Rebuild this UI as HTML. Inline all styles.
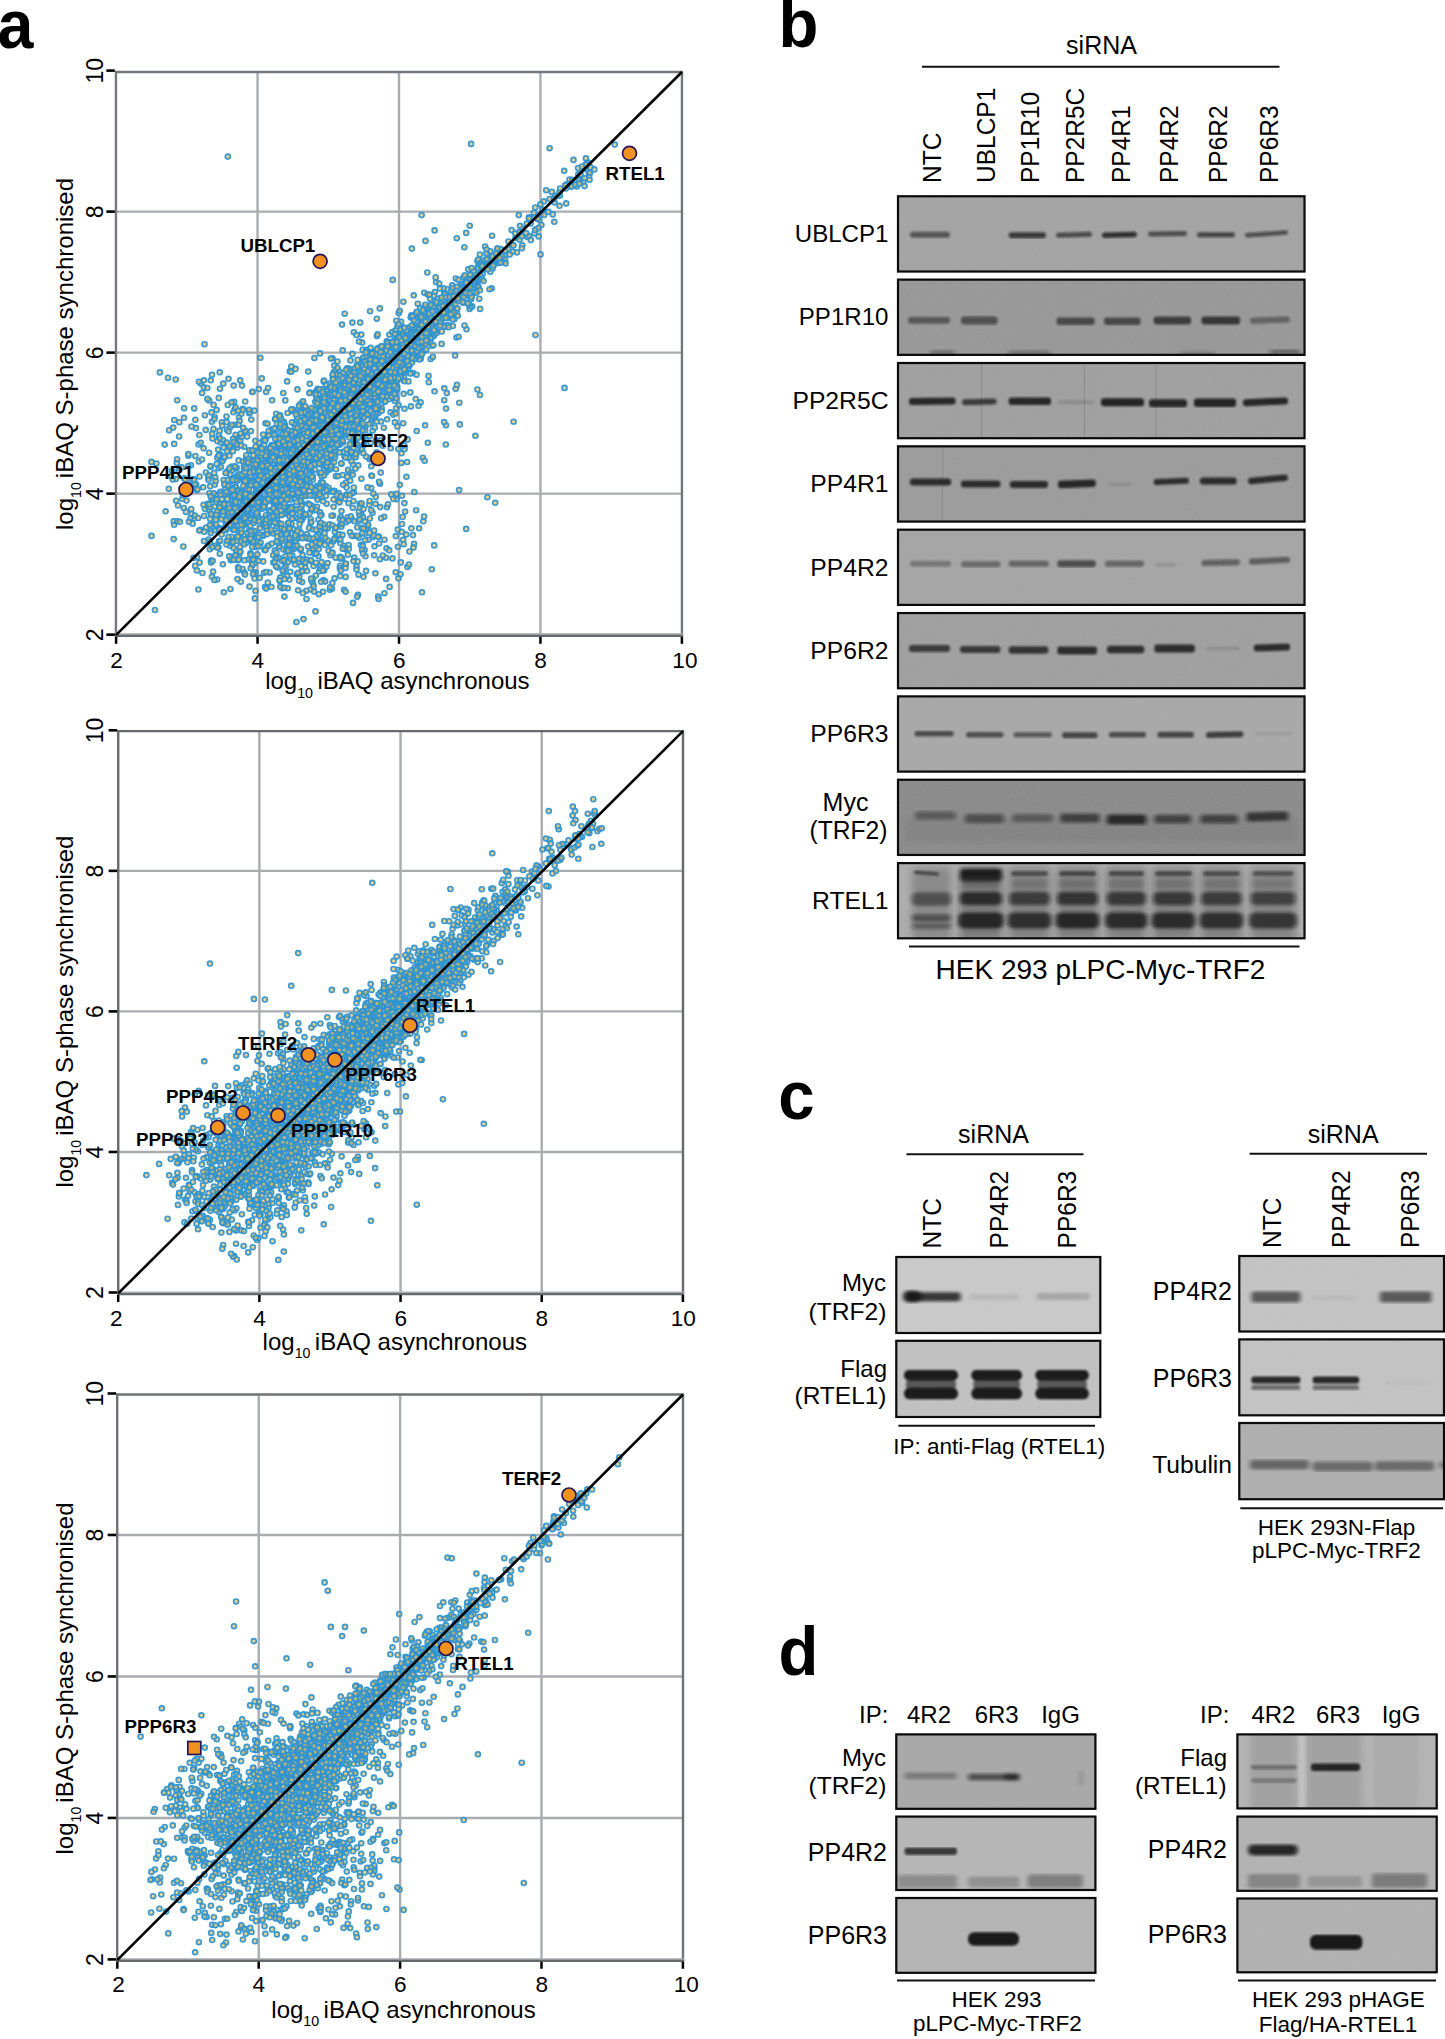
<!DOCTYPE html>
<html><head><meta charset="utf-8"><title>Figure</title>
<style>
html,body{margin:0;padding:0;background:#fff;}
body{width:1445px;height:2039px;overflow:hidden;}
svg{display:block;position:absolute;left:0;top:0;}
text{font-family:"Liberation Sans",sans-serif;fill:#000;}
.b{font-weight:bold;}
</style></head><body>
<svg width="1445" height="2039" viewBox="0 0 1445 2039">
<defs><marker id="m" markerWidth="10" markerHeight="10" refX="5" refY="5" markerUnits="userSpaceOnUse"><circle cx="5" cy="5" r="2.48" fill="#e2bd5e" fill-opacity="0.7" stroke="#2f94d2" stroke-opacity="0.95" stroke-width="1.68"/></marker></defs>
<line x1="257.55" y1="72.0" x2="257.55" y2="635.2" stroke="#a9adb0" stroke-width="2.4"/>
<line x1="115.95" y1="493.64" x2="681.95" y2="493.64" stroke="#a9adb0" stroke-width="2.4"/>
<line x1="399.00" y1="72.0" x2="399.00" y2="635.2" stroke="#a9adb0" stroke-width="2.4"/>
<line x1="115.95" y1="352.62" x2="681.95" y2="352.62" stroke="#a9adb0" stroke-width="2.4"/>
<line x1="540.45" y1="72.0" x2="540.45" y2="635.2" stroke="#a9adb0" stroke-width="2.4"/>
<line x1="115.95" y1="211.61" x2="681.95" y2="211.61" stroke="#a9adb0" stroke-width="2.4"/>
<path d="M115.95 635.2V72.0H681.95V635.2" fill="none" stroke="#71777d" stroke-width="2.4"/>
<polyline points="231.7,512.7 391.4,387.7 328.6,550.8 265.5,423.2 320.2,458.3 279.6,488.2 232.8,507.9 331.9,393.4 322.5,414.5 204,541.1 413.7,295.3 394.9,422.4 252,462.6 353.1,387.7 276,455.7 302.3,438.9 357,403.6 232.3,495.6 339.5,408.6 420.6,402.4 403.7,393.8 292,453.9 378.6,413.1 212.7,514.7 309.3,456.2 310,392.6 220.3,492.8 292.5,431.4 428.5,375.9 456.7,309.5 365.1,412.9 360.3,402.6 269.6,501.3 257.3,515.5 253.1,532.8 345.2,418 335.8,386.4 263.4,463.4 271.4,531.7 354,456.8 340.7,437.7 275.1,419.2 410.9,406.4 314.7,454.6 308.5,445.7 255,502.6 313.5,429.3 418.5,405.8 348.8,472.4 296.9,419.6 332.8,417 333.9,434.7 365.9,439.8 295.5,368.9 364,428.6 303.1,517.4 323,421.4 227.4,527.3 351.3,453.1 253.5,517.3 283.9,421.7 316,396 271.5,445.6 291.3,411.1 226,529.9 257.8,478.7 350.4,407.7 265.4,517.8 381.8,443 243.6,520.8 229.4,455.8 281.6,527.8 311.2,440.7 363.8,437.2 248,491.1 309.3,458.7 396.6,354.9 295.8,459.6 294.2,510.7 321.1,410.3 304.4,458.2 280.1,484.6 210.4,530.8 314.4,358 289.5,480.1 258.8,389.1 227.9,470.8 373.3,365.6 361,411.9 381.6,407.8 323.1,464.9 349.3,429.9 353.4,389.2 390.6,412.3 324.6,421.7 331.3,467.9 251.3,419.6 255.2,464.7 250.9,483.3 332.2,424.2 254.4,410.6 222.8,564.3 323.8,470.4 384.6,402 288.6,448 242.6,569 296.1,439.4 372.1,419.1 322.7,431.5 290.1,465.6 408.2,342.6 413.5,342.4 329.2,469.7 383.8,427.7 361.3,449.8 372,419.3 403,379.2 365.3,408.5 351.4,472.2 270,469.4 258,474.1 312.7,445.6 342.7,350.3 324.5,422.9 314.8,439.4 307.1,410.1 304,430.4 355.4,427.6 249.2,498.3 209.8,549.2 310.3,485.5 240.4,492.3 376.9,336.1 303.9,450.9 307.8,464.7 196.9,490.1 340.6,440.9 274,470.3 364.7,376.1 341.3,382.4 268.5,480.8 353.4,439.9 287.5,489 394.8,392.9 348.1,394.6 352.9,464.4 336,469.2 237.6,518.1 190.9,465.2 326.2,432.7 459.3,402.7 197,557.2 327.1,390.7 377.8,444.1 351.9,381.4 276.6,498.8 299.9,486 287.6,413 261.2,500.2 270.9,531.2 260.2,483.9 322.1,459.7 332.8,423.3 331.7,464.4 352.8,474.7 256.1,458.7 269.6,476.2 380.3,391.8 298.4,434.4 293.2,432.1 356.4,387.4 373.9,372.9 368.4,363.7 341.2,428.3 326.2,461.6 343,442.5 335.9,447 410.3,392.4 302.8,402.1 345.1,407.6 315.6,448.7 396.2,381.1 173.7,521.4 369.5,459.3 336.5,386.7 257,509.9 441.6,343.9 326.2,472.2 291.8,439 245.8,490.3 367.1,404.2 336.5,442.9 299.5,492.2 324.4,430.6 336.6,394.1 352.4,353.9 358.2,465.4 236,468.5 297.3,486.4 196.9,570.4 289.2,496.8 370.8,422.8 364,444.7 306.6,448.2 303,469.3 360.2,322.6 329.3,429.6 344.4,378.3 331.5,419.8 301.6,502.6 398,363.4 268.7,529.9 246.2,503.1 298.4,474 266.9,474.4 235.3,424.7 268.1,461.8 360.8,386.4 319.4,443.8 332.2,425.1 226.9,525.3 286.7,506.5 383,398.2 242.1,499.8 392.7,398 221,460.4 324,422.5 265.9,485.7 348.9,458.1 255.6,481.1 271.9,429.3 405.7,358.7 326,495.8 417.7,332.1 287.4,466.1 247.3,502 318.6,440.8 316.8,490.2 444.3,388.3 368.3,407.3 374.3,379.4 382.6,445.7 446.6,315.1 357.1,403.1 335,408.9 263.7,481.7 270.1,496.5 318,428.6 374.6,399.1 374.7,386.6 274.3,504.4 334.6,408.5 320.2,429.8 259.1,507.7 342.2,418.1 195.2,565.9 350,452.2 424.3,292.8 222.6,460.9 328.6,456.7 208.6,539.5 299.5,509.5 352.2,402.3 236.1,476.8 353.8,487.5 302.5,470.3 285,455.3 309.5,419.5 350.1,429 366,365.9 365.3,407.2 306,495.9 362.2,342.6 373.1,371.1 240.1,535.4 380.7,440.3 375.2,417.9 356.2,384.1 370.6,442.7 238,505.6 296.4,454.9 211.1,560.5 284.4,431.3 480,395 372.7,430.5 362.2,403.7 275.5,460.1 237.6,475.4 263.9,507.4 333.4,450.4 263.4,478.6 276.1,473.8 384.9,393.8 225.4,529.4 208.5,477.9 299.2,483.4 312.9,453.7 320.6,464.5 225.1,503.2 283.3,393 282.9,426.8 338.1,430.6 295.8,540.5 371.5,475.5 331,437.8 250.7,450.9 295.5,448.9 292.6,481.6 393.8,380.3 238.6,522 248.6,559.4 276.3,446.6 236.2,438.3 275,448.7 329.5,383.5 269.6,572.5 265.1,484.9 274.4,428.3 261.5,519 352.4,443.3 332,427.2 279.5,484.9 239.1,556.8 408.3,368.8 325.1,405.4 347.2,432.5 335.1,457.5 319.6,450.6 374.3,416.3 323.8,455.6 275.5,472.5 348.3,403.3 328.4,452.2 261.9,474 287.4,513.5 398.6,405.2 308.2,371.6 416.9,337.8 271.2,457.2 261.9,470.9 337.7,425 383.4,367.5 355.9,422.8 342.6,426.8 420.6,350.9 259.1,468 240.6,503 301.8,510.8 249.3,413.2 366.1,456.6 357,378.9 357.5,444.6 344.7,313.7 261.6,479.4 430.7,359 273.2,489.4 394.9,401 247,476.5 321,414.8 303.7,428.5 350.6,425.9 362.1,412.7 299.8,452.5 304.9,442.1 320.6,425.4 245.9,514.3 256.5,464.2 226.2,528.4 311,440.6 421,315.8 341.9,393.5 295.7,517.5 264.2,469.3 373.1,399.8 314.4,494.7 242.3,542.7 259.6,498.1 276.9,518.6 232,470.5 325.8,384.4 309.6,432.3 230.3,518.1 283,470.3 289,539.6 281.6,539.6 232.8,522.5 411,356.1 279.8,442.6 350.1,419.2 333.9,372.1 319.8,490.6 331.9,405.4 352.8,425.6 300.3,407 455.1,355.4 340.2,440.2 338.7,493 349,410.7 376.8,318.7 351.2,376.1 264.1,445 298,519 252.1,480.9 264,464.3 345.3,434.5 363.4,403.9 202.4,573 302.9,435 216.7,464 323.7,381.6 320,353.4 296.6,509.1 307,484.7 255.8,486.8 346.1,434.8 240.9,541.5 265.9,515.2 287.3,489.9 395.4,395.6 442.4,318.1 272.1,400.3 195.3,456 341.5,463.8 278.8,500.9 289.8,371.4 257.7,505.8 277.1,446.4 302.2,433.9 291.3,366.5 324.1,462.4 379,375.1 335.6,452.6 238,560.3 387.1,419.3 329.5,490.4 283.5,484.6 397.6,368 248.5,484 327.4,449.8 271.1,476.8 362.7,349.7 317.1,485.8 339.6,444.8 188.3,466.1 353.9,332.2 252.5,496 336.1,369.9 396.1,408.2 382.4,382 420.7,358.7 269.5,523.6 360.6,448.1 315.7,431.2 347.9,433.6 376.8,390.6 334.9,453.4 281.1,497.7 335.9,476.3 405.7,372.8 242,497.1 320.3,442 239.9,474 378.7,391.4 255.4,560 284,450.4 275.4,418.8 318.4,436.2 429.3,309.4 396.2,361.7 247.8,487 429.8,331.2 230.9,487.5 244.4,572.6 229.9,518.8 334.4,443 356.8,430.2 193.6,557.9 345.6,429.6 294.9,453.3 342.7,398 289.1,460 370.9,405.7 319.4,389.8 234.2,488.6 375,352.1 314.2,421.9 374.8,427.5 380.1,376.6 256.2,489.6 312.1,451.2 290.6,507.7 249.5,479.5 347.6,449.5 287.1,381.4 367.5,356.6 415.7,399 342.6,475 273.3,492.1 419.8,322.4 324.2,465.6 256.8,485.6 321.3,496.2 351.7,452 388.9,399.2 349.4,376.9 355.9,439.9 296.3,452.7 318.7,431 289.7,452.8 315.8,438.4 318.4,459.5 358.4,432.9 230.8,560.3 361.2,527.8 292.4,453.5 276.8,526.6 292.7,441.1 254.9,496.7 257,457.6 322.5,483.2 306.2,463.2 286.7,477.7 371,384.3 343.1,451.9 322.3,418.3 334.8,440.2 327.7,528.4 265.2,489 347.4,388.7 276.7,444.3 236.5,554.2 199.6,562.6 312.2,418.9 259.9,468.1 311.9,449.2 266.7,454.9 333.6,506.8 302.1,450.6 245.4,507.7 312.2,444.3 332.5,358.3 324,380.6 215.7,530.2 243.3,515.6 220.5,491.9 334.4,490.7 369.1,408.7 356.9,452.8 244.5,560.3 313.6,438 404.6,449.1 293.6,471.3 379.8,308.4 235.6,434.9 377.3,383.2 456.5,337.5 248.7,514 406.2,534.6 283.4,549.5 335.6,537.3 345.9,522.2 239.3,552.2 320,566.5 323.5,580.1 367.5,528.1 374.5,546.3 360.9,544.9 255.5,590.9 345.7,563.8 303.5,496.2 346.6,487.6 347.7,517.2 372.6,537.2 305.8,515 329.9,589.8 313,583.7 305.1,487.8 264,572.7 280.9,534.9 233.4,558.7 342.3,558.8 338.1,501.4 345.8,482.7 384.4,593.2 273.2,555.2 346.8,494.8 325.8,486.1 345.6,549.2 302.9,570.9 317,497.5 334.8,531.8 308,546.6 345,548 290.3,571.7 251.8,559.9 299.1,529.1 289.8,544.8 307.5,538.5 407.5,566.9 295.8,491.9 334,539.9 238.8,559.5 302.6,555.1 281.7,504.6 340.1,525.3 343.1,484.7 356.5,566.4 299.3,576.6 316.9,546.4 253.3,540.6 380.2,507.1 369.6,532.8 367.7,526.3 353.9,535.9 257.1,513.6 330.5,468.4 326.7,503.7 374.1,530.5 289.4,579.6 280.2,534.4 240.2,534 229.5,539.6 335.5,528.2 340.8,517 266.3,572 358,594.8 351.9,519.2 240.8,581.7 290,542.4 299.6,537.5 340,565.7 275,509.6 293.1,529.1 341.5,511.1 353.5,501 267.4,546.5 405.1,511.6 325.3,529.2 252,534.7 310.6,589.5 333.1,515.6 329.5,524.4 341.4,526.8 336.9,494.9 302.7,484.9 269.1,510.4 424.1,516.5 245,574.6 314.1,591.6 319.5,490.8 333.6,499.4 386,557.7 295.5,487.2 300.6,550 350,532.3 255.5,521.1 345.8,563.7 359.7,503.8 288.4,494.4 356.5,569.6 309.7,513.1 310.4,538.9 290.9,545.9 348,469.9 313.4,548.8 285.9,512.9 264.9,505 319.2,571.3 291.4,481.9 344.6,457 411.4,528.3 257.4,554.4 287.1,576.2 423.3,521.3 308.3,537 281.5,541.4 289,548.9 198.4,589.5 289.5,540.4 398.5,578.3 312.5,529.3 310.8,519.2 236,537.5 317.5,499.8 333.2,541.5 332,588.7 364.6,550.1 263.3,535.2 306.9,534.1 324.6,539.4 298.1,538.5 287.7,588.2 395.7,572.2 311.4,509.6 311.2,561.2 230,545.8 359,537.8 401.3,462.9 263.3,520.6 293.8,494.3 254.9,598.4 263.2,561.4 313.3,506.7 311.7,581.1 371.2,488.1 434.2,545.4 361.4,514.3 315.2,540.6 246,543 305.3,567.6 213.1,571.6 286.3,559.4 341.8,523.7 211.9,576.8 306.6,559.9 406.4,476.8 262.9,525.5 292.3,555.2 332.4,525.2 397.8,529.6 332.4,552.5 251.1,554 338.1,476.1 268.7,545.4 313.1,548.4 330.4,555.3 427.8,442.8 335.6,557.7 344.1,589.8 378.7,536.6 319.8,473.2 359.4,515.2 251.7,541.5 312.6,495.8 276.9,515.4 247.6,537.7 402.6,517 289.2,537.9 289.6,516.5 330.1,587.2 358.8,511.5 339.9,519.3 354.2,557.6 273.1,533.4 265.1,587.1 319.7,540.4 397.9,546.8 320.3,532.2 255.3,515.4 247.4,522.8 254.6,578.5 401.7,531.8 301.7,520.2 277.4,532.9 431.8,569.3 310.6,523 386.5,548.3 313.6,566 363.5,528.5 301.6,504.2 275.1,509.8 321.9,525.9 340.3,556.9 362.7,545.9 309.2,538.5 282.1,588.2 274.8,502.3 315.7,529.9 267.8,582.5 329.7,459.2 332.4,583 327.5,540.2 252.2,565.5 313.6,586.2 304,514.6 274.3,518.7 309.5,490.9 284.9,563 321.1,541.5 283.8,530.1 323.1,568 293.2,548.9 343.7,545.7 320.9,568.8 311.3,522.1 382.9,555.5 306.3,590.7 367.5,487.4 251.6,539.1 373.8,535.3 361,504.9 287.8,562.2 291.3,533.4 284.6,537.2 302.1,582.1 403.1,539.8 286.3,485 379.9,559.2 231.8,557.1 266.8,530.3 318.5,556.2 272.5,516.2 264.7,525.4 390.7,448.2 365.5,556.2 400.5,574.2 295.1,548.2 295.7,545.3 287.5,509.6 350.2,480.7 340.4,543 266.1,588.6 300.8,532.9 409.4,551.5 254.7,559.2 306.3,559.6 276.6,556.4 299.6,499.8 277.6,567.4 375.7,496.9 311.9,505.8 387,507.2 318.5,534.6 414.3,492 268.5,517.7 287.8,532.5 374.1,555.3 340.7,498.6 376,440.4 320.2,543.2 347.9,554.7 301.1,566.1 310.1,495.4 302,571.4 301.7,505.8 236.2,550.4 361.4,478.7 311.7,469.9 321.8,486.5 280.3,586.8 314.4,553.6 315.4,546.5 284.1,528.8 379.1,543.5 288.2,528.1 297.5,531 279.9,581 263.5,535.6 422.8,457.7 369.8,435.9 419.1,528.3 372.5,512.7 305.2,537.4 321.4,514.7 320.9,527 291.8,506.6 342.6,520 237.6,536.5 272.1,513.5 289.8,555.4 238.1,567.4 324.9,545 319.5,494.5 353.8,492.2 319.8,472.7 345,498.8 294.7,546.2 334,455.2 285.7,566.4 267.5,521.7 369.2,504.8 396.6,493.9 300.7,548.7 345.6,576.9 326.3,566.8 414,543.9 336.6,444 302.2,483.4 279.2,545.3 302.1,538.2 277.4,511.4 389.2,550.3 323,591.8 308.2,503.5 371.9,476 231.7,542.8 371.3,466.3 284.4,578.9 388,504.3 384.1,516.8 328.6,487.7 271.4,587 315.6,489.9 320,524.4 211,562.4 279.2,546.7 256.7,537.6 381.1,518.2 400.8,562.4 255.1,563 267,526.1 314.4,510.3 347.3,494.6 354.4,521.2 289.7,528.6 255.4,572.3 277.7,502.9 325.3,537.7 298.5,561.8 369.6,501 266.7,530.5 318.8,549.1 253.2,559.6 348.7,520.4 318.5,534.4 295.5,537.7 274.3,499.6 278.4,543.1 299.1,580.8 292.6,513.3 253.4,523 422,592.3 288.8,522.8 369.8,518.5 357.3,527.3 254.3,519.8 403.7,544.2 279,558.1 223.8,592.3 335.7,527.6 287,547.3 280.4,577.3 249.5,586.6 262,519.5 351.7,535.8 355.7,457.2 339.2,534.4 304.3,473.2 372.6,458.4 352.3,493.1 288.2,523.3 317,506.8 342.4,534.9 260.3,546.5 304,562 295.2,535.4 334.2,539 375.4,573.3 231.4,558.8 322.9,463.6 325,527.6 323.6,524.2 358.6,574.7 306.6,486.3 327.6,563.1 316.4,510.2 371.3,510.3 384.4,539.7 288.2,549.3 386.1,578.9 332.1,553 285.3,556.4 237.9,536.5 276.7,524.5 345.5,568.1 286.2,549.9 274.7,550.2 283.6,571.7 376.6,452.4 315.9,562.7 258.1,541.5 243.9,544.5 273.4,562.6 380,483.7 340,558.5 322.8,487.9 401.9,495.8 230.4,589 325.2,581.6 286.3,534.2 307,571.1 302.9,593 279.5,580.3 331,462.6 315.8,575.5 339.2,539.5 241.3,529.3 240,547 412.9,535.1 275.9,559.1 252.3,564.5 261.9,535.8 258.4,560.8 255,573.8 321.2,486.3 293.7,560.8 379.1,481.9 339.9,568.2 366,570.9 368.2,524.7 348.6,545 300.4,501 352.8,507.8 340.2,576.1 316.5,536.4 378,536.8 287.6,543.9 259.6,534.4 258.5,537.1 404.4,503.1 296.2,483 318.5,487 212.6,560.8 389.6,586.9 276,566.2 260.6,542.6 230.3,541.9 340.7,557.6 362.9,517.1 276,502.4 320.2,512.4 284.3,587.8 311.6,508.6 331.1,545.3 284.4,596.6 300.2,520.6 313.1,538.5 306.5,599 255,546.9 217.2,579.5 293.8,559.4 266,526 291.5,523.7 324.5,533 321.6,484.9 319.7,526.5 240.2,551.7 340.8,570.4 334.6,578.3 296.9,574.3 350.8,516.4 358.7,520.9 324,570.5 305.3,562.4 309.4,552.6 345.6,591.7 238.5,570.3 339.5,502.4 318.4,519.5 321.6,562.1 245.5,539.5 364.9,533.8 346.7,495.1 292.2,518.6 362.1,550 312.9,578.7 357.6,561.4 311,560.1 264.5,550.1 314.5,553.7 282.1,538.8 309.1,527.8 274.7,562.1 276.4,552.4 279.2,523.3 257.9,546.1 276.8,541.5 259.8,577.8 298.1,590.3 214.4,579.9 297.9,572.9 305.6,514.2 416.1,510.2 340.8,496.5 363.5,576.8 321.1,581.8 289.1,544.4 294.9,499.3 271.8,543.6 348.8,548.8 349.8,495.2 357.1,596.7 347.3,476.7 312.1,458.4 265.6,550.1 323.1,501.3 281.4,523.8 284.2,568.7 320.6,515.6 315.6,542.5 402,524 363,553.4 245,524.6 409,564.5 392.4,558.4 277.1,536.5 247.3,532.7 281.8,561 301.9,559.7 312,544.7 337.9,444 378.2,596.6 283.9,514.1 296.9,509.2 322.8,570.5 288.6,522.7 237.5,579.1 340.4,539.3 235.2,555.3 344.8,548.9 332.7,491.9 331.5,515.8 283.8,560.1 295,564.4 282.6,570.7 396.4,499.3 270.3,511.7 253,574 318.9,594.2 362.4,533.1 316.4,553.4 287.7,510.4 357.3,535.7 368.4,539.7 219.8,553.7 311.1,578.5 320.7,522.7 399.8,484.8 321.7,476.3 267,534.2 378.6,599 359.8,519.3 365.3,540.2 359.8,507.7 326.7,490.2 233.7,559.9 413.5,547.4 299,558.8 299.6,524 353.5,561.1 319.8,543.5 297.1,545.5 299.9,509.2 288.2,550.8 395.8,536.1 296.5,501.9 177.2,400.2 211.9,421.7 211.8,499.2 250.9,431.1 235.5,486.9 223.8,447.6 280.1,415.3 203.8,387.3 239,439.4 245.2,401.5 226.6,422.1 221.8,422.3 234.6,409.6 248.5,467.4 207.3,388 291.1,371.8 235.1,446 277,440 259.5,463.6 233.4,412.3 204.9,415.2 231.3,480.9 261.7,378.4 190.6,486.3 172,470.8 246.3,458.2 174.2,443.9 182.4,498.9 220.8,442.6 229.9,474.2 233.7,491.5 246.4,483.6 224.1,457.8 198.6,444.5 271.2,454 249.3,471.2 226.5,416.5 196.2,484.5 244,468.8 224.6,456.9 179.3,422.2 263.1,440.6 176.9,463.1 211.7,498 233.1,438.9 226.9,429.7 177.1,459.2 209.2,400.5 224.8,483.3 173.7,539.1 276.8,455.7 237.6,477.2 251.3,460.9 235.6,407.4 213.5,428.9 174.3,420 249.7,412.4 281.1,450.7 185.1,485.7 231.6,466.6 178.7,470.5 184,417.8 233.7,385.6 285.4,427.9 183.8,508 227.8,405 219.1,508.2 205.9,472.5 216.6,409.9 230.3,427 179,467.9 203.6,504.8 228.6,447.9 175.8,479.1 200.7,383.6 210.8,380.3 168,377.7 227.1,443.6 218.8,435.4 203.6,448.3 227.1,451 195.4,419.7 266.2,391.9 244.3,432.6 188.3,455.7 171,476.2 256,469.5 220,388.7 173.2,427.6 244.2,446.7 174.1,524.8 200.4,529.9 195.9,428.1 249.1,409.8 247.6,483.6 215.9,494.7 234.9,444 247.1,436.6 207.4,398.9 217.9,515.6 245.3,430.8 258.9,442.8 210.2,486.3 209.1,452.7 250.7,473 217.3,441.1 219,455.4 243.1,480.3 240.3,440.9 184.1,408.2 210.8,466.7 181.7,467.3 223,440 205.7,429.9 194.2,408.4 268.3,434.4 199.4,435 188.4,454.1 239,417.2 265.6,439.7 236.6,467.7 226.3,472.4 228.6,431.5 187.6,488.6 221.9,498.9 262,458.4 212.4,438.6 255.4,440.8 249.4,480.1 218.8,397.9 217.2,457.8 242.8,408.9 226.1,493.8 212.1,433.8 223.7,480.1 211.5,412.4 263.7,454.8 192,480.3 208.8,475.3 241.9,436.8 241.4,413.8 238.5,490.7 214.7,506.5 179.1,436.5 175.7,379.5 184.3,478.4 243.2,427.8 214.6,417 210.1,518.8 219.6,430.9 237.8,491.9 233.9,442 210.4,466.1 248.1,458.9 276.6,433.7 237.4,447.6 202.1,392.9 277.1,423.9 229.9,492 193.5,479.1 225.6,473 240.2,380.4 168.8,488.8 234.1,401.8 252.4,392 246.2,455.2 236.9,444.6 200.7,442.8 256.1,470.9 203.9,380.3 219.7,372.3 252.9,469 213.6,404.9 213.4,499.3 220.3,454.2 265.3,456.2 156.4,463.5 243,461.6 228.5,378.8 215.2,477.4 229.6,445.8 242.2,474.8 268.9,435.4 218.5,455.5 260.4,357.8 186,511.9 199.5,476.5 281,418.6 263,449.5 177.3,521.2 222.2,425.6 198.9,461.5 297.7,432.1 182.9,495.3 185.5,479.7 209.4,493 242,385.6 219.9,438.2 241,445.5 231.6,402.3 164.7,444.6 186.5,500.6 288.1,434.8 294.6,411.6 233.3,478.2 285,431.8 309.8,383.8 252.5,391.8 218.2,449.6 212,374.7 223.5,509 214.2,419.2 202,459.5 194.8,484.1 239.6,420.9 259.9,466.3 229.5,490.4 254.9,466.6 238.3,410.7 269,461.1 238.5,424.7 214.1,472.9 205,509.1 198.9,381.7 246,462 268.1,388 223.3,383.6 229.4,468.4 276.3,413.7 231.9,424.8 207.9,503.7 191.5,426.5 242.9,409.9 199.3,530.5 226.9,442.5 355.8,454.1 404.2,445.4 480.1,308.9 424.6,460.7 466.5,329.3 365,521.6 348.5,503.2 458.6,336.7 477.4,389.5 434.5,391.3 446,425.3 446,408.6 444.2,400.2 416.7,431 391.3,494.4 401.5,453.3 455.7,388.7 445.8,444.5 342.7,548.8 393.3,414.6 398.4,449 393.4,498.9 361.6,503.2 381,421.6 425.1,425.3 373.3,493.5 363.5,509.1 358.2,432.4 464.5,325.5 428.8,382.2 403.2,423.2 397.4,426.4 444.1,422.1 371.1,457.9 407.6,439.4 407.1,462 380.7,472.6 375.5,503.9 446.8,393.1 457,384.9 459.8,424.4 362.1,449.5 404.5,408.8 351.4,461.2 355.5,468.6 352.4,322.6 466.2,232.9 297.4,389.4 359.1,341.6 342,324.6 411.8,248.6 403.4,301.7 299.8,413.3 464.4,247.2 330.9,358.6 361.3,334.6 398.7,313.1 356.5,335 362.9,358.2 456.8,238.2 392.7,279.9 434.6,230.4 370.1,311.2 425.5,240.9 370.6,347.8 417.8,303.7 427.3,272.5 356,402.7 346.1,410.8 215.4,545.9 266.3,466.6 322.8,412.9 371.7,416.1 399.1,375.3 336.7,441.1 359.8,406 261.2,453.5 394.3,385.5 384.4,364.1 334.9,416.1 406.1,356 317.3,421.1 325.6,452.6 300.6,403.7 471.5,296.9 250.4,514.1 346.7,390.2 329.1,439 359,412.9 262.5,508.8 393.6,371.6 380.4,367.5 336.4,435.4 326.8,445.7 357.6,416.6 404.9,355.6 228.1,480.1 431.2,327.5 310.6,414.7 387.9,352.5 290.7,457 462.9,290.7 356.6,389.2 452.8,302.7 311.2,449.7 305.9,447.9 412.6,339.2 389.2,366.5 370.2,391.4 412.8,325.4 357.9,368.6 333.6,436.7 230.3,521.7 366.3,349.7 387,379.8 301.7,472.7 363,359 320.2,406.6 341.8,398.4 394.8,338.7 239.9,492 365.3,383.2 383.8,381.1 309.4,393.1 355.2,395.8 287.7,486.5 332.8,374.9 385.4,369.3 391.5,357.6 296.2,440.7 399,361.8 374.1,397.6 393.4,372.9 361,426 377.9,361.8 339.3,375.8 488.7,254.8 327.8,425.2 421.6,344.9 348.1,411.7 246,488.1 384,387.8 421.9,335 392.1,361.9 390.6,357.2 299.5,459.3 367.7,392.2 260.7,489.7 436.1,282.2 432.6,306.4 286.3,473.7 336.4,445.2 283.7,494.7 310.9,463.3 335.1,450.4 281.2,485.2 329.9,447.7 390.9,375.4 329.5,426.1 381.8,356.6 318.8,401.4 354.6,404.4 252.6,468.3 400.2,349.8 284,484.3 315.4,421.7 277.5,495.9 375.6,377 270.4,460.2 383.6,376.9 466.9,294.9 361.4,382.2 408.4,350.3 345.7,386.5 383.1,370.5 372.6,384 408.7,329.1 407.8,345.5 355.2,423.3 262.2,474.1 329.9,401 382.2,349.4 221.8,508.9 345.3,387.5 213.8,493.3 414.6,338.9 461,295.7 392.8,346 321.2,432.2 400.9,364.5 430.1,327.2 449.7,305.3 437.7,324 408.7,334.7 297.2,475.8 358,429 370.4,371.8 332.9,386.2 218.1,514.6 327,406.7 306.1,451.4 369.7,403.5 372.3,389.6 281.2,515.2 305.7,457.3 357,397.2 260.5,447.6 348,412.1 288.3,450.8 297.6,444 397.7,351.4 353.3,429.9 321.6,449.6 439.3,313.9 312.8,412.3 340.2,405.1 344.6,403.7 536,229.2 388.4,372.7 401.8,358.3 314.2,420.2 403.8,362.2 432.8,356.9 258.2,461.7 364.1,372.3 446.5,307.2 463.4,302.7 363.2,393.8 487.2,267 320.8,463.6 402.7,335.1 363.4,357.6 265,452.1 413.4,349.9 280.7,494.7 302.8,441.2 327.6,397.9 263.1,468 420.6,336.6 328.9,442.3 263.5,472.9 355.3,382.4 337.6,397.3 273,463.8 320.1,444.8 402.1,351.9 399.1,357.2 251.4,501.9 407,347 397.2,336.3 409.5,327.3 321.3,436.7 304.4,455.1 351.1,419.9 306.6,442.8 323.2,411.2 308.4,438.4 327.4,419 322.5,439.4 347.9,400.4 361.7,398.6 336.9,425.1 319.7,442.9 448.9,311.1 397.4,341 386.1,383.5 312.8,476.3 392.1,372.6 353.2,429.6 387.4,372 357.7,386.6 505,255.9 349,404 285.6,465.7 424.7,350.6 411.9,329.6 437.1,331.9 284.9,457.1 279.3,437.3 257.9,516.4 356,400.2 388.6,368.7 414.2,343.3 409.7,359.3 351.8,409.7 439.4,311.8 361.3,392.3 331.6,433.1 294.6,449.7 369.5,392.2 299.6,415.6 324.6,429.1 428.4,326.2 306.8,465 248.3,481.9 357.5,394.4 386.7,375.1 363.6,445 345.3,413.8 314.6,454.6 257,486.8 321,482.4 276.3,475.3 416.1,335.6 329,429.7 419.8,317.5 325.1,411.6 283.4,464.8 347,394.2 363.1,408.7 419.8,327.9 250.7,568.2 319.3,441.3 360.9,381.9 298.3,460.5 355.5,411.3 324.5,430.4 432.1,327.8 417.2,333.7 206.1,527.6 247.1,505.5 312.8,479.8 334.1,412.6 331.8,421 295.1,427.7 373.8,369.8 397.3,360.5 345.1,402.5 335.3,440.7 353,417.6 286.7,457.1 391.6,360 397.5,364.7 289.8,471.8 428.9,320.1 322.6,397.4 402,370 342.4,411.2 332.9,423.5 380.6,362.2 299.8,487.2 326.4,424.8 271.9,485.7 356.8,365 324,420.4 322.3,429.6 314.1,446.8 386.6,376.2 356.8,392.6 338.5,433.5 312.8,437.5 450,300.5 433.7,318.8 254.4,459.3 401.1,321.9 388.4,391.9 346.8,377.1 363.5,379.1 266.2,500.1 488.3,255.1 474.9,292.1 327.7,389.8 344.3,409.9 356.9,405.4 324.6,473 386.5,387.7 333.5,405.3 286.5,485.1 314.7,442.7 289.3,436.9 299.1,441.8 330.8,441.2 377,370.3 305.8,426.7 233.8,501.3 419.9,315.1 288.4,430.3 430.8,325.7 359.1,399.9 381.6,385.6 271.9,445.1 336.3,395.3 321.1,438.1 337.9,415.7 367.6,380.7 304.6,422.6 388.6,358.2 236.3,479.1 292.1,493.5 372,389.9 364.5,371.3 413.6,353.8 431.9,305.6 372.3,387.6 387.7,365.4 352.8,391.2 361.6,411.9 320,400.3 345.2,399.6 303.8,439.7 315.3,401.9 379.3,350.4 372.6,379.9 412.8,341.4 302.6,427.4 324.9,436 371.1,386.7 297.6,469.1 284,460.6 378.1,371.2 328.4,433.5 389.4,353.8 338.8,397.2 302,424.3 282.7,478.9 421.3,346.5 318.5,398.7 283,461.4 257.9,510.8 281.8,504.4 317.7,439 409,332 291.9,475.7 376,414.1 355.8,402.9 270.1,499.4 399.8,377.1 193.8,518.5 411.6,351.8 352,427.6 249.3,530.4 452,303.7 326.9,420.1 429.8,316.3 339.3,392.2 286.8,456.4 397.8,340.1 445.6,306.5 413.4,337 258.7,481.5 372.1,375.1 266.9,488.4 288.3,439.8 423.1,338.2 252.9,505.4 492.6,268.4 239.3,506.4 255.8,493.3 383.7,371.6 325.5,430.2 324.5,421.9 276.7,469.9 377.6,368.1 347.4,399.9 324.9,415.1 278.8,457.8 233.3,496.2 348.3,429.8 289.8,450 374.1,377.7 371.3,367.7 313.1,443.4 379.5,392.5 385.6,357.8 341.6,414.7 414.4,337.9 405.2,359.3 234,518.3 322.3,429.6 304.9,444.3 420.2,308.1 409.1,357 358.3,423.8 365.7,375.4 396.9,368.2 294.4,460 339.9,441.1 326.9,417.8 316.3,446.9 330.4,449.5 356.4,407.1 261.3,499 267.2,487.2 381,364.7 431.6,324.4 445.7,296.3 252.2,546.9 365,398.7 285.2,467.4 289.7,435.6 334,441.3 372.4,403.7 375.2,386.5 310,464.1 409,356.9 344.9,410.1 236.2,514.6 279.1,480.3 302,481.2 394.9,352.7 434.2,300.8 272,487.7 368.9,388.1 318.8,435.7 373.1,384.8 311.8,422.4 258.9,478.4 293.2,455.1 296,458.8 428.3,332.8 298.2,473.3 371.5,386.4 283.5,469.6 285.3,450.5 345.8,401.5 285.4,438.7 451,294.4 418.6,341 273.3,495.3 359.2,379.9 434.9,334.1 235,466.3 316,449.3 425.8,328.3 283.5,468.2 376.8,383.2 327,420.2 365.1,426.9 267.2,477.7 328.1,420.4 311.9,448.8 430.2,298.9 373.4,378.7 330,400.3 346.1,432.1 373.5,373.3 236,515.8 254.1,461.2 298.7,495.4 267.7,450 216.1,501.9 360.5,381.9 283.4,425.8 402.6,333.9 323.3,422.7 322,452.1 369.8,400.8 351.7,383.4 311.4,431.3 374.5,388.7 418.4,349.5 298.4,438.4 411.4,338.2 322.2,430.8 387.9,367 329.2,419.5 328.2,460 350.6,398.9 279.6,501.2 243.6,523.8 363.4,453.2 333.4,448.1 244.1,466 467.6,294 343,378.1 304.6,477.9 363.4,385.5 351.2,370 300.8,433.3 316.3,430.6 240.2,551.8 348.8,406.2 452.1,307.1 399.6,344.7 394.4,352.2 283.1,439.3 263.8,480 385.8,362.9 351.3,399.9 313.8,422.8 312.2,435.5 387.9,357.9 373.6,381.8 298.3,440.2 320.7,419.5 219.9,508 253.1,481.4 365.5,381.2 294.6,435.5 293.7,483.9 358,409.8 412.3,343.5 289.9,477.1 301.2,425.6 311.1,427.3 478.8,266.5 396.7,357.4 355.9,408.3 256.6,514.6 368.8,361.3 367.3,382.7 331.6,440.1 284.4,460.5 310.2,449.7 210.7,496.4 309.7,441.7 302.2,443 255.4,450.8 320.9,445.1 254,530.9 406.9,354.8 319.8,424.5 259.2,488.1 374.8,366.9 371.3,389.1 307,453.2 269.7,515.3 328.6,422.3 368.3,397.5 369.9,377.9 383.7,357.8 384.3,366.8 232.2,497.1 332.2,403.8 228.7,541.6 396,364.7 350.7,387.7 384,354.9 332.8,414.4 325.2,412 306.4,458.7 316.8,427.5 479.9,254.5 404.6,335.4 322.7,435.6 369,415.3 363.6,395.2 282.9,439 324.1,409.9 354.6,398.6 300.4,446.2 361.5,391.3 420.4,356.3 375.9,360.2 341.3,392.8 322,427.2 377.3,373.9 302.7,451.6 303.2,464 410.3,340.3 321.3,449.7 253.5,500.8 387.7,368.5 364.6,361.2 396.1,343.6 324.1,419.3 407.4,351.9 320,418.6 261.9,466.4 316.2,420.2 363.7,415.5 251.4,464.7 325.4,429.3 349.9,401.6 323.1,455.7 345.6,417.2 330.1,414.8 295.3,473.5 365.8,406.2 367.3,378.5 191.6,513.8 282,443.8 385.3,366.7 354.9,380.3 223.3,530.6 359.6,410.4 421.8,332.2 404,377.1 381.9,367.5 319.1,409.9 343.4,411.1 279.2,494.2 326.1,400.8 479.1,278.5 350.8,429.7 284.5,471.3 383.1,395.9 194.9,515.5 478.5,280.5 363,363.8 305.7,412.7 301.9,420.9 295,478.8 347.9,408.4 352.8,422.5 234.3,495.2 387.7,341.8 325.4,442.2 265.1,469.9 385.2,346 389.3,372.8 315,456.9 291.7,443.2 406,347.3 320.5,441 343.7,391.8 416.6,324.3 269.7,487.5 269,521.9 278.2,451.8 313.2,454.3 346.8,414.7 400.3,353.8 312.7,434.9 436.9,304 359.2,403.4 219.9,528.2 316.5,390.8 386.3,370.1 402.1,339.3 296.8,451.8 353.4,434.8 477.7,278.7 332.8,383.7 281.3,460.7 235.8,487.2 325.1,446.1 337.4,361.5 281.7,482.6 423.7,328.7 292.9,451 232.8,529.6 394.2,383.8 327.9,391.2 323.4,418.6 418.9,332.6 306.5,445.7 383,365.3 315.4,446.1 442,311.9 339.3,405.2 328,391.3 383.6,378.6 351.5,427.3 379.6,391.1 333.1,427.4 389.5,380.6 334.4,392.6 319.3,449.9 380.4,377.6 371.5,380.4 293.2,486.1 324.3,425.6 238.7,505.2 341.5,394.1 381.4,346.4 486.3,260.8 375.4,406.1 419.1,358.5 428.3,316.6 388.8,366.4 253.1,541.3 306.1,426.7 360.9,384.9 350.5,379.6 365.3,415.4 283.4,456 227.5,516.2 366.2,386.2 407.7,333.8 341.3,463.2 386.1,384.5 334,462.3 316.8,398.6 317.8,451.5 392.5,358.3 277.2,451.8 353.8,401.1 409.5,365.5 353.9,420.8 265.4,476.7 395.5,413.6 344.7,431 258.3,476.9 326,412.5 321.1,421 380.5,372.2 310.7,433.3 344.9,398.1 388,380.6 223,515.2 404,351.9 340.2,403.4 282.8,467.1 363.1,412.4 406.5,348.3 312.5,459.8 311.5,442.7 433.7,336 437.9,316.3 470.9,299.3 336.1,396.3 301.6,479.6 293.6,472.8 316.8,420.7 278.5,462.2 354.9,368.2 418.2,332.5 283.8,476 429,318 302.9,475.7 280.4,428.4 260.2,489.6 378.8,357 334.8,409.9 353.7,415.6 309,445 374.7,403.7 458.6,290.2 357.9,384.9 407.5,342.1 312,413 393,348.5 420.6,331.7 504.2,261.7 271.7,458.7 463.5,277.2 263.1,453.4 343.3,385.3 322,429.1 336.2,416.8 235.1,525.7 326.4,420.4 287.2,489.4 318.2,401 362,389.3 356.1,406.9 337.7,408 433.2,324.6 365.3,382.9 380.4,365.9 428.8,325.4 337.9,402.3 353.7,397.7 392.1,368.6 321.3,409.8 427.2,334.1 322.2,454.1 350.5,432.3 336.5,409.8 339.7,434.3 330.5,389.1 305.4,419.5 416.7,336.4 310.3,419.8 384.3,354.5 271,457.7 379.3,367.9 261.4,474.6 427,312.1 337.8,413.1 314.2,426.9 209.6,541.7 318.1,439.6 312.4,450.5 304.7,442.3 308.9,434 398.5,347.6 308.7,421.4 323.8,436.7 297.7,452.5 290.9,484.3 367.6,388.8 312.5,429.1 328.7,439.4 358,388.7 345.7,404.5 393.2,364.9 389,365.9 256.6,476.4 303.2,463 403.2,353.5 320,431 379.3,369.3 292.9,463.5 190.4,518.4 315.2,463.3 293,409.5 477.4,261 381.6,356.1 388.4,368.5 399.2,352.7 252.3,507.2 337.1,392.9 348.7,423.8 468.3,295 280.8,426.6 259.3,495.9 332.6,385.2 328.3,412.2 355.4,404.7 359.3,391.8 343.8,385.2 300.8,436.8 329.4,441.9 485.5,268 315.6,449.2 363.6,361.9 291.6,470 245.5,509.3 394.2,344.2 370.2,403.3 426.7,323.8 417.3,345.3 359.7,383.1 308.3,450.4 469,289.2 353.5,395.5 480.3,272.5 396.2,359.1 406.8,343.2 381.7,352.2 384,372 341,407.9 496.4,258.4 293.4,440.6 282.4,503.9 380.1,384.7 329.9,448 426.4,349.5 353.6,414.8 424.5,323.2 351.5,379.7 320.6,453.4 338.7,417.5 402.9,359.7 331.5,445.3 303.9,444 336.4,399.1 376.9,380.7 425.7,320.2 374.4,365 408.7,347.8 341.4,405.7 468.3,290.1 478.3,259.5 314.7,434.4 367.2,380.4 347,403.9 369.2,373.3 342.1,421 298.5,424.4 281.9,479.1 334.3,437.4 355.1,396.1 416.4,336.2 382.6,358.3 331.7,424.3 319,440.8 266.2,488.9 397.1,359.4 363.6,396.5 391.3,363.4 386.7,341.2 378.2,357.7 346.4,403.1 354.9,434.6 304.7,469.1 314.6,436.2 376.6,372.1 484.2,262 333.5,428.5 363.8,383 543,209.7 350.6,386.7 327.5,416 344.1,391.1 329.6,407.9 231.1,511 407.7,359 248.2,511.5 325.8,445.5 318.8,423.8 377,378.4 329.5,411.1 317,430.6 293.5,454.4 347.6,378.3 325.8,426.3 290,437 270.3,491.9 285.8,452 339.6,386.2 235.3,486.9 343.7,392.9 359.8,415.3 403,332.4 297.1,446 285.1,469.3 333.7,414.2 317.2,432.5 415.9,344.2 348.8,390.9 362.8,417.1 305.8,473.4 363.2,391.1 335.4,440.7 435.5,317.5 378.5,366.8 417.3,318.8 259,476.4 293.6,469.3 318.1,439.1 319,463.7 445.7,325.6 368.7,396.4 277.3,476.2 340.4,443.3 449.1,301.9 299.5,406.9 374.8,372.6 243.2,518.8 312.2,449.9 335.9,425.5 331.9,433.4 317.7,388.9 378.8,408.1 412.1,346.4 236.8,515.9 327.1,391.2 387.9,374.9 345.5,388.9 395.5,330.3 337.4,423.9 319.3,441.8 289.1,458.6 388.2,350.9 267.8,492.2 314.5,437.2 340,416.6 379.3,377.6 307.9,414.6 287.7,471.9 364.6,367.5 275.7,484.6 291.1,451 211.6,524.2 362.2,415.2 347.9,405.9 235.8,518.5 330.9,433.6 386.9,396.3 267.5,423.7 243.5,519.1 331.4,420 381.5,386.1 225.8,524.8 387.1,363.2 337.8,423.5 391.2,359.5 264.6,466.1 392.4,359.1 370.7,410.6 387.5,372.1 321,390.1 394.5,355 317.6,415.3 320.1,449.3 262.4,462.8 242.5,505.8 345.4,414.4 324.6,442.3 324.9,414.8 322.5,433.6 375.6,412 333.7,405.6 301.9,449.8 375.7,363.2 461.6,287.5 290.2,471.6 311.6,440.5 375.3,386.1 280.7,443.4 399.6,353.9 293.9,450.6 232.9,451.2 294.1,481.5 402,351 210,524.9 355.5,414.3 218.5,547.3 366.5,351.4 367.3,391.7 397.3,389.5 470.5,285.5 345.1,421.5 400.5,329.2 367.1,361.6 396.8,336.1 310.8,463.1 417.9,346 303.1,401.2 440.5,323.1 389.4,334.7 339.6,388 382.9,367.2 375.7,365.6 362.4,388.2 510.9,243.7 312.5,463.2 262.9,476.8 263.3,472.1 329.3,408.9 369,424.2 400.1,367.7 418.4,349.3 371.1,389.7 363,392.9 311.8,470.7 412,339 424.9,306.9 331.8,391.9 413.1,373 304.9,426.1 346.1,394.1 358.1,391.1 412,354 252.9,471.9 355.2,392.8 409.3,347.6 363.7,368.2 393.2,359.5 312.2,462.5 328.8,427.4 306.8,446.6 217.6,547.7 413.9,336.9 361.5,382.9 226.1,510.8 328.3,439.5 336.9,386.1 398.1,337.2 394.1,368.6 300.6,477.1 309.6,443.6 354.3,383 395.9,333.8 326.4,436.3 310.9,443.6 384.1,371.9 358.5,399.4 421.8,315.3 369.5,369.6 405.6,343.9 224.8,519.5 244.1,466.3 237.4,480.8 301.4,444.1 376.9,395.6 350.4,444.9 376.6,377.5 294.5,448 404.7,349.8 395.4,356 227.3,499.1 240.8,433.6 307.1,446.1 387.8,353.9 389.2,360.3 444.2,293.2 246.4,494.1 356.4,396.3 328.5,397.2 317.6,418.5 338.8,422.9 226.4,544.5 343.9,376.9 323.4,442.9 280.4,501.1 429.3,327.5 303.6,456.7 356,397.3 302.9,456.2 240.3,497.9 325.7,451.3 359.4,391.3 262.7,454.6 375.2,384.2 450.2,313.3 415.9,340.9 312.4,419 299.8,464.4 377.6,334.4 277.8,514.5 284.9,478.4 434.9,292.1 349.1,368.5 391.3,396.5 327.9,427.2 511.6,230.1 537.3,218.7 333.7,412.8 394.6,353.7 331.2,425.2 376.4,378.9 420.9,315.9 427.1,328 334.4,420.2 364.3,371.2 527.3,237 410.6,347.7 429.2,308.3 396.8,380.5 347.4,413.3 297.4,484.6 280.6,453.6 240.5,497.8 283.4,470.4 288.5,450 391.8,356.6 228.1,485.8 389.8,392.9 234.8,529.9 516.9,252.4 330.6,455.7 357.2,393.1 469.5,308.9 314.8,393.1 351.1,393.4 352.6,389.3 382.2,368.2 305.9,421.8 461.8,301.3 431.9,345.8 359,395.8 427.6,331.7 322.4,389.2 308.3,427.3 345.4,412.4 371.9,368.7 257,500.8 324.4,418.6 378.6,377.8 264.3,454.2 372.4,386.7 296.3,487.1 365.9,396.7 362.2,426.8 368.2,381.6 311.8,457.7 208,506.9 583.4,181.5 262.8,500.7 290.3,455.2 259.1,521.1 424.4,311.8 389.2,358.8 401.3,354.4 264.5,463.3 402.8,335.7 310,462.5 420.6,326.3 331.6,401 335,407.6 285.1,453.1 490.3,251.2 267.6,491.7 316.7,414.2 313.5,409.4 293.4,458.7 298.6,450.7 352.2,420.8 355.5,374.6 312.2,427.4 337.2,433.1 347.2,410 278.5,459.3 321.2,414 351.7,411.1 407,343.5 379.7,359.3 370.8,373.2 397.5,348.1 305.1,465.3 396.3,320.7 314.4,424.6 345.2,427.6 300.7,416.1 381.4,365.1 311.6,455.9 368.7,362.2 315.2,424 302.1,430.1 367.7,385.2 281.5,453.5 408.2,328.2 298.1,453.3 313.8,440.1 422.6,343 244.6,494.5 395.3,352.9 339.7,400.1 356.4,414 362.8,407.6 275.3,456.2 427.6,294.6 388.3,391.5 366.8,356.1 377.9,348.1 396.1,347.1 374.7,406.5 294.5,479.9 257.3,485.6 264.5,501.7 309.7,436.3 408.1,357.1 253.5,484.8 333.2,447.8 379.9,379.1 312.1,426.3 305.5,410.8 285.8,490 352.8,406.1 291.7,437.3 284.9,444.8 307.8,431.6 357.3,386.9 395.8,352 266.1,482.1 367.3,382.5 262.6,472.7 250.5,553.3 293.1,449.9 334.6,403.2 338.6,420.8 352.8,382.6 219,541.2 423.4,328.8 395,369.7 370.8,364.8 214.9,484.6 374.7,393.8 304.7,440.7 325.5,459.2 345,417.7 234,502.8 406.4,348.5 392.6,342.1 380.3,356.1 424.1,326.5 236.3,515.7 304,413 325.4,439.5 268.9,492.7 395.9,369.2 485.1,246.5 281.6,481.2 369.9,371.2 340.1,401.7 358.1,410.1 346.7,404.6 386,373 311.2,457.4 326.9,445.6 434.9,303.9 332.7,401.1 343.1,413.8 241,523.4 363.4,376.3 380.8,376.3 349.9,386.9 434.1,313.7 218.6,529.1 395.9,358.6 250.1,518.2 272.7,471.4 221.7,534.5 383.7,356.9 338.7,427.3 318.5,445.5 336.6,406.8 238.8,568 301,451.1 348.4,400.6 298.3,447.1 338.1,423 245.1,513.8 343,400.5 324.4,439.4 359.9,412.1 441.7,331.5 347.5,417.3 298.6,450.8 355.2,387.9 277.4,492 444.7,326.7 358.1,437.8 335.8,414.8 358.8,379.9 250.5,483.7 339.2,423.3 329.7,439.2 461.3,284.3 415.5,324.1 434,295.8 345.4,422.9 331.7,396.5 403,358.5 292.7,458.3 258,452.6 421.9,316.6 371.7,397.5 363.6,389.8 228.9,519.1 321.3,456.8 306.1,446.5 293.2,462.4 355.2,399.9 280,475.3 276.5,502.7 449,297.1 372.4,398 290.5,498 460.2,286.2 373.2,387.2 347.8,386.3 427.3,326.6 358.2,415.9 418.4,346.7 439.4,308.3 268.1,499.1 455.2,304.3 390.8,363.7 348.2,407.6 472.2,306.4 339.4,371.5 374,370.2 280,493.8 377.2,373.9 378.5,379.5 433.8,323 283.1,465.1 210.4,543.5 296.3,441.3 280.9,472 363.3,401.9 340.5,431 357.7,403.9 416.1,333.4 440.2,307.5 329.5,393.9 242.6,505.8 331.2,404.7 321.2,418.6 331.6,414.8 331,422.8 338.7,416.4 371.6,381.1 360,375.3 354.5,390.6 336.7,428.3 390.5,360.4 240.7,522.4 330.8,422.7 382.9,392.3 325.8,460.1 355.3,444.2 394.3,353.6 333.3,434.8 268.9,455.9 314.4,453.3 361.5,399.1 269,475.7 349.5,429.7 313.3,443.4 325.6,400.5 391.6,383 380.3,374.3 347.1,420.5 344,398.5 377.3,365.1 276.8,450.9 336.3,398.7 276.3,494.2 413.7,346.6 328.1,396.7 260.1,493.6 308.2,445.7 375.7,366.2 355.8,401.9 228.3,504.9 447.3,317.9 347.9,399.8 360.7,394.4 285.3,400.4 283.5,458 247.2,504.4 340.6,399.9 333.5,413.5 312.5,420.4 388,375.2 347.5,386.5 272,470.9 326.3,451.7 411.2,354.6 254.2,494.5 455.8,278.5 285,426.2 493.2,263 365.6,388 238.3,503.3 362.4,383.2 361.3,425 321.2,445.9 341.4,408.9 339.7,406.9 379.8,365.9 324.2,432.1 337.4,408.3 381.8,370.4 334.3,408.4 274.2,493.2 389.2,365 308.7,419.9 376.8,421.6 299,457.3 325.4,416.8 266.3,456.9 433.5,318.7 269.2,467.5 408,365.5 234.1,529.8 349.6,391.6 305.6,411.8 403.5,358.2 339.5,383.8 478.4,279.4 515.6,237.7 279.4,416 379.4,368 301.4,485.3 272.2,458.6 316.2,394.3 381.7,346.4 378.7,371 332,423.9 412.9,349 273.1,483.2 276.1,453.5 332.2,410.5 228.8,515 420.3,328.7 321.4,406.3 327.2,435.4 375.9,391.8 259.3,487.6 335.9,417.4 223.5,494.3 333.7,420.7 342.3,394.9 431.5,308 349.5,415.2 424,328.9 337.3,405.2 224.4,484.4 387.6,363.7 360.7,418.4 310.8,446.5 399.5,354.9 292.8,485.5 339.7,452.4 388.8,371 400.1,365.6 305.3,450.6 364.5,395.3 351.1,408.6 387.8,380.5 324.3,419 220.3,540.7 323.4,434.8 432.5,318.7 285.9,453.5 338,429.5 389.4,357.7 314.4,409.1 286,482.9 328.1,398.8 338.1,428.9 263.2,434.6 333.3,419.5 281.6,514.8 246.5,501.3 288.7,491.1 327.9,417.6 336.3,403.1 303.9,443.2 414.2,351.1 388.3,383.6 358.5,419.2 416.9,347.6 432.1,320.4 371.2,352.7 302.1,435.4 404.6,368.6 403.8,327.5 372.6,387.6 341.2,419.3 346.6,378.4 366.8,391.1 229.3,512.8 439.9,315.2 346,404.4 461.5,288 340.2,396 274.4,434.8 405.7,370.7 341.9,395.3 395.5,353.1 314.4,430.2 313.9,432.2 295.4,440.9 308.8,454.9 369.1,382.9 262.2,478.2 349.4,392.6 412.2,346.7 276,455.7 335,427.2 311,469.7 330.6,442.7 356.4,405.6 372.3,356 400.7,361.7 305.9,452.6 393.2,379.5 300.1,441.5 268.7,474 301.4,484.7 215.7,516.4 354.9,418.8 237.1,525.9 332.8,378.5 497.1,250.1 281.4,461.5 198.1,518 348.6,373.6 280.2,474.5 330,404.2 335.4,405.2 347.4,389.2 477.5,272 365,395.8 364.7,401.3 341.6,420.6 295.2,449.8 303.7,445.5 286.5,479.5 403.5,366.1 333.3,417.7 374.1,359.6 365.8,391.5 482.1,279 334.5,409.7 390.3,379.8 303.5,439.4 414.2,338.3 337,422.5 361.9,418.8 249.5,474.6 383.4,377.2 451.3,311.8 426.8,324.1 293.3,482.8 395.6,348.1 292.3,435.8 232.4,488.6 264.1,472.3 415.1,322.9 333.2,428.9 274.4,478.4 356.9,372.6 379.6,398.2 331,426.1 364,363.2 306.7,409.7 421.8,331.6 402.9,368.4 340.5,406.4 376.1,391.7 411.9,362.4 347.1,418.6 375.6,371.9 327.2,401.3 320.4,419.3 249.4,539.1 271.1,482.1 273.1,456.8 344.3,400.9 500.9,249.1 300.2,477.7 311.4,429.5 289,509 322.2,434.9 332.8,426.6 376.1,359.9 264.5,498.3 374.8,381.8 363.5,401.2 317.6,421.1 270.4,487.5 260.9,455.9 320.3,412.9 394.4,393.8 331.5,412.2 288,447.4 366.5,400.7 277.2,471 408.4,381.4 519.7,233.9 315,452.1 403.2,345.4 297.2,481.2 348.3,404.6 396.3,398.3 411,331.5 349.1,411.2 429.8,332.4 253,471.5 325.4,416.5 335.8,402 333.7,388.5 338.5,419.2 435.6,277.4 307.1,418.5 396.9,339.4 371.6,384.6 466.9,283 340.8,430.7 396.5,372.7 380.4,373.7 361.6,374.5 412.8,348.6 432.9,308.9 277.3,466.5 333.9,418.3 430.3,341.8 309.3,504.6 311,467.8 378.6,366.3 394.9,370.8 436.6,333.1 409.2,331.4 361.1,393.7 276.2,460.8 301.6,437.8 348.1,405.9 371.4,383.3 344,394.9 396.3,356.4 289,436.9 320.4,428.7 271.5,484.5 466.7,279.5 324.5,399.6 402.5,339.4 428,329.6 378.1,389.5 346.7,423.3 329,443.7 349.8,435.3 238.7,502.3 328.3,447.2 389.8,351.3 380.9,399.5 406.2,359.2 390.8,347.7 397.1,364.9 364.7,404.5 354.1,384.6 407.5,349.3 335.7,433.5 289.7,507.3 396,348.8 364.7,414.5 407.5,331.2 300.8,434.3 265.9,520.9 345.2,420.9 301.9,434.6 307.2,479.3 445.1,314.2 366.9,388.5 273.9,471.9 218.6,468.1 342,410.4 390.6,375.6 364.8,386.7 423.7,338.4 367.1,383.6 387.6,385.7 194.3,480 429.2,329.6 305.8,427.6 406.1,348.9 263,505.8 306.6,471 425.4,337.8 288,492.6 350.4,384.9 326.4,428.4 439.2,283.6 374.6,382.7 415.9,313.9 356.4,414.6 248.8,508.3 470.1,278.3 307.6,431 353.5,401.5 341.2,400 235.4,480.2 394.6,362.8 316.9,418 247.9,515.9 246.2,481.5 192.6,523.7 324,475.4 340.8,422 302.3,476.2 341.8,405.1 324.3,426.4 376.7,374.8 363,423.5 341.5,422.5 297.2,456.4 272.7,477.6 290.7,462.1 376.1,392.4 316,436.4 433.9,318.8 403.8,367 274.3,501.4 378.1,386.5 433.4,345.2 304.4,445.5 411.7,325.2 283.1,434.1 440.5,310.8 379.4,376.2 340.2,430.3 224.9,489.7 325.5,401.7 296.2,450.9 364.4,382.8 275,445.4 371.8,377.1 322.3,443.3 378,370 410.5,373.6 361.3,402.5 368.3,370.5 409.7,338.9 270.3,448.4 397.1,386.5 357.1,389.4 439.9,307.3 340.4,424.2 401.9,344.9 232.5,500.3 420,330.3 378.3,388.7 376.2,391.1 389.7,342.8 248.2,462.7 335,424.1 346.6,398.5 320.9,420.5 323.6,448.4 405.8,351.2 341.8,399.8 335.6,426.8 340.3,397.2 421,323.1 470.2,306.4 408.9,338.9 379.1,380.4 259.6,484.2 306.5,437.5 275.1,450.3 273.9,450.8 425.5,342.9 330.7,466.2 432.6,328.1 356.3,404.9 331.3,409.7 331.6,418.5 276.8,511.9 345.8,457.6 401.1,360.2 389.4,368.1 363.7,406.9 387.1,366.6 347.7,390.9 362,375.5 488.7,259.6 350,394.7 208.5,480.1 191.2,509 309.2,459.7 365.9,402.1 410.2,352.7 341.3,406.2 347.2,392.7 381.2,369.8 289.5,469.3 337.7,405.1 374.1,395.4 314.2,423.7 268.7,430.9 382.3,379.9 417.7,346.3 347.8,400.7 308.4,465.8 331,444.5 350.5,360.4 319.8,440.2 305.9,421.4 407.9,353.3 422,333.4 356.1,410.6 274,471.4 262.3,474.8 384.1,371.9 322.8,482.5 345.4,414.5 321.4,410.5 351.4,399.9 360.8,387 295.1,486.5 304.8,449.9 350.6,396 345.5,409.7 251.5,482.8 460.9,297.8 244.2,480.4 401.8,344.1 246.4,511.1 390.7,342.6 216.6,499.3 391.4,349.9 364.7,413 395.6,368.8 296.9,456.7 365.7,403.7 363.5,403.6 345.8,395.8 296,433.1 431.5,337.4 223,511.6 256.8,512.5 232.7,479.9 426.6,324.7 273.6,450.6 304.3,462.8 305.6,463.7 326,434.4 333.3,434.7 306,435.3 254.6,508.4 371.1,391.1 333.1,403.3 436.8,324.1 368.7,388.3 341,420.3 251.7,494.8 346.1,405.4 381.3,378.5 443.2,310.9 370.3,391.5 380.4,352.7 385.4,381.6 435,306.6 418.2,348.5 332.1,394.2 246.7,489.9 442.6,313.3 351.1,408.4 288.6,453.6 243.4,485.9 243.2,525.8 366.6,403.3 323.2,412 350.4,381.6 411.5,332.6 303.3,446.2 344.6,377.8 298.8,431.9 296.6,470.4 285.4,449.1 402,339 326.4,457.4 369.2,401.2 364,417.7 465.1,287.3 430.1,320.3 298.7,444.6 301.4,421 397.5,326.1 356.4,394.4 342.6,395.9 418.7,342.2 385.3,382 339.8,386.1 518.8,215.1 370.7,385.2 280.4,507 377.4,400.9 354.9,386.1 447.7,305.8 376.5,399.7 298.4,438.4 359,377.5 286.6,498.8 315.2,423.4 356.2,376.9 310.3,478.2 215.9,525.4 276.1,467.6 300.9,465.3 389.5,386.6 322.7,446.9 340.9,417 290.6,472.7 350.3,410.7 307.4,452.4 362.7,363.7 358.7,399.9 419.8,314.9 371,370.8 323.1,433.1 287.3,463.8 356.8,402.9 384.8,368 437.9,321.9 326.5,465.8 247,479.4 244.8,539.3 301.1,495.9 323.6,421.6 318.9,427.5 318.9,432.4 340.4,421.6 352.5,388.8 232,512.1 340.5,412.2 328.4,426.3 340.8,440.4 306.1,437.2 236.2,541 371.9,394.4 310.3,447.4 331.2,425.2 348.5,391 332.8,407.6 364.9,394.7 364.9,392.7 278.3,469.7 282.3,500 387.1,368.3 291.2,464.3 466.3,285.1 283.7,496.2 351.6,412 335.7,424.1 341.6,390 300.2,493.2 344.3,385.5 459.2,299.7 290.9,437.8 362.5,366.5 334.3,365.6 377.1,377.8 290.3,469 357.2,389 385.3,360.1 291.8,431.4 337.7,413.2 363.9,383.3 368.7,360.4 316.2,425.7 343.9,401.6 447.3,289.2 464.2,302.3 256.2,463.6 479.3,298.7 324,450.6 395.7,349.4 280.8,510.3 334.2,439.2 309.3,469.1 385.2,369 338.3,395.7 343.3,373 360.7,395.5 345.4,403.9 385.3,357.8 360.3,428.6 333.9,427.1 279.6,439 278.4,469.9 307.4,455.1 345.3,385.1 396.7,358 323.1,421.7 443.6,288.3 411.5,345.9 342.6,421.7 332.8,374.5 336.8,423.2 215.9,519.5 380.4,366.3 332,390.1 219.9,504.8 399.4,378 307.6,459.1 317.8,430.5 231.8,522 323.4,412.5 358,391.6 299,434.8 335.1,421.3 204,516 366.2,388.7 337.4,429.1 327.2,418.3 374.6,380.2 396.6,359 322.8,418.5 376.7,354.6 450,316.4 268.2,485.5 335.1,411.1 251.5,533.5 346,391.6 411.2,333.9 317.1,420.9 250.5,476 298.1,450.6 351.4,389.7 260.2,528.1 238.7,496.1 370,402.4 238.7,490.2 333.3,412.6 268.3,484.4 223.9,504.5 385.7,376.3 395.9,348.1 277.5,459.3 475.8,285.7 335.5,403 369.7,392.3 353.7,417.3 277.7,493.1 405.6,365.7 339.1,405.5 375,397.1 338.9,403.6 294.2,424 475.6,274.3 377.8,406.2 311.6,420.6 389.1,389.9 244.9,472.2 365.1,401.9 502.3,256.6 289.9,452.1 347.1,368.3 272.4,495.4 343.4,420.1 406.3,352.2 285.7,488.9 270,463.1 419.4,359.4 359.5,407.9 369.9,370.2 385.3,401.3 257.9,494.2 238.5,525.5 233.1,541.9 358.6,379.4 238.2,490.9 225.7,521.5 289.3,438.2 324.2,423.7 363,412.7 209.5,511.1 415.7,337.4 271.1,467.5 351.1,415.6 320.9,408.8 261.4,464.2 357.5,391.2 372.5,413 397,341.7 440,288.6 458.4,279.7 397.9,363.1 383.8,381.2 313,436.4 247.4,509.4 349.9,378.1 304.6,454.2 317.8,429.6 299.9,437.5 369.6,397.5 321.8,450 477.8,267 390.9,363.2 284.9,425.1 350,383.1 430.6,337.8 249.8,472.7 341.4,392.9 315.8,457.7 319.4,389.2 299.3,436.3 354.2,409.1 361.1,382.1 368.3,368.8 232.6,490 381.6,372 330.1,402.9 301.4,454.9 332,415.2 435.5,315.4 338.2,433.1 278.8,460.5 373.8,362.8 325.4,424.8 383,371.6 353.1,394.4 410.7,317.6 308.5,455.9 297.8,417.5 392.3,332.1 449.4,314.3 365.1,411.5 411.5,335.8 361.9,375.9 352.7,423.1 220.6,494.8 468.1,282.9 407.2,336.3 392.3,367.4 306.5,450.8 268.3,464.5 316.1,457.9 389.7,372.4 335.8,415.4 323.4,422 328.2,421.6 303.1,422.8 369.7,378.1 210.7,533.1 264.5,500.1 326.8,420.6 262.2,479.1 350.8,405 325.5,445.1 367.4,393.3 327.5,421.5 372.4,372.4 351.5,424.7 384.3,367.5 306.4,421 235.7,521.2 325.3,394.3 337.5,404.5 317.4,447.2 401.7,347.8 371.3,375.2 441.4,320.2 331.3,443.2 309.4,423 365.7,368.5 429.7,312.5 289.2,438.2 377.6,381.3 348.6,416 324.6,424.9 392.8,344.6 387.3,343 386.8,362.4 296.9,437.9 348.6,410.6 226.3,491.8 373.3,369.6 261.5,479.9 338.3,432.3 401.9,360.2 335.1,425.1 356.1,398.7 312,453.4 492.1,235.7 282.2,489.9 308,438.2 351.2,427.2 512.5,251.6 324.7,451.1 345.2,394.8 416.5,374.7 227.3,540.4 405.2,350.7 366.9,376.2 444.5,312.5 429.5,294.6 391.4,380.5 422.2,336.6 311.7,439.4 297.9,485.4 343.1,418.9 368.2,391.6 329.1,413.8 381.6,375.8 383.7,352.4 452.2,285.4 345.4,409.8 319.5,421.2 373.1,359.7 366.6,382.9 377.1,349.4 468.9,304.6 295.6,438.1 394.2,346.2 448,325.1 423.7,308.8 238.6,460.4 336.4,415.8 431.4,317.3 363.9,405.4 381.5,369.7 334.3,389.7 434.3,319.4 367.7,380.3 348.6,426.2 363.3,393.7 433.2,306.6 373.7,368.1 255.7,496.7 221.6,519.2 396,359 254,504.8 350.1,382.8 309.5,447.3 369.6,395.9 292.4,434.8 422.8,310.2 351.4,414.3 341.1,421.3 447.4,317.5 400.4,377 411.6,339.1 323.2,409.7 354.9,401.3 367.6,374.4 312.5,447.8 400.1,362.4 372.1,381.9 332,431.5 320.8,432 399.2,356.8 324.2,407.1 382.6,396.4 356.8,384.6 329.1,415.6 360.1,380.8 391.8,357.1 302,441.4 283.9,426.9 408.5,364.8 277.2,483.9 417.7,330.8 379,372.9 435.3,330.8 350.7,416.5 354.7,402.6 370.1,396.8 220.8,466.9 302.1,468.7 410.9,338.1 296.8,439.1 276.5,452.3 366.1,387 416.8,311.9 345.3,412.2 322,414.9 350.5,414 357.5,366.5 256,505 363.8,380.6 360.9,372 417,351 418.2,348 378.4,359.4 465.3,282.2 360.1,416.5 340.9,411.9 440.6,302.4 346,388.8 304,430.9 319.8,442.3 354.3,412.7 260.7,480.2 399.4,337.6 358.8,378.9 411.4,315.3 290,469.8 325.4,424.2 318.8,453.1 395.3,388.9 380.3,390.9 388.8,355.8 386.3,359.2 266.2,453 346.1,369.9 367.6,414.3 347.2,406.8 364.9,361.6 241.3,524.9 282.1,422.5 326.6,418 295.6,455 267.4,465.3 396.7,345.8 402.2,358 442.8,299.8 300.3,473 369.1,353.7 317.7,422.6 296.8,490.4 364.3,368.8 326.3,403.5 236.9,510.5 341.1,399.3 243.8,509.3 379.1,385.5 270.4,490.4 249.7,502.5 378.6,364.7 396.2,356.1 331.7,434.5 258.3,468 370.7,371.8 335.5,393.1 351.9,396.7 315.8,435.5 240.7,492.4 297.5,427.8 417.8,321.5 304.6,457.6 325.4,412.5 342,422.3 389.8,351.4 348.1,388.1 320.3,444.1 444.8,294.3 358.1,410.9 337.6,374.4 298.2,450.3 240.1,493.9 361.6,381.4 319.9,434.1 340.3,375.5 452.8,326 336.5,404.6 404.3,381.2 283.8,484.1 346.2,406.9 334,388 416.6,356.9 390.2,369.4 233.6,548.1 338,384.5 330.8,387.2 315.7,425.6 356.5,402.3 379.8,382.5 404.7,362.3 260.3,467.2 273.1,445.3 348.3,414.6 370.7,363.8 280.9,466.5 358.3,429 258.3,479.8 344.7,411.7 331.1,423.4 369.6,380.4 424.1,331.4 298.6,461.7 365.4,385.6 265.5,522.8 366.1,399.8 438.1,298.6 266.6,519.7 310.6,441.8 363.9,383.5 464.8,275.2 293.3,473.7 359.7,389.7 417.7,322.1 285.2,445.7 362.6,407.2 291.2,451 308.1,433.4 365.2,430.5 395.7,359.6 360.5,400.9 340.1,412.5 330.8,418.8 399.4,338 377.3,384.3 368.6,386.4 219.6,507.4 328,420.3 298.2,492.6 448.3,306.4 382.4,369.1 424.7,317.6 286,451.2 257.2,506.2 303.5,465.3 382.1,371.5 311.2,458.4 379.8,358.9 421.2,324.2 326.4,430.6 410,356.4 204.2,531.7 280,492.6 295.2,432.4 333.6,438.2 273.4,508.3 317.7,426.3 408.1,347.5 399.2,362 363.6,376.4 283.9,457.3 425.6,319.6 386.9,372 293.3,477.7 396.6,342.2 315.9,420.4 381.5,379.2 361.7,379 377.9,370.2 439.9,322.3 496,256.1 377.2,390.4 353.7,398.8 342.5,406.3 368,371.7 365.9,352.4 263.7,477.5 337.1,382.5 490.3,271.8 399,362.7 415.7,341.6 354.8,416.2 491.7,288.2 370.6,355 327.9,420.4 311.9,456 374.8,372.7 453.7,296.1 319.9,453.4 294.7,467.5 188.9,521.8 400.6,371.2 273.3,458.8 305.2,450.2 289.5,474.1 275.1,438.8 405,369.9 306.8,458.2 359.1,398.5 310.2,457.3 321,425.4 390,371.4 389.1,371.5 249.2,450.2 335.8,394.1 298.6,473.1 379.9,356.4 312.9,449.2 286.6,460.2 399,362.2 291.9,422.4 352.9,400.2 387,364.3 314.5,442 326.8,428.6 380.3,372 482.6,273.9 383,375.4 384.1,359 358.2,418.1 341.4,409.8 429.4,313.7 306.2,458.7 286,433.9 440,325.7 292.9,450.1 268.9,482.7 372.7,378.6 406.9,350.4 445.1,297.3 473.7,271.1 212.3,547 325.8,412.7 323.7,425.2 364.9,383 288,453.4 339.6,397.8 353.6,382.5 351.8,390.8 278.6,443.8 348.4,382.3 319.9,488 292.1,457.5 336.5,430.5 393.8,360.4 231.6,536.7 340.9,411.2 433.9,330 354.6,399 313.8,441.6 348.8,381.4 445.7,318 331.4,414.9 300.4,448.9 392.6,363.7 329.6,425.2 300.5,449 401.8,366.1 282.6,448.7 305.3,406.4 421.8,324.9 333.3,379.4 418.8,329.7 250.9,531.5 270.3,517.5 283.4,443.5 338,419.5 210,507.3 358.3,397.8 323,455.2 304.3,433.6 357.3,420.2 329.1,426.6 299.8,512.3 322.3,417.4 259,471.1 430.7,338.3 323.1,446.2 331.7,431 294,441.3 345.1,409.3 351.8,391.3 348.4,431.8 286,480.2 405.4,337.9 333.3,404 209.1,504.3 266.9,471.6 270.8,481.1 246.5,516.8 295.2,481.3 357.5,387.1 425.7,343.5 338.4,380.4 361.4,389.7 415.3,345.8 470.7,275.4 412.8,342.9 384.5,380.4 328.6,413.9 283.4,474.2 376.5,393.8 406.4,330.4 370,401.1 308,442.5 366.5,364.5 340.2,419.6 312.9,454.2 220.1,528.7 377.4,380.8 307.2,456.4 412.7,341.2 305.2,451.1 354.7,413.4 316.2,453.3 449,304.2 412.4,316.4 330.4,400.2 426.6,321.6 281,500.3 385.8,374.9 327.4,462.7 338.8,423.4 319.4,442.9 376.5,372.1 251,535.6 301.4,425.3 428.4,329.5 329,422.1 256,485.5 374.8,393.7 320.8,446.6 423.1,335.6 226.2,519.9 354.5,375.9 430.8,304.8 197.6,489.2 372.8,360.8 388,369.7 368.1,408.7 421.4,317.1 393.9,377.3 321.1,472.7 309.7,467.7 351.9,433.1 444.3,308.8 332.2,412.5 400.8,356.3 345.3,426.4 386.6,373.8 379.2,377.3 425.3,339 451,291.1 323.5,446.7 253.3,455.5 354.2,425.9 356.4,422.8 381.7,410.8 401.1,340.6 315.5,427.8 337.9,398.2 334.8,393.8 398.6,324.1 328.9,441.1 418.5,332.3 464.4,287.7 317.4,403.4 435.2,320.6 396.3,387.7 345.7,411.4 476.8,288.3 416.4,321.7 340.4,434.5 383.1,370.3 309.6,447.4 269.8,493.9 412,338.5 356,410.1 449.7,302.7 356.3,390.6 358.2,378.6 333.2,400.3 367.7,400.8 313.9,463.9 335.3,417.2 241.9,508.6 232.4,508 269.2,490.4 326.3,457.2 346.6,412.6 333.6,411 428,340.2 505.1,259.4 425.3,304.7 402.7,345 326.7,453.7 361.5,399.7 229.8,524.7 338.7,424.1 436.5,302 262.4,465.9 310.8,442 355.3,401.5 400.6,376.9 349.8,403.2 319,442.4 398.5,378.4 306.4,436.7 492.1,258.7 423.7,331.1 356.7,402.8 300.6,458.5 320.6,449.2 290.3,439.6 314.4,415.1 372.4,380.7 249.2,467.2 370.5,410.9 340.5,400.1 282.6,459.8 428.8,333.3 378.2,380.8 370.6,392.7 311.6,442.4 287.8,438.8 347.1,404.2 249.1,489.2 354.2,372.6 273.6,474 352.9,418.1 379,360.9 322.2,417.5 298,440 307.7,462.5 335.8,382.5 282.6,482.2 342.4,413 402.4,349.3 217.2,511.5 293.1,454.7 376.3,409 278.8,479.8 275.6,468.6 278.8,494.6 386,349.6 229.2,556.4 333.7,417.4 353.7,447.6 362.7,430.6 300.7,465.8 349.7,411.3 305.6,439.5 295.5,471 502,261.1 392.5,342.1 257.3,460.7 303.7,461.4 362,381.8 428.1,326.9 329.6,425.6 384.4,370.8 350.4,398.3 415.4,345.7 322.8,460.1 312,476.7 354.2,392.4 358,396.6 344.1,410.1 404.5,327.9 371,358.5 346.4,403.9 275.8,487.8 388.1,375.8 388.3,354.9 309.1,457 334.8,415.3 269.2,472.7 357.1,412.4 311.6,408.1 203.2,487.3 358.9,428.2 321,430.3 328.6,439.1 403.3,347.5 365.1,376.1 386.2,349.9 304.5,412.2 424.4,330.4 284,445.2 385.4,365 255.5,503.6 354.6,396.3 281.5,472.5 273,516.2 384.4,371.9 355.5,400.7 370.9,378.6 357.2,420.5 368.9,404.6 334.7,406.7 336.2,423.2 348.3,401.4 478.2,268.3 271.3,460.1 275,522.5 293.5,471 280.1,427.2 383.7,384.8 421.8,354.2 413.6,340.3 330.4,420.7 388.9,365.6 462.8,302.2 379.5,364.6 426.7,331 270.4,448.1 407.1,360.9 386.5,350.1 267.7,475.6 351.8,407.5 390.9,376.1 284.2,452 395.8,347.2 414.7,357.7 358.8,382.9 331.6,405.4 329.2,413.3 373.7,389.1 418.1,343.4 275.7,500.8 360.4,398.8 356.8,388.4 297.5,464.4 276.2,494 320.5,409.8 234.8,501.1 357.4,394.1 342.8,440.7 273.6,471.2 344.9,408.3 292.5,460.4 303.6,456.4 418.6,342.2 285.2,444.7 337.5,367.7 288.6,481.4 264.9,440.3 437.9,318.5 341.8,418 396.8,365.3 245.3,481 282.9,476.9 298.7,468.4 390.4,371.9 314.3,464.5 210.9,513.9 382.9,361.7 306.6,439.9 346,405.4 394.5,372.5 477.8,285.8 339.8,414.4 448.7,327.2 265.4,501.9 341.1,391.2 370.1,403.8 266.4,456 283.2,441.5 367.7,377.9 306.3,436.1 314.4,435.6 299.9,452.3 362.3,377.1 330.4,408 342.5,421.9 329.7,428 380.9,367.7 289.7,444.6 340.4,412.1 334,400.2 354.5,376.4 410.2,355.5 369.1,394.2 258.1,485.5 414.4,359.2 416.4,334.4 425.4,335.7 400.3,358.7 252.6,502.8 339.1,415.6 404.3,369.3 401.6,363.4 323.8,394.9 359.5,403.2 255.6,446.5 362.7,373.5 228.4,536.8 323.8,408.5 413.5,355.8 271.2,473.2 428,332.6 467.8,289 385.3,379.4 330.1,449.3 304.5,419.3 275,476.8 393.6,361.9 293.6,483.3 364.3,397.7 279.6,467.2 370.6,361.7 246.1,468.1 332.8,403.4 307,449.7 410.6,344.2 338.4,442.6 341.3,416.9 421.5,341.7 265.4,455.7 276.5,482.4 339.5,404.3 279.3,460.2 456.5,313 355.5,397 361.6,389.7 327.1,425.8 414.1,320.3 324.4,398.5 250.6,554.7 282,472.2 344.5,408 422,333.6 362.7,382.6 365.7,382.4 358.7,379.9 295.7,464.5 304.3,445.2 356,415 284.1,506.4 338.5,395.3 390.8,371.7 328.1,416.7 349.8,444.2 353.1,403.2 457.5,308.3 256.2,484.7 470.7,299 381,360.8 486.5,249.5 298.9,405.8 366.9,384.8 334.3,410.8 377.1,378.1 281.3,450.9 297.6,454.2 334.5,417.2 375.6,360.6 289.5,509.4 346.4,449.3 310,448.4 367,394.6 399.3,362.3 264,507 274.8,459.9 326.2,432.2 304,490.1 428.7,321.7 444.6,304.8 383.1,356.6 372,374.4 252.3,450.3 285.5,466.8 378,392 435.8,321.6 324.3,432.2 361.6,392.5 441.4,312.5 441.4,297.6 261.8,448.6 375.7,408.4 392.5,367.9 215.7,481.1 331.1,455.2 351.2,394.9 321.4,452.1 373.7,377.7 313.2,427.3 250.4,525.7 262.6,482.7 178,505.5 268.4,499.1 375.6,376.2 357.6,394.4 368.6,379.4 421.9,336.9 289.8,499.8 321.3,452.9 351,407.7 442.2,312.2 351.4,389.2 349.5,437.7 342.3,378.2 274.6,456.3 219.6,529.8 370.2,385.2 317.4,441.7 364,382.6 291.6,508 300.1,482 372.2,353.4 344.3,392.5 387.8,346.4 315,469.4 340.6,404.9 370.2,359.6 392.5,356.5 325.4,403.7 358.2,395.9 341.7,424.8 320.5,411.1 339,418.8 370.1,388.3 250.7,485.3 342.1,420.6 270.5,468 346.3,419.4 322.4,428.6 345.3,400.3 337.1,444.7 338.4,434.4 250.2,496.3 399.7,310.8 258.5,502.3 216.2,524 360.8,399.3 371.6,381.6 327.9,419.8 312.6,433.6 284.4,503.3 457.7,315.7 250.5,538.5 468.3,269.3 235.2,508.2 276,481.2 301.2,412.7 319.5,455.4 355.6,378.8 295.1,480.1 308.5,432.4 244.9,518.1 394.7,333.8 291.3,409.4 281,453.6 323.8,402 380.8,351.8 353.8,389.4 296.1,460.9 352.8,412.7 349.2,385.8 349.9,376.2 317.4,430.7 370,363.9 255.7,464.3 341,400.8 300.9,473.5 344.2,410.6 280.3,424.2 394.3,385.6 300.5,421.5 411.7,340.7 273,457.5 407.6,355.9 292.2,466.3 292.8,484.2 393.4,360.2 350,397.3 378.3,391.4 296,414.5 348.9,379.5 261.9,453.3 442.6,305.5 432.4,311.4 360.4,375.9 312.8,452 306.7,454.2 374.5,368.4 350.9,375.8 311.2,487.2 388.6,366.7 390.3,352.3 377.4,375.7 369.7,386.7 352,387.7 350.5,413.9 327,426.3 302.2,438.4 426.2,340.7 245.7,493.9 362.9,411.2 397.4,356.1 481.4,267.1 336,438.8 425.4,321.4 426.2,333.2 412.3,357.9 455,291.9 239.4,496.5 411.9,350.6 351.1,418.9 357.6,359.9 345.1,416.3 310.7,466 229.2,507.9 381.8,386 331.2,414.7 260.7,475.6 337.8,408.5 290.1,479.3 291.1,452.9 353.6,389.2 394.2,358.4 241.5,532.7 322.6,392 390.5,378.2 287.1,499.3 316.5,415 363.9,386.8 404.3,353.8 277.1,477.2 271.1,529.7 308.3,446.6 307.7,432.7 338,406.5 349.4,408.6 216.2,514.7 382.1,360.9 236,501.9 377.8,402 378.3,383.8 586.5,165.8 566.2,203.4 587.7,162.3 517.9,237.6 552.8,214.4 469.7,287.4 509.7,254.4 470.1,274.6 589.2,175.9 559.9,195.5 580.3,180 498.8,263.1 546.2,190.2 478.6,287.4 522.4,228.6 541.4,225 535,217.4 571.4,185.8 471.5,268.1 551.8,191.9 529.1,236.1 482.7,263.9 571.1,186.5 473.5,280.6 483,260.6 486.4,266.1 537.8,215.6 463.6,297 566.7,184.3 492.4,256.3 476.9,291.5 476.2,292.7 578.2,177.8 543.9,201.4 526.1,233.1 508.5,241.5 589.5,179.7 448.5,306.1 515.4,233.4 553.8,198.4 578.1,168 541.4,213.2 535.2,207.5 572.3,185.1 576.9,186.5 498.9,260.9 486.8,259.1 494.2,264.6 588.2,163.1 452.8,288 530.6,223.4 500.6,262.7 554.6,202.5 559.4,192.3 459.3,289 538.8,215.6 458.7,300.4 443.7,312.5 453.5,312.5 584.6,178.3 472.3,292.1 586.5,165.8 519.6,239.7 476.8,278.5 578.7,180.3 521.8,236.2 489.6,289.2 480.9,263.1 465.8,292.9 555.1,195.7 539.4,220 571.5,186.6 479.8,290.3 565.8,188.4 569.5,179.5 450.4,308 513.2,245.1 564.2,170.8 454.3,319.3 456.5,290.1 584.6,186.1 522.3,245.3 505.6,263.4 590.6,167.4 466,281.8 549.7,199 534.6,233.4 519.3,232.1 575.3,184.7 578.3,174.3 565.2,185.4 535.1,230.1 482.3,264.6 466.5,287.3 446.1,306.9 508.2,249.2 580.6,174.6 480.9,265 445.5,306.2 553.8,199.2 538.6,236.4 469.8,293.6 496.5,258.5 499.6,258 557.5,196 452.5,319.4 479.9,274.3 529,217.7 540.5,254.4 482.2,266.1 526.8,223.6 533.9,212.7 548.3,211.9 466.4,282.8 560.1,188.5 451,314.4 521.8,248.2 493.2,265.8 520,225.8 588.7,172.4 585.9,164.3 513.4,245.5 544.1,214.9 540.4,204.4 483.5,281 457.7,298.2 505.1,250.4 497.4,248.3 559.5,205.8 443.2,305.9 487.6,269.4 529.1,217.2 585.9,158.3 457,286.8 486.4,253.6 583.3,169 471.6,297.1 538.6,227.8 529,218.5 582,166.5 530.8,240.1 594.3,169.4 537.6,218.4 474,278.1 542.3,209.8 573.5,159.9 496.2,253.5 554.3,221.8 467.8,303.3 475.1,277.9 227.8,156.6 471.1,143.9 549.6,148.2 564.5,387.9 513.6,421.7 475.4,435.8 159.9,372.4 151.5,535.9 155,610 296.4,622 303.5,619.1 315.5,611.4 353,602.9 466.2,528.9 487.4,497.2 495.2,502.8 459.1,490.1 535.5,335 469.7,225.7 421.6,215.1 614.7,144.6 590,172.8 579.3,183.4 572.3,179.9 169.1,430.2 172.7,479.5 176.2,500.7 179.8,521.8 165.6,511.3 183.3,546.5 151.5,461.9 204.5,344.2" fill="none" stroke="none" marker-start="url(#m)" marker-mid="url(#m)" marker-end="url(#m)"/>
<line x1="114.75" y1="634.2" x2="683.1500000000001" y2="634.2" stroke="#a9adb0" stroke-width="1.8"/>
<line x1="114.75" y1="635.9000000000001" x2="683.1500000000001" y2="635.9000000000001" stroke="#636a70" stroke-width="2.3"/>
<line x1="115.95" y1="635.2" x2="681.95" y2="72.0" stroke="#000" stroke-width="2.6"/>
<line x1="116.10" y1="636.8000000000001" x2="116.10" y2="643.8000000000001" stroke="#000" stroke-width="2.5"/>
<line x1="106.35" y1="634.65" x2="114.85" y2="634.65" stroke="#000" stroke-width="2.6"/>
<text x="116.6" y="667.6" font-size="22.6" text-anchor="middle">2</text>
<text transform="translate(103.2 634.9) rotate(-90)" font-size="23" text-anchor="middle">2</text>
<line x1="257.55" y1="636.8000000000001" x2="257.55" y2="643.8000000000001" stroke="#000" stroke-width="2.5"/>
<line x1="106.35" y1="493.64" x2="114.85" y2="493.64" stroke="#000" stroke-width="2.6"/>
<text x="257.7" y="667.6" font-size="22.6" text-anchor="middle">4</text>
<text transform="translate(103.2 493.8) rotate(-90)" font-size="23" text-anchor="middle">4</text>
<line x1="399.00" y1="636.8000000000001" x2="399.00" y2="643.8000000000001" stroke="#000" stroke-width="2.5"/>
<line x1="106.35" y1="352.62" x2="114.85" y2="352.62" stroke="#000" stroke-width="2.6"/>
<text x="399.2" y="667.6" font-size="22.6" text-anchor="middle">6</text>
<text transform="translate(103.2 352.8) rotate(-90)" font-size="23" text-anchor="middle">6</text>
<line x1="540.45" y1="636.8000000000001" x2="540.45" y2="643.8000000000001" stroke="#000" stroke-width="2.5"/>
<line x1="106.35" y1="211.61" x2="114.85" y2="211.61" stroke="#000" stroke-width="2.6"/>
<text x="540.6" y="667.6" font-size="22.6" text-anchor="middle">8</text>
<text transform="translate(103.2 211.8) rotate(-90)" font-size="23" text-anchor="middle">8</text>
<line x1="681.90" y1="636.8000000000001" x2="681.90" y2="643.8000000000001" stroke="#000" stroke-width="2.5"/>
<line x1="106.35" y1="70.60" x2="114.85" y2="70.60" stroke="#000" stroke-width="2.6"/>
<text x="684.9" y="667.6" font-size="22.6" text-anchor="middle">10</text>
<text transform="translate(103.2 70.8) rotate(-90)" font-size="23" text-anchor="middle">10</text>
<text x="265.2" y="689.3" font-size="24">log<tspan font-size="14.2" dy="8.3">10</tspan><tspan dy="-8.3" dx="-2.2"> iBAQ asynchronous</tspan></text>
<text transform="translate(72.7 530.0) rotate(-90)" font-size="24">log<tspan font-size="14.2" dy="8.3">10</tspan><tspan dy="-8.3" dx="-2.6"> iBAQ S-phase synchronised</tspan></text>
<circle cx="629.5" cy="153.3" r="7" fill="#f0921f" stroke="#23135a" stroke-width="1.7"/>
<text class="b" x="605.5" y="180" font-size="18.7" fill="#111">RTEL1</text>
<circle cx="320.1" cy="261.3" r="7" fill="#f0921f" stroke="#23135a" stroke-width="1.7"/>
<text class="b" x="240.5" y="251.6" font-size="18.7" fill="#111">UBLCP1</text>
<circle cx="378" cy="458.5" r="7" fill="#f0921f" stroke="#23135a" stroke-width="1.7"/>
<text class="b" x="349" y="447" font-size="18.7" fill="#111">TERF2</text>
<circle cx="186" cy="489.5" r="7" fill="#f0921f" stroke="#23135a" stroke-width="1.7"/>
<text class="b" x="122" y="478.5" font-size="18.7" fill="#111">PPP4R1</text>

<line x1="259.38" y1="731.15" x2="259.38" y2="1293.4" stroke="#a9adb0" stroke-width="2.4"/>
<line x1="118.24" y1="1151.95" x2="683.0" y2="1151.95" stroke="#a9adb0" stroke-width="2.4"/>
<line x1="400.55" y1="731.15" x2="400.55" y2="1293.4" stroke="#a9adb0" stroke-width="2.4"/>
<line x1="118.24" y1="1011.40" x2="683.0" y2="1011.40" stroke="#a9adb0" stroke-width="2.4"/>
<line x1="541.73" y1="731.15" x2="541.73" y2="1293.4" stroke="#a9adb0" stroke-width="2.4"/>
<line x1="118.24" y1="870.85" x2="683.0" y2="870.85" stroke="#a9adb0" stroke-width="2.4"/>
<path d="M118.24 1293.4V731.15H683.0V1293.4" fill="none" stroke="#666a6d" stroke-width="2.4"/>
<polyline points="281.6,1092.8 286.6,1115.7 182.1,1116.5 208.1,1171.2 240.3,1175.3 253.1,1119.9 343.9,1108.4 278.4,1139 301.4,1183.1 231.6,1137.3 329.3,1099 264.9,999.5 251.3,1111.7 275.1,1178 264.7,1118.8 274.3,1103.8 283.2,1058.9 348.2,1142.6 259,1210.5 255.7,1147.2 251.6,1170.1 289.9,1114.2 175.8,1156.9 250.1,1126.1 218.5,1144.9 269,1190.8 256,1149.6 193.7,1157.6 278.2,1153.9 208.8,1193.1 216.7,1204.6 281.3,1116.8 254.4,1165.8 317.6,1101.3 250.2,1108 283.1,1229.5 242.3,1175.1 285.4,1170.1 246,1082.7 269.7,1154.6 309.6,1174.6 209.7,1179.3 312.6,1086.4 316.1,1148.4 320.2,1116.4 223.2,1208.8 246.4,1149.5 227.8,1179.2 280.9,1026.6 240.5,1142.3 356.7,1041.3 295.6,1140.7 246.8,1182.5 281,1056.4 317,1047.6 194.8,1094.5 229.7,1165 295.2,1184 210.9,1199.8 192,1170.1 235.9,1171.9 196.3,1195.7 233.4,1104.4 247.2,1107.4 297.8,1092.4 290,1152.2 232.1,1137.6 296.5,1068.7 190.4,1137.8 195.5,1201.4 209.9,1133.6 327.2,1164.2 303.6,1100.3 339.7,1130.6 280.9,1132.5 283.3,1112.5 216,1190.8 230.1,1136.5 236.8,1114.6 220.2,1139.4 282.9,1106.9 315.6,1102.5 265.7,1231.2 306.4,1111.5 325.3,1115.6 269.9,1179.1 319.9,1039.3 197.8,1151.3 172.1,1182.8 298,1180.2 298.7,1030.6 296.2,1133 301.3,1230.3 278,1053.3 194.6,1142.3 238.8,1136 184.3,1158.3 365.2,1074.4 358,1090.5 226.9,1223.2 260.5,1093.5 283.3,1126.9 250.6,1131.6 246.8,1117.9 256.6,1163.6 357.8,1156.7 276.4,1080 375.3,1140.6 309.2,1110.6 225.5,1154.3 212.9,1130.6 272.2,1175.7 271.3,1140.7 228,1168.2 209.8,1162.8 247.4,1149.1 232.7,1152.4 259.8,1151.3 285.6,1024 327.1,1089.9 265.3,1189.4 286.9,1158.5 214.1,1120.8 226.5,1182.9 292.4,1126.6 292.1,1157.7 272.4,1184.8 200.3,1196.5 297.6,1142.2 298.2,1100.6 261.4,1127.8 236.9,1087.9 226.6,1194.6 271.8,1122.4 283.2,1041.6 241.5,1230.4 345.5,1039.4 306,1116.3 225.7,1169 272.2,1142.9 279.9,1171.3 237.8,1126.8 267.7,1068.8 271.1,1186.5 280.1,1151.6 290.6,1076.4 279,1180.1 202.9,1140.8 235.3,1175.7 227.1,1196 286.5,1120.2 274.1,1155.5 210.5,1170.3 191.1,1131.7 178.9,1196.5 249,1186.5 343.6,1065.5 334.8,1055.4 284.2,1178.3 235.8,1144.3 240.2,1180.3 210.3,1210.8 262.3,1096.9 264.4,1183.3 239.8,1189.6 270.4,1166.5 292.3,1045.6 267.3,1199.5 240.7,1146 317,1087.8 222.2,1204.5 318.5,1133.3 352.7,1026.2 265.2,1157.2 184.5,1222.4 299.4,1104.9 243,1161.7 292.6,1064.5 279.7,1123.2 301,1165.1 193.3,1161.2 269.5,1053.8 314.8,1162.2 243.7,1091.8 271.1,1116.9 263.6,1109.6 274.6,1141.6 246.5,1139 198,1229.3 221.6,1158.2 215.6,1132.2 369.8,1155.9 310.4,1099.7 229.4,1200.3 206,1135 215,1153.4 262.2,1117.9 298.3,1156.2 267.1,1096.4 244.2,1185.6 238.3,1151 337.3,1034.4 229.7,1212.4 335.3,1085.9 271.2,1082.5 321.9,1117.5 236.3,1104.7 276.8,1154.9 296.1,1105.6 314.2,1205.6 275.2,1157.4 306.2,1208 297.5,1138.8 250.6,1136.3 269.3,1174 253.8,1078.3 242.4,1102.6 204,1196.8 300.7,1183.1 349.8,1103.8 248.2,1089.5 280.5,1022.1 196.6,1223.7 241.2,1085.4 274.4,1098.5 209.3,1145.7 234.1,1127.7 276.8,1116.5 249.9,1203.4 214.9,1156.5 246.2,1160.3 306.5,1120.6 335.1,1094.9 225.6,1173.9 201.9,1164.4 262.1,1138.5 170.8,1158.9 198.2,1201.6 315.7,1152.1 253,1181 253.9,998.9 234.2,1197.8 341.5,1091.4 306.7,1080.5 264.6,1174.6 287.3,1150.5 269,1128 257.6,1134 195.8,1149.4 347.7,1108.9 236.3,1056 273.1,1149.8 260.9,1124.8 196.1,1211.1 278.9,1104.4 236.2,1164.6 246.1,1113.9 278.3,1079.2 265.1,1223.1 267.8,1119.6 306,1167 270.4,1173 238.3,1176.3 229,1191.1 266.8,1135.9 312.9,1140.2 240.6,1158.9 311.3,1074.5 270.6,1167.9 293.1,1111.4 270.6,1160.8 249,1124.1 307.9,1094.4 319.9,1133 343.7,1109 289.7,1060.6 266.7,1132.5 274.2,1076.9 310.1,1133.9 265.7,1091.4 259,1055.3 243.9,1102.3 245.6,1098.8 351.1,1172.1 212,1162.2 324.5,1116.9 294,1072.9 332.7,1133.4 260.1,1190 265.6,1205.6 320.7,1130.8 221.9,1171 290,1139.1 242,1169.3 200.6,1178.6 400,1111.5 208.3,1147.4 181.3,1159.1 237.3,1140.7 374.3,1085.7 185,1199.5 323.1,1094.6 216.2,1152.5 306.8,1158.9 272.2,1149.3 315.1,1094.5 268.6,1207.6 329.7,1034.4 286.5,1191.9 226.1,1221.7 245.8,1099.8 299.1,1098.3 310.3,1120.3 283.6,1069.2 237.4,1126.3 367.9,1109.1 375.1,1168.1 268,1219.2 265.8,1170.5 239.4,1172.9 231.8,1125.5 298.4,1147.1 236.3,1145 263,1146.2 306,1108.1 328.5,1121.2 348.1,1087.3 186.8,1111.6 223.3,1154 270.1,1185.7 262.2,1209.5 248,1198.1 327.3,1130.7 299.9,1053.3 220.2,1184.4 305.5,1107.2 296.8,1116.7 332,1050.5 336.2,1119.8 235,1175.9 246.9,1191.8 215.5,1110.9 330.1,1084.1 299.9,1136 315.6,1164.9 295.3,1117.8 182.1,1146.5 271.2,1192.4 272.5,1185.9 277.2,1120.8 250.2,1115.3 276.4,1185.1 230.9,1150.8 330.6,1074.4 234.5,1099.2 291.2,985.8 360.4,1057.6 353.5,1144.9 296.5,1095.3 169.2,1175.3 362.6,1111 254.7,1102.5 246,1055.1 301.9,1079 284.9,1136.8 206.9,1157.3 247.6,1158 226.1,1180.2 314.3,1094.6 307.1,1174 278.3,1136.9 263.3,1170.7 298.2,1174.6 210.3,1179.5 297.7,1152.7 206.7,1170 284,1125.4 256.7,1145.8 315,1141.4 341.2,1110.3 273.6,1098.3 252.5,1104.8 280.5,1070 221.8,1136.5 252.1,1121.7 287.8,1115.9 186,1177.8 286.5,1211.4 394.9,1074 333.5,1177.6 292.3,1139.5 315.1,1127 259,1138.4 282.7,1184.6 272.8,1163.3 316.9,1087.3 355.5,1073.5 294.7,1207.4 308.3,1182.4 293.7,1116.8 173.3,1138.5 204.3,1061.3 318.8,1087.2 322.3,1083.5 380.5,1026.1 268.9,1159.2 287.6,1147.7 293.9,1075.6 273.6,1105.7 365.8,1123.4 331.6,1189.3 202.5,1215.9 242.8,1175.8 221.4,1232.6 291.5,1138.5 334.1,1081.7 300.7,1111.4 290.7,1195 287.6,1151.9 215.6,1139.8 259.4,1181.2 282.9,1146.3 377.5,1031.5 263.7,1167.4 197.5,1129.7 188.9,1184.7 303.7,1087.7 232.5,1185 187.1,1223.8 232.4,1145.2 286.3,1130 224.6,1206.2 331.1,1207 201.1,1220.9 334.9,1095.6 225,1203.5 260.3,1137.9 216.9,1175.1 265.1,1186.8 278.4,1122.4 231.9,1157.4 265.6,1147.2 364.4,1129.2 357.9,998.9 299.5,1095.8 280.4,1148.1 296.7,1147.1 256.9,1240 272.5,1241.2 206.5,1177.2 309.9,1143 314.8,1196.4 285,1188.1 357.8,1016.4 256.8,1129.5 312.1,1108.5 314.1,1143.9 248.8,1116.5 315.8,1142.3 188,1195.8 292.8,1154.7 336.6,1115.8 359.4,1080.1 288.2,1178.6 335.9,1079.9 314.9,1111.2 288.3,1192.4 186.4,1200.8 271,1114.2 208.6,1137.2 367.7,1132.9 271.3,1106.4 229.4,1231.9 254,1165.7 300.9,1136.8 321,1074.7 291.6,1116.7 237.6,1225.5 263.6,1156.3 206.6,1157.3 309.3,1096.6 252.1,1093.1 363.8,1075.5 350.9,1105.8 243.3,1180.1 297,1190.6 283.9,1205.4 271,1132.7 263.3,1201.2 234.1,1164.6 308.3,1111.8 274.9,1124.9 240.8,1175.1 258.5,1093.5 224.8,1177.6 239.2,1109.3 351.6,1137.4 234.7,1151.5 206.6,1201.3 237.7,1097 234.1,1142.6 363,1075.2 212.1,1096.4 248.1,1179.8 203,1185.1 283.8,1234.5 288.1,1158.8 249.5,1208.7 299.8,1129.9 336,1129.7 272,1085.2 281.7,1216.9 253.5,1200.4 268.4,1068.1 249.8,1184.4 242.6,1174.6 282.2,1207.9 324.6,1078.5 332.6,1106.6 306.8,1101.1 385.4,1116.5 304,1136.6 357.1,1028.1 311.6,1116.8 226.5,1180.3 248.2,1252.4 245.7,1117.5 247.1,1080.3 338.2,1185.1 317.2,1100.7 352.5,1123.9 271.3,1148.6 259.3,1135.9 312.2,1134.2 237.5,1185.9 309.1,1079 227.1,1097.2 340,1095.2 277.4,1210.4 295.2,1182.2 177.4,1172.9 263.8,1225.2 223,1127.5 234.4,1160.5 288.1,1135.6 293.4,1129.5 251.2,1127.9 264.5,1139.8 224.2,1201.8 255.2,1170.8 278.9,1176.3 261.7,1204.8 309.7,1117.8 279.3,1106 253.1,1204.7 250.2,1169.7 248.3,1133 215,1085.9 342.7,1086.8 277.8,1175.7 268.8,1203.9 261.5,1109.7 296.5,1119.5 280.4,1052 228.8,1198.5 263.2,1168.5 256.8,1119.8 289,1155.5 223.1,1245 312.2,1158.5 311.1,1063.1 297.1,1124 287.9,1183.8 216.8,1193.7 214,1186.6 260.3,1146.7 256.2,1207.9 228.4,1179.9 304.9,1148.7 377.3,1185.2 276.2,1167.3 330,1159.7 281.8,1155.6 336.9,1073.4 238.5,1131.8 280.1,1166.6 213.9,1206.9 288.6,1178.3 253.9,1175.1 262.5,1191.8 285.1,1034.6 311.3,1126.8 329.8,1122.4 290.3,1146.7 260.4,1227.8 267.9,1148.9 331.3,1122.7 180.7,1141.6 279.3,1179.1 285.8,1171.3 292.2,1083.5 214.3,1094.9 276.2,1093.1 295.5,1120.1 295.8,1202.5 247.1,1110.9 221.4,1217.1 260.7,1186.4 306.1,1137.7 269.2,1113 300.7,1148.3 235.6,1111.5 257.4,1061 295,1116 250.2,1121.1 406.6,1074.8 251.7,1202 353.8,1091.5 235.6,1132.6 307,1073 191.7,1143.5 268.9,1145 242.4,1158.6 303.1,1109.9 348.4,1140.1 263.1,1126 269.5,1136.3 184.6,1155.2 380.7,1113.1 278.7,1198.1 208.2,1095 252.8,1247.2 340.4,1173.3 231.8,1219.6 325,1163.3 325.6,1094.6 289.7,1169.5 298.6,1108.8 235.2,1132.1 358.9,1049.6 237.8,1134 348.1,1165.4 254.7,1142.1 307.2,1073.7 234.2,1256.1 287.7,1119.1 248.9,1195.4 219.8,1189.9 296,1133.7 267.3,1149.6 256.3,1128.2 254,1185.6 197.4,1176.4 308,1121.9 302.3,1132.3 350.4,1106.4 219.2,1150.2 283.8,1251.6 389.4,1037 275.2,1079.9 255.8,1073.7 227.1,1191.2 242.3,1166.8 317.5,1128.8 275.6,1134.6 320.4,1142 207.4,1115.2 240.5,1130.6 259.4,1145.7 249.4,1146.8 290.2,1125.9 246.5,1185.7 243.5,1088.1 270.6,1137.2 325,1194.5 364.2,994.1 286.8,1215.1 266.7,1211.1 277.1,1108.8 263.1,1171.9 318.3,1122.8 226.7,1133.2 287.2,1015.1 222.9,1172.7 214.9,1126.7 316.2,1122.5 220.3,1101.3 357.6,1159.7 359.2,1173.9 283.4,1087.5 312.5,1114.1 252.7,1129.5 275.7,1128.1 183.6,1143.2 249.7,1084 316.4,1120 247.7,1092.4 236.7,1067.7 286.7,1148.4 272.1,1167.2 280.2,1111.6 230.4,1123.2 302.8,1190.3 278.1,1111.6 328.8,1114.4 311.4,1027.6 282.9,1054.1 276.4,1143 270.4,1217.3 255.6,1099.4 206,1172 211,1176.6 323.3,1084.2 329.9,1099.7 241.8,1214.2 291.7,1154.7 327.6,1167.5 304.5,1037.1 341.4,1083.6 237.1,1191.2 251.3,1094.6 199.8,1216.3 269.7,1153.2 260.6,1129.5 237.7,1137.2 249,1225.9 259.2,1164.4 364.5,1042.1 246.3,1177.4 255.9,1128.7 318.1,1104.5 319.5,1116.3 229.4,1136.4 333,1073.2 332.4,1074.5 282.8,1135.8 272.8,1116.6 264.3,1145.4 282.6,1103.2 259.9,1104.3 308.2,1074.8 328.1,1113.2 273,1155 312.9,1051.4 299.4,1061.7 239.4,1124.4 237.3,1109.9 218.3,1132.2 236.3,1199.7 251.6,1141.7 328.2,1127.4 270.8,1164.5 218.9,1211.9 232.9,1108.6 264.5,1236 265,1135.1 238.4,1051.9 303.5,1092.8 310,1080.5 243.9,1194.4 238,1117.5 259.2,1157 290.4,1099.4 328.5,1143.2 245.1,1148.3 281.5,1153.2 331.3,1129.8 213.7,1152.8 289,1136.1 272.6,1137.4 283.4,1209.1 339.7,1101.4 240.5,1131.2 280.2,1225.8 262,1119.8 344.4,1063.4 218.7,1197.3 319.1,1121.4 189.3,1185.5 291.5,1106.5 233.6,1156.9 251.2,1169.1 275.9,1092.1 369.3,1019 299.7,1200.2 241.4,1195.6 351.5,1123.9 249.7,1123.2 178.7,1139.4 261.7,1063.8 262.2,1082.5 273,1163.8 292,1097.8 266.4,1115.2 275.3,1069.1 258.3,1238.1 258.5,1080.4 301.6,1096.5 217.5,1177.3 331.8,1070.8 273.1,1128.4 249.3,1179.5 323.7,1224.3 293.9,1175.1 295.1,1131.8 177.6,1177.8 253.8,1235.5 366.9,1126.2 189.7,1191.3 372.4,1067.9 198.7,1090.9 173,1184.6 254.7,1214.8 298.3,1023.3 293.8,1152 248.3,1221.7 287.3,1049.7 286.6,1119 276.7,1213.7 278.3,1259.9 198,1218.5 308.6,1184 269.1,1101.2 319.4,1059.7 350.9,1086.7 334.3,1119.9 206.3,1218.1 272.4,1203 316.1,1144.3 293.6,1193.7 296.6,1162.5 252.7,1169.5 276,1152.1 316.3,1099.8 300.3,1129.2 236,1243.7 278.5,1196.6 255.7,1237.7 222.3,1248.7 341.8,1128.4 250.5,1129.4 376.4,1028.1 292.1,1106.2 277.3,1105.7 185,1107.6 257.4,1199.7 280.1,1084.3 229.1,1150.7 324.8,1056.1 358.5,1142.3 328.4,1112.5 320.5,1176 229.5,1187.4 349.3,1110.5 267.5,1192.5 269.2,1141.3 313.5,1112.6 211.8,1116.4 225,1136.8 213.6,1208 261.9,1033.6 358.4,1070.5 237.9,1186.6 308.9,1071.7 382.8,1073.4 368.3,1072.5 352,1122.5 249.1,1176.4 223.6,1223.3 251.3,1179.9 263,1081.3 339.7,1073.9 332.4,1074.6 272.8,1146.1 297.2,1118.4 277.7,1178.1 191.3,1218.6 226.7,1148.7 339.8,1102.6 258,1046.4 244.1,1094 308.7,1166.3 345.9,990.5 304.8,1121.4 234.4,1121.2 227.9,1217.5 255.4,1173.9 320.7,1144 265.5,1174.4 328.7,1144.3 228.9,1135 295.5,1194.8 306.1,1082.8 262,1192.1 284.2,1118.3 345.5,1125.2 296.2,1138.1 201.9,1221.3 358.3,1085.9 305.8,1105.3 231.9,1181 288.8,1197.6 317.4,1125.7 238.2,1180.4 291.3,1102 244,1231.1 256.2,1116.4 306.8,1103.2 221.2,1132.3 261.4,1120.6 284.2,1120.8 347,1084.6 325.2,1085.4 305.2,1156.5 236,1083.2 306.7,1213.8 266.6,1176.5 260.9,1178 221.8,1149.3 333.7,1130.5 237.2,1138.3 227.1,1184.3 234.6,1190.2 276.7,1166 301.7,1139.4 218.1,1152.3 187.4,1162.3 310.2,1173.6 331.6,1124.2 234.7,1210.5 258.4,1180.4 331.8,989.9 219.5,1198.9 236,1230.4 281.3,1141.7 270.3,1185.4 314.1,1126.1 217.6,1178.9 253.2,1126.5 274.7,1138.2 318.9,1152.5 314,1024.4 289.6,1175.6 180.7,1141 339.5,1180.5 231,1179.7 315.5,1111.9 269.7,1126.2 298.8,1169.4 178,1204.9 233.1,1256.8 421.6,1060 347.8,1132.6 321.8,1178.2 304.3,1163.9 410.8,1065.5 295.8,1179.6 320.4,1131.6 304.9,1197.2 301.3,1175.6 318.8,1135.5 334,1133.1 312.5,1154.9 396.2,1111.6 363,1103 376.2,1083.9 371.4,1102.3 341,1110.2 361.4,1088.3 366.1,1137.3 402.2,1083.1 331.1,1128.8 357.2,1103.5 341.6,1156.4 398.4,1084.4 402.5,1061.5 303.4,1183.4 342.9,1124.6 302.2,1187.8 361.2,1125.9 302.9,1150.1 371.6,1132.3 387.2,1093.1 320.2,1165 385.2,1126.1 405.9,1096.4 420.4,1059.8 351.4,1143.1 355.3,1160 385,1070.1 305.3,1201 280.9,1105.8 397.8,1012.1 489.6,916 331.3,1064.4 255.7,1132.4 422.5,984.4 315.7,1103.8 367.4,1066.6 386.2,1046.7 334.4,1066.4 346.9,1054.3 403.5,1021.8 407.1,1013.5 367.8,1030.6 403.8,1005.1 356,1017.1 311.9,1103.5 460.7,924.5 377.8,1035.6 359.6,992.9 423.9,984 331.2,1049.4 251.7,1137 239.2,1171.1 316.4,1073.9 437.2,1001.1 387,1038.8 387.1,1012.6 340.9,1109.4 253.9,1151.4 335.3,1076.5 260.5,1214.4 318.3,1144.9 382.5,1025.6 313.4,1115.2 248.2,1156.1 388.5,1038.5 373.8,1029.1 365.5,1066 188.9,1154.2 393.5,1021.4 338.4,1098.5 379.5,1031.8 398.3,977.4 375.2,1036.3 418.4,968.2 386.1,1011.9 314.4,1094.7 329.8,1125 472.2,931.9 482.2,902.5 349.7,1098.8 365.4,1035.5 373.9,1020.1 401.2,1000.3 242.5,1152.3 418.5,1012.2 345.2,1019.5 360.8,1028 339.6,1082.7 452.9,955.1 333,1068.4 460.7,907.5 473.1,948.5 317.4,1072.8 438,993 405.4,955.2 344.4,1066.9 223.6,1199.2 359.6,1079.6 385.8,1020.5 508.4,884.1 453,956.3 425.2,972.6 384,1022.9 407.2,958.7 306.4,1096.4 310,1096.9 277.5,1131.1 285.7,1117.5 371.3,1070.4 516.6,926.6 285.5,1153 383,1024.5 378.5,1054.4 240.1,1170.2 347.3,1051.2 206.5,1177.1 435,969.8 432.4,1002.7 325.8,1115.9 346.4,1088.8 328.5,1087.4 306,1085.8 411.4,1001.7 281.2,1124.5 326.2,1066.2 292.9,1146.7 419.7,957.8 353.6,1027.3 416.9,967.8 292.8,1098.6 393.4,1011.6 386.4,1035.5 422.6,1001.7 347.6,1050.6 394,1002.8 413.6,995.9 330.9,1103.5 216.2,1210.3 403.7,1017 373.8,1052.1 328,1090.4 270,1140.6 449.1,921.2 358.3,1040.6 348.7,1035.3 280,1106.4 297.7,1102.4 373.4,1048.1 282.3,1160.9 425.9,967.3 328.2,1094.5 444.2,977.1 343.2,1029.4 304.2,1115.8 487.5,921.8 329.7,1042.2 320.2,1094.3 422.3,1001.7 386.7,1038.7 349.5,1051.6 236.4,1208.3 258.4,1195.1 420.1,1003.5 299.5,1076.4 393.7,1034.4 286,1111.2 364.9,1036 258.5,1204.3 353.8,1092.1 463.8,977.3 339,1017.1 344.3,1102.2 321.2,1043.8 357.5,1066.1 466.2,921.7 365.5,1051.2 391.5,1039.6 331.5,1104.9 385.7,1018.8 356.5,1003.1 295,1099 229.2,1162.3 335.1,1075.7 438,990.2 300.5,1089.2 335.3,1094.4 420.2,973.5 335.3,1061.5 230.7,1197.2 468.5,957.1 365.2,1064.5 308.1,1088.5 341.4,1085.8 374.4,1015.5 344.7,1123.2 476.8,947.5 381.7,1031 384.7,1009.7 365.4,1034.5 316.5,1100.2 357,1040.4 470.7,942.2 307.6,1080.8 333.9,1061.5 385.3,1045.4 288.2,1098 405.5,997.7 254.7,1128 383.3,1038.5 270.2,1113.2 326.6,1077.2 331.3,1081.5 525,880.5 321,1106.2 421.4,994.5 380.2,1033.8 294.8,1102 409.6,996.7 339.6,1053.3 231.1,1155.5 216.9,1159.4 375.1,1064.5 370.7,1057.3 225.9,1147.4 353.8,1055 339.4,1092.8 380.3,1027.4 326.1,1132.6 341.4,1044.7 342,1072.1 365.9,1003.6 430.6,1003.8 478.2,919.8 253,1167.2 374.7,1055 286.3,1122.6 264.5,1133.3 217,1170.3 327.5,1122.8 364.7,1080.6 321.6,1077.9 372.3,1066.2 349.8,1048.7 351.5,1015.3 338.5,1057.4 354.7,1039.4 356.3,1059.5 315.5,1105 239,1144.4 228.2,1153.6 365.7,1039.4 232.7,1097.8 391.1,1028.2 317.9,1117.1 285.3,1124.4 300.6,1071.1 342.7,1061.2 440.9,951 297.7,1091.9 323.3,1129.8 356.3,1045.8 393.3,1000.8 335.5,1086.6 280.6,1086.4 386.8,1052.7 360.5,1054.1 368.9,1042.8 253.8,1164.9 366.9,1012.7 349.9,1069.1 414.6,1001.8 324.1,1083.7 359.3,1031.7 321.9,1082.3 493.8,940.8 228.5,1150.9 281.5,1137.7 299.5,1133.5 286.1,1086.8 440.9,957.5 390.2,1022.7 421.5,1009.8 334.3,1080 288.4,1100.9 328.1,1077.7 223.3,1122.3 234.6,1190.3 411.2,994 335.1,1065.6 430.9,977.1 251.3,1160.7 334.6,1049.7 278.7,1203.1 432.7,953.5 347.3,1061.4 272.4,1134.1 247.6,1105.8 420.7,980.4 252.1,1120.5 307.2,1064.3 318.7,1045.8 270.5,1130.8 447.4,976.4 467.6,952.9 301.5,1099.3 356.1,1056.9 366.5,996.3 384.1,1027.1 382.6,1011.5 274.8,1149 350.8,1069.4 248.4,1156.1 330.4,1068.1 371.9,1028 413.4,1025.7 194.4,1192.3 361.5,1050.4 263.6,1169.6 386.8,1044.4 355,1022.9 356.1,1051.3 394.7,987.9 357.1,1040.9 301.6,1122.7 298.4,1061.8 367.8,1040.3 231.6,1166.5 337,1087.4 367.2,1038 276.3,1133.9 420.5,979.4 426.4,1000.2 385,1033.8 340.1,1071.3 280.8,1044.3 388.5,1029.3 367.8,1024.9 412.2,1005.1 302.4,1111.6 389.1,1027.3 412.9,985.7 283.3,1126.7 350.2,1051.3 329.2,1043.8 334.8,1078.9 398.3,992.1 332.1,1073.8 398.8,1024.8 382.1,1047.1 397,1017.8 330.1,1080.9 299.5,1104 377.1,1012.5 350.8,1064.2 399.7,1012.1 303.4,1086.1 313.2,1104.9 377.4,1006.1 356.3,1056.7 326.9,1063 378.9,1010.8 322,1063.9 350.2,1045.2 368.1,1019.3 273.7,1132 407.7,1000.3 375.3,1092.8 306.1,1058.3 336.4,1060.5 314.4,1111.8 254.2,1204.5 348.5,1057.2 328,1100.2 446,953 447.4,973.3 307.1,1084.3 354.7,1026.6 417.1,991.3 368,1033 336.6,1068.3 319.7,1073.8 259.1,1100.1 397.7,999.9 379.9,1014 345,1036.1 337.2,1049.3 455.4,947.6 375,1029.5 423.8,963.7 251.4,1116 280.9,1101.7 282.8,1097.4 390.1,1009.4 343.2,1099.2 426.9,970.4 335.1,1031.1 423.5,1008.2 324.6,1076.9 399.5,995.9 333,1080.5 337.8,1054.6 308.2,1141.8 231.5,1166.3 272.9,1127 361.9,1034 368.7,1042.2 239.6,1151.6 265.3,1122.9 255.2,1139.8 375.1,1012.3 301.7,1122 300.9,1139 366.5,1017.6 302.6,1088.1 383.6,1028.4 382.5,997.1 300.3,1082.2 246.4,1171.1 329.6,1075 486.2,923.4 248.1,1095.1 441.9,983.3 306.6,1098.8 282.7,1115.4 456.7,982.4 330.8,1095.7 179.2,1161.2 290.8,1172.2 283.2,1102.1 306.8,1091.8 414.7,967.4 420.6,1012.5 345.8,1058.1 379.7,1035.4 328.8,1100.7 241.2,1164.3 327,1036.3 351.2,1091.1 402.4,997.5 353.2,1024.3 416.7,982.6 317.4,1080.2 318.9,1076.2 317.2,1086.3 300.1,1118.5 433.5,1008.1 366.9,1057.7 273.5,1136.8 338,1127.1 468.3,940.3 518.3,934.3 436.9,971.3 339.2,1034.1 462.5,971.5 342.6,1060.4 268.7,1128.5 351.4,1053.1 280.2,1129.4 341.3,1079.9 490.8,915.1 369.4,1013.3 365.3,1049.1 404.4,1012.5 315.6,1083 367.6,1046 294.8,1131.2 231.2,1115.9 291.4,1065 257.8,1122.9 222.7,1220.4 293.5,1072.9 297.2,1144.4 279.6,1110.3 442.2,973.6 380.8,1016.3 402.6,993 328.2,1069.8 267,1114 272.5,1102.7 451.8,939.9 307.2,1087.8 354.4,1043.9 223.7,1130.6 406.6,989.8 288.2,1108.4 351.1,1068 450.8,966.9 402.6,1006.3 334.4,1076.4 325.2,1053.6 435.6,961.3 475.5,945.8 384,1029.9 257.2,1204.8 344.5,1115.8 433.2,1008.7 292.5,1096.6 322,1069.3 280.8,1114.9 338.4,1100.9 415.2,998 390.5,1010.6 262.7,1108.4 430.1,975.2 253,1143.5 423.5,1007.4 431.3,1023.1 243.9,1116.4 202.3,1144.9 423.9,999.1 400.1,1020.1 360,1035.3 306.3,1109.4 380,1033.9 237.2,1131.6 408.8,1012.1 494.5,902.7 341.7,1070.1 431.3,1001.4 282.2,1096.2 380.5,1043.1 347.8,1076.7 395.7,1042.1 322.7,1064.8 248.5,1172.1 404.7,973.3 276.6,1129.5 435.5,998.6 304,1163.9 408.4,1011.9 365.3,1022.4 296.9,1068.6 417.1,998 361,1034 457.4,958.7 394.5,1013.9 430,978.1 252,1220.2 425.6,954.4 333.1,1069.7 345.3,1081.2 292.7,1166.4 288.7,1089.1 316.3,1060.9 349.3,1046.9 335.6,1034.6 309.8,1066.6 373.8,1061.1 396.3,993.3 299.8,1071.3 300.4,1093.2 419.2,989.7 369.1,1021.3 287.6,1117.6 401.4,1022.4 384,1036.2 487.5,914 418.6,1011.1 417,1020.4 350.4,1067.6 259.1,1088 354,1072.8 329,1069.3 342.3,1086.4 416.8,977.4 271.4,1111.9 453.8,940 276.8,1112.7 286.5,1175.9 404.4,990.5 327.5,1066.5 304.8,1104.1 363.9,1019.3 309.5,1080.9 345.8,1038.9 335.4,1092.3 342.9,1033.1 291.9,1108.3 393.7,1015.4 335.4,1100.5 361.5,1060.6 211.5,1203.3 368.1,1018.7 340.6,1129 348.1,1090.2 328.3,1088.4 287.5,1077.9 271.8,1116.9 392.1,991.1 295.7,1076.7 318.7,1065.2 299.8,1064 274.2,1089.3 406,987.2 291.1,1101 342.8,1021.4 282.2,1109.2 272,1183.6 237.5,1153.1 364.6,1027.2 196.9,1176.6 267.9,1214.7 307.2,1116.8 382.4,1036.9 297.2,1120.4 405.8,998.1 348.7,1101.2 318.4,1078.4 414.3,947.8 374,1040.1 320.8,1106.3 304.5,1105.2 395.4,1021 430.5,983.6 323.8,1089.6 352.7,1102.3 421.9,1013 302.2,1120.4 368,1041.7 351,1046.1 315.3,1062.9 260,1105.3 312.5,1064 254.4,1141.6 352,1047.9 312.2,1111.7 312.6,1096.4 410.5,956.3 365.3,1006.8 265.7,1117.1 417,1037.2 308.7,1085 264,1159.6 349.9,1061.2 333.3,1061 407.6,1012.1 383.8,982 398.8,987.1 271.3,1087.3 338.8,1075 265.3,1219.5 354.1,1042.1 310.5,1065.7 175.4,1179 378,1026.7 365.3,1035.9 242.4,1173.6 179.8,1193.6 305.2,1080.1 363.9,1064.5 345.2,1089.7 434.6,984.2 477.8,910.4 357.8,1075.1 363.7,1121.1 295.6,1083.5 478.7,943.8 338.2,1063.8 387.1,1027.5 398.6,1013 411.5,1007.3 360.8,1033.4 462.3,948.1 370.9,1023.7 355.8,1056.7 272.3,1135.4 308.7,1078.6 336.2,1067.6 403.1,993.2 308.3,1105.5 357.9,1052.4 331.2,1081.2 334.7,1026 448.6,953.5 234.1,1145.6 408.6,985.8 276.1,1159.1 322.3,1102.5 334.3,1072.5 415.4,1018.8 354.5,1079.7 348.6,1064.8 410.8,1014.7 422.9,1018.3 321.3,1060.6 363.1,1019.7 423.5,964.3 372.2,1026.9 278,1126.3 361.8,1071.4 233,1149.7 501.4,934.7 370.7,1063.6 261.9,1195.3 315.2,1092.9 364.2,1027.8 402.7,1029.4 339.8,1078.6 314.2,1087.6 296.4,1139.1 405.6,1009.2 418.7,974.9 370.3,1047 358.8,1052.4 351.7,1051.9 314.2,1105 309,1078.1 380.7,1028 355.2,1041.4 378.9,1042.8 296.4,1114.2 391.7,1011.5 290,1145 419.1,976.9 322,1066.7 373.7,1054.6 284.6,1096.2 353.5,1086.2 307.9,1128.4 349.3,1051.1 212.9,1168.9 437.9,1009.8 356.8,1052.6 385.7,1015.7 328.9,1066.6 367.4,1022.4 328.8,1142 295.2,1133.5 318,1094.1 238.8,1153.3 391.8,1010.2 332.5,1100.5 303.4,1054 278.5,1111.5 370.3,1022.7 399.6,982.7 333.1,1098 410,989 377.5,1055.5 370.3,1063.1 217.1,1159 303.6,1141.5 426.4,990.4 413.1,993.9 502.3,933.1 310.7,1108.9 401,1013.8 225.2,1138.6 307.1,1133.8 274.4,1132.1 312.4,1137.2 366.9,1040.2 452.6,978 363.8,1050.6 280.9,1155.3 417.9,953.8 373.8,1037.4 246,1159.9 439.1,967.4 342,1045.3 383.1,991.1 319.3,1109.8 316.6,1093.6 379.4,1033.8 263.7,1184.3 348.3,1049.6 422,1014.1 386.3,1036.7 348.7,1067.9 325.2,1088.6 346.2,1109.7 453.1,966.6 376.3,1047.8 353.2,1038.2 297.2,1127.3 366.9,1023.1 394,1002.9 209.9,1219.7 458,946.8 387,987.5 325.4,1060 219.8,1168.8 517.4,903.5 390.4,1008.5 330.7,1106.4 256.1,1158.3 409.2,981.1 259.5,1213.8 346.9,1060.2 322.8,1075.7 257.6,1131.2 299.1,1109.1 295.5,1102.6 410.2,1004 382.9,1041.4 426.6,985.8 271,1118 444.8,984.7 369.7,1035.1 436.2,981.5 301.8,1054.7 391.8,1038.9 275.8,1115 433.9,992.1 343.6,1042 305.6,1099.4 354.1,1086.4 364.5,1069.8 230,1193.6 359.9,1065.1 239.9,1104.5 329,1065.4 353.4,1052.1 481.8,889.2 366.1,1032.4 258.9,1158.6 389.2,1037.2 263.2,1139.3 295.2,1154.4 331.7,1153.7 404.7,1002.4 462.7,959.6 396.3,1025.3 280.5,1177.2 332.4,1033.3 402.1,1014.4 312.2,1083.3 501.8,883.1 229,1137.2 268.9,1127.2 272.5,1150.4 432.6,964.1 393.8,985.4 394.4,1009.3 438.3,995.3 288.6,1092.3 231.2,1201.9 395.2,1036 234.4,1169.7 383,1010.8 374,1016 372.2,1061.3 442.5,978.5 375.6,1031.4 270.5,1144.9 287.3,1102.1 393.9,1010.9 328,1122.6 398.2,1021.1 337.9,1082.1 375.5,1045.7 278.7,1113.2 343.4,1071.1 220.7,1145.9 270.3,1072.1 386.2,1019.2 299.8,1094.1 275.9,1112.1 394.8,984.8 398.4,1002 266.4,1129.9 356.7,1032.2 375.3,1016.1 270.5,1097.1 289,1098.6 345.8,1075.9 439.7,946.6 354.2,1067.1 330.7,1046.1 365.5,1025.9 441,1020.5 250.4,1107.9 408.9,1014.3 364.4,1024.5 404.6,1006.3 353.2,1063 359.9,1064 515,889.4 466.3,928.3 322.5,1154.3 248.8,1179.5 381,1037.4 371.2,1019.2 345.8,1038.2 346.3,1072.6 460.1,974.5 273.4,1114.5 379.4,1004.8 390.1,1033.6 375,1019.9 303.4,1114.4 451.6,934.5 413,992.7 396.9,994 374,1024.3 235.9,1140.9 310.7,1101.5 253.9,1140 346.9,1064.6 233.1,1153.8 351.8,1078.9 286.1,1099.5 333.4,1064.9 280.9,1158.6 345.5,1063.3 376.4,1016 241.5,1144.4 371.3,1019.7 516,910.4 325.3,1080.8 282.7,1121.7 178.5,1163.1 241,1196.7 309.3,1121.3 329.7,1107.9 361.2,1023.8 467.2,962 266.8,1119.7 357.7,1056.2 438.9,970.4 386.3,1035.9 341.5,1036.9 353.6,1053.8 266.6,1163.7 281.3,1189.3 391.8,1010.8 439.7,976.1 429.1,1004.2 410.7,989.1 452.2,949.4 444.5,962.7 338.4,1101.5 360.9,1039.9 200.3,1216.7 412.9,987.1 359.7,1050.9 372,1070.8 420.6,1000.2 268.9,1157.6 353.7,1045.9 280.6,1108.3 460.6,964.8 283.2,1165.1 298.4,1089.7 373.7,1028.8 455,944.7 341.6,1059 267,1169.6 283.5,1093.3 378.9,1049.2 397.5,1038.9 241.9,1121.2 424.3,985.6 284.5,1116.6 268.9,1108.6 355.3,1096.8 290,1166 256.5,1133.9 325.5,1070.9 322.7,1090.3 285.6,1164.6 375.1,1053.6 285.7,1130.2 393.9,993.2 352.1,1025 377.3,1029.4 365.6,1054.5 301,1133.4 384.5,1052.2 385.5,1022.3 351.7,1054.5 378.1,1052.6 366.9,1039.1 339.6,1088.9 279.6,1067.2 366.2,1067.6 359.1,1055.7 391.2,1024.4 435,991.1 326.9,1084 297.4,1073.3 473.3,927.4 361.6,1083.6 343,1062.3 292.2,1116.3 367.7,1030.9 198.2,1203.9 288.5,1102.7 317.1,1065.3 298.9,1109.1 354.4,1040.8 410.4,976.4 380.3,1049.3 317.9,1084.9 296.8,1121.3 440.8,997.7 460.4,980.8 377.7,1020.9 404.3,1012.2 396.3,1011.8 233.9,1149.9 318.9,1096.4 300,1094 375.2,1019.4 414.6,993.5 348,1066 471.9,948.3 331.3,1074.4 319.7,1115.1 299,1098.3 198.4,1194.1 394.8,1027.4 295,1090.9 388.9,1029.3 376.9,1045.3 372,1026.5 221.1,1164.9 316.9,1093.2 329.1,1091.9 357.2,1041.9 267.6,1128.8 246.6,1113.3 419,994.4 259.3,1175.7 363.4,1062.1 265.3,1140 397,1021.3 327.6,1120.2 324.8,1103.7 281,1133.4 211,1201.1 461,957.6 340.1,1077.1 435.8,969.3 394,1033.4 276.5,1132.8 316.1,1112.7 374.8,1027 359.3,1076 299.4,1115.6 362,1037.2 392.3,1004.3 438.8,1003.8 458.8,960.3 359.7,1070.9 315.2,1084.4 318.9,1087 430.2,972.4 456.7,960.9 351.7,1054.3 312.1,1106.6 314.6,1071 267.3,1227.3 320.3,1064.1 386,1030.5 416.5,1018.5 424,986.7 250.6,1203.4 268.5,1157.2 283.6,1097 422.5,970.7 311.4,1071.2 452.3,974.3 350.4,1055.8 383.4,1025.8 246.2,1171.2 226.8,1182.1 286.2,1124 246,1139.4 222,1153.6 380,1037.6 447.5,967.7 289.8,1121.2 340.2,1084.9 434.9,984.1 350.3,1068.5 404.6,1029.8 370.9,1000.9 426.8,991.1 398,969.8 370.4,1054.8 289.4,1144.3 415.7,991.7 270.3,1139.7 361.3,1062.7 372.3,1029.9 539.6,868 402.8,1022.1 356.2,1010.3 328.3,1090.1 342.3,1077.4 259.6,1179.1 208.3,1222.8 318.7,1055.2 370,1063.7 302.3,1081.1 298.5,1050.9 331,1083.2 466.5,943.9 307.8,1110.1 481.9,939.2 320.8,1131.4 343.2,1088.2 328.6,1050.5 391.7,1026.1 449.6,967.9 415.1,991.7 424.6,985.4 368.8,1037.6 357.6,1066.7 333,1057.3 235.4,1100.1 496.7,910.1 335.1,1054.8 296.9,1103.6 280.7,1150.9 315.8,1066.3 277.6,1133.7 407.2,980.3 417.6,972 294.2,1096.6 426.1,965.4 407.7,1008.8 362,1026.1 366.5,1039 328.5,1076 408.4,993.7 248.8,1187.1 409.4,1019.4 351.3,1070.8 341,1096.8 358.9,1049.9 401.8,1029.1 363.4,1062.2 285.6,1125.9 375.2,1055.4 347.3,1044.3 255.1,1122.9 306.4,1072.3 306.5,1112 345.1,1038.7 492.4,932.4 333.4,1048.5 308,1090.9 338.8,1068.8 288.7,1135 294.3,1094.7 302.7,1123.1 390,1033.7 307,1100.2 332.7,1038.9 376.8,1050.4 267.8,1128.2 376.6,1018.2 453.8,956.9 303.4,1056.7 370.4,1053.8 409,977 437.8,977.9 364.7,1044.3 321.1,1068.4 384.2,1030.3 277.4,1141.8 287.9,1114.9 308.8,1101.6 376.5,1036.6 258.6,1129.1 352.8,1036.7 230.5,1174.5 252,1104.5 269.1,1106.9 387.8,1031.3 471.3,948.3 234.5,1167 366.6,1051.6 333.4,1069.9 365.4,1028 313,1109 400.7,1006.2 202.1,1205.2 407.4,997.4 462.5,986.8 296.1,1127.7 364,1061.6 265.3,1136.3 328.3,1092 317.6,1074.2 399.1,1002.4 387.3,1017.1 468.6,938.4 357.1,1087.1 345.4,1047.7 432.8,991.7 225.6,1192.4 382.5,1027.7 346.3,1111.5 473.2,931.8 315,1054.7 425,1003.6 324.7,1099.6 427.2,952.1 424.5,994.6 407,982.6 324.9,1080 440.4,990.8 267.7,1111.6 290.6,1111.1 424.8,1007 401.6,1005 469.8,930.3 311.4,1119.3 389.4,1036.4 395.7,1031.3 446,1005.3 250.9,1106.5 340.3,1035.7 314.6,1079.2 371,1006.5 542.5,849.5 387.9,995 464.9,954.6 403.2,1022.7 320.7,1071.7 392.1,1056.2 369.1,1072.1 336,1055.5 406.4,995 389.1,1014.5 303.3,1120.1 221.6,1209.5 316.6,1092.8 383,1029.1 449.3,962.5 371.3,1047.9 383.2,1012.2 424.1,985.2 424.1,967.4 304.2,1104.2 336.5,1064.5 400.3,1009.5 294.9,1067.8 274.4,1094.1 354.7,1090.2 358.9,1054.7 420.1,972.8 327.9,1091.6 328.8,1137.5 343.6,1091.5 404.5,984.2 223.6,1158.8 362.2,1011.4 417,971.8 342.8,1087.3 337.6,1107.2 281,1130 276.8,1091 323.8,1034.9 445,966.2 395.3,1011.3 329.6,1074.7 259.6,1147.3 306.3,1159.2 428.4,973.9 266.8,1149.9 430.2,989.2 381.8,1054.5 424.5,981.1 380.8,1023.5 326.9,1095.8 355.2,1052 316.8,1066.8 271.3,1134.4 338.4,1065.3 340.9,1049.4 257.3,1105.8 326.3,1062.7 398,999.4 361,1061.3 295.4,1146.5 432.2,924.9 308,1103 430,974.3 378.4,1030.8 434.8,983.9 364.1,1027.3 239.5,1087.4 440.5,973.5 304,1098.3 267.5,1160.4 261.8,1159.3 379.2,1022 327.7,1094.8 319.4,1081.2 261,1158.4 475.2,917.2 405.1,1007.1 428.2,984.7 363.6,1031.3 436.7,971.4 344.1,1102.8 444.9,954.3 342.8,1040.3 344.7,1096.5 430.1,1015.2 390.1,1021.4 388.3,1027.7 264.9,1166 291,1107.5 285.4,1148.4 303,1097.7 344.8,1019.8 286.5,1109.6 361.9,1050.6 314.2,1146.1 334.7,1069.2 390,1004.5 436.5,971.9 484.8,920.5 369.3,1027.2 391.8,1037.8 465,950.3 240.2,1139.5 291,1119.5 431.1,992.3 418,962 474.2,903.1 477.7,924.7 465.3,931.5 409.4,978.9 362.5,1035 431.3,949.8 272.6,1199.3 353.5,1058.2 270.3,1155.5 339.3,1054 394.8,1021.8 329.8,1025.1 426.3,966.9 257.5,1160.3 327.4,1064.6 417.4,988.8 202.6,1128 341,1059.2 215.5,1203.3 488.5,929.2 290,1113.8 350.4,1042.4 387.4,1043.1 213.4,1157.9 304.5,1086 236.5,1162.3 390.5,1019.9 454,962.4 179.2,1192.9 352.8,1065.3 261.5,1160.8 363.6,1018.7 393.4,1022.4 404.1,985.8 405.8,1026.4 269.9,1195.3 240.2,1123.5 322,1039.7 386.9,1003.2 290.9,1105.8 320.6,1082.6 376.9,1021.7 372.1,1060.2 425.7,986.2 284.4,1138.8 367.4,1004.2 362.3,1051.9 354.2,1044.5 340.8,1067.2 314,1090.4 453.7,975.8 291.7,1078.9 383.9,1032.8 340,1029 312.1,1104.7 370.6,1035.5 387.3,1046.1 457.8,947.1 306.2,1111.6 386,1006 391.5,1019 417.2,990.6 304.7,1096.7 369.9,1031.3 272.2,1140.2 365.7,1022.6 428.6,978 465.1,963.1 221.1,1217.1 331.6,1085.8 362.9,1011.5 211.1,1151.4 507.9,871.8 370.2,1025.8 233.9,1163.3 570.8,848.3 380.4,1016.6 212.2,1171.4 307,1125.7 299.9,1096.3 329.3,1040.5 469.4,942.6 295.7,1083.4 320.1,1087.4 366.1,1059.9 398.3,1018.8 368,1025.6 261.3,1136.7 405.6,985.1 311.6,1124.7 309.5,1115.8 522,887.7 246.8,1181.6 363,1066 277.5,1115.8 407.9,1009.6 396.5,1038.7 288.2,1109.6 338.3,1097.1 326.3,1093 380.5,1007.7 236.3,1165 365.3,1016.1 379.8,1038.5 346.9,1042.6 324.3,1079.5 400.3,1002.2 412.4,1029.3 377.2,1041.9 362.2,1047.2 418.3,1020.5 394.2,999 292.9,1137.1 279.7,1140.7 331.6,1082 317.8,1112 307.2,1080.9 360.3,1082.8 454.2,963.1 366.8,1051.7 373.6,1042 415.3,997.3 350.4,1132.3 335.2,1073.1 215.4,1161 291.8,1105.3 370.7,984.1 334.6,1084.5 327.2,1070.1 459.2,946.6 464.4,930.9 373,1047 326.6,1136.6 256.9,1123.7 364.2,1063.7 290.2,1137.7 358.2,1064.3 321.5,1092 353,1074.9 342.5,1094.6 430.5,970.5 313.8,1038.9 467.5,950 318.8,1076.8 474.4,959.7 279.9,1113.5 373.8,1039.1 301.8,1049.6 287.5,1130.9 493.2,918.7 375.6,1057.9 294.7,1125.6 258.3,1168.6 393.9,1021.9 380.3,992.6 370,1056.8 311.3,1103.2 321.9,1093.1 273.8,1151.6 305.8,1089.6 321.7,1082.2 393.3,1016.1 405.7,1010.5 294.1,1153.3 219.9,1202.1 475,944 346.2,1046.7 322,1139.7 374.5,1059.2 303.4,1130 297.7,1080.9 323.3,1100.9 439.5,947.3 392.9,1008.8 317.2,1075.8 335.1,1049.4 390.3,1023.3 428.6,1012.8 278.1,1112.1 336,1096 353.6,1054.5 398.5,1005.2 322,1093.5 378.4,1039.2 388.3,1006.3 332.2,1049.5 371.6,1024.3 396.7,956.6 213,1094.9 348.5,1043.2 366.8,1043.5 485.3,917.1 206.2,1180.8 281.5,1102.4 230.3,1145.9 273,1128.8 363.7,1042.2 272.6,1125.1 335.9,1073.4 351.8,1071.4 313,1063.3 384.5,991.6 380.2,1051.7 273.3,1100.8 306,1082.4 368.3,1046.7 302.1,1097.4 386.1,1040.9 342.9,1063.5 320.2,1106.3 326.3,1085.9 280.4,1143.3 361.6,1037.6 299.5,1092 301,1112.4 314.1,1069.2 503,928.7 422,984 299.1,1099.2 302.7,1153 387.8,1008.8 268.9,1116.6 429.6,989 298.4,1103.5 420.2,987.8 487,924.6 335.8,1088.7 390.5,1010.5 412.4,1018.4 502.7,891.9 516.5,895.6 291.1,1107.1 452,981.8 416.9,976.8 397.5,1057.5 381.3,1011.4 289.9,1131.5 300.8,1116.3 355.4,1066 275.5,1150.1 368,1016.3 355.6,1026.5 457.8,948.1 287.5,1126.7 439.6,951.1 386.9,1027.2 392.3,1041.9 361,1050.7 367.8,1053 305.9,1085.2 330,1142.2 445.7,963.1 212.8,1203.1 429.4,982.8 384.8,1018.2 379.2,1030.3 436,977.6 355.4,1033.7 387.4,1034.8 413.7,1005.2 353.2,1048.7 418.5,968.3 420.3,981.9 347.1,1041.6 410.3,1033.7 319.9,1122.6 384.2,1028.5 369.7,1034.1 283.2,1159.1 369,1052.8 415.9,1028.1 272.5,1085.1 284.4,1143.5 345.3,1036.4 347.5,1111.7 269.1,1085.5 354.3,1034 284.5,1098.8 364.9,1036.9 428.7,974.1 391.2,1035.9 371.2,1034.7 294.6,1117.9 450.2,964.4 327.1,1049.2 486.9,944.8 309.7,1069.6 369.2,1050.9 284.6,1144.4 371.4,1016.3 285.1,1158.3 369.2,1050.3 476,940.9 409.9,1003.3 277.3,1140.7 426.5,994.8 297,1148 313.7,1048.3 345,1111.4 335.2,1081.2 358.4,1060.2 186.6,1203 422.1,979.8 354.2,1066.9 273,1110.9 363.3,1022.3 458.2,964.8 290.1,1127.1 395.1,1006.5 367.6,1078.8 363.2,1051.2 323.7,1097.2 357.6,1051.1 396.6,1014.7 239,1146.6 321.9,1127.5 300.1,1072.2 307.1,1088.2 205.8,1137.7 308.7,1092.6 277.4,1139.8 376.7,1034 356.6,1066.5 355.9,1042.6 380.1,1038 309.3,1082.2 271.1,1113.9 396.5,1011.3 333.6,1097.9 282.7,1073.9 450.8,942.2 238.3,1142.8 410.8,1005.9 437,964.1 331.9,1084.3 326.8,1114.2 378.8,1036 297.8,1113.5 203.8,1176 411.5,970.4 455,947.4 288.8,1172.7 388.3,1000.2 364,1043.5 339.7,1048.7 404.7,1012.2 336.1,1098.1 317.6,1062.1 362,1046.8 371.5,1032.5 428.2,971.4 382.8,1006.4 429.3,985.3 346.2,1069.1 306.9,1147.2 383.8,1011.8 389.6,1019.7 412.1,982.3 394.9,1003.2 324.2,1141.1 297,1146.9 336.2,1066.3 377.9,1026.6 349.1,1062.1 337.1,1110 373.5,1055.1 229.5,1178.8 332.8,1050.3 198.8,1196.4 481.7,958.3 215.1,1161.3 472.2,931.4 395.3,977.6 429.4,988.3 410.1,1000.2 349.5,1100.6 339.7,1030 451.4,937.1 266,1110.2 347.4,1077.7 418.1,990.4 292,1081.7 475.8,942.8 228.2,1086.1 321.4,1121.3 368,1057.8 281.4,1083.8 326.1,1061.9 336.9,1038.9 343.3,1068.3 380,1035.8 370.4,1020.4 390.3,1046 364.2,1036.4 365.3,1055.1 381.6,1034.8 383.4,1030.5 412.7,1003.2 463.7,940.2 303.2,1084.1 465.9,921.2 412.1,989.8 431,989.7 343.5,1105.6 378.4,1034.3 378,1026.2 337.7,1065.3 405.8,1001.6 260.5,1109.5 285.8,1093.1 416.1,998.4 393.4,1033.2 271.5,1184.1 389.9,1029.2 359.3,1037.9 422.1,1007.4 353.2,1062.9 350.1,1053.3 312.5,1152 342.1,1065.5 338.7,1101.4 382.6,1020.6 214.1,1195.6 347.8,1062.4 422.7,987.1 392.7,1015.7 378.9,1035.1 368.7,1065.8 370.9,1040 289.5,1097.9 384.2,985.3 371.2,1051.9 259.5,1215.8 379.3,1008 274.6,1146.1 307.2,1159.6 364.5,1033.7 311.6,1087.4 364.4,1063.2 354.8,1041.2 321.6,1059.7 368.3,1035.7 181.7,1111.1 446.8,941.7 408.4,1013.3 294.7,1102.2 325.5,1073.7 441,965.4 276.7,1116.7 218.6,1159.7 480.8,922.2 420.1,960.5 373.5,1039.4 456.6,947.9 382.6,1035.5 389.8,1008.7 401.7,1036.7 396.8,1009.4 274.8,1116.2 361.6,1066.1 361.4,1026.9 299.3,1153.2 297.9,1180.2 330.3,1052.2 440.8,939.7 343.3,1071.9 426.1,994.8 437.7,982 428.2,959.9 378.3,1003.2 191.5,1134 210.9,1208 259.9,1119.5 302.1,1051.3 343.1,1069.5 325,1099.8 328.1,1085.1 382.7,1012.9 278.1,1149.8 364.1,995.2 386.8,1022.9 240.6,1186.5 355.1,1045.6 336.6,1051.4 376.9,1018.6 391.7,1040.9 183.7,1188.5 453.5,909.1 356.4,1051.7 397.6,979 405.7,996.3 269.4,1113.8 342.2,1061 318.7,1057 500,917.8 267.4,1158 453.8,957.4 410.8,1001.3 344.8,1068.3 270.8,1120.8 333.7,1069.9 398.8,1018 279.1,1115.2 350.7,1031.4 365.7,992.3 398.1,1014.4 339.7,1096.1 393,1016 397.1,1007.4 195.7,1176.8 264,1133 265.1,1166.1 324.3,1136 405.2,1013.7 382.9,1026.8 387,1046.9 329.6,1112.1 393.5,969 228.1,1153.8 218.7,1120.5 371.5,990 330,1079.6 417,986.2 402.4,999.1 417.7,1001.9 292.7,1112.1 313,1100.1 241.3,1177.8 338.2,1050.2 369.3,1084.2 320.5,1110.8 327.6,1076.9 364,1051.3 402.3,992.7 311.9,1103 310.5,1106.9 331.9,1058.9 376.6,1014.2 500.1,962 403.3,988.1 256.3,1199.6 281.5,1103 388.3,1009 295,1132.6 234,1126.7 354.1,1097.2 372.3,1049 319.5,1087.2 363.9,1085.5 401.3,994.4 296.2,1157.6 344.7,1065.2 230,1203.5 258.9,1143.8 407.1,989 287.3,1108.8 291.5,1147.4 398.1,1009.1 306.6,1090.9 399.8,995.3 454.8,915.9 505.8,926.3 331.3,1080.9 353.2,1027.5 300.6,1098.3 462.4,949.3 376.2,1019.6 531.9,871.5 309.9,1092.8 344.6,1070.9 295.9,1111.4 312,1118.3 384.4,1040.4 411.9,1000.1 293.9,1121.7 332.1,1069.7 392.4,1032.4 358.1,1089 393,1023.7 455.6,965.3 317.9,1122.3 357.8,1037.1 421.5,985.7 360.2,1068.1 451.9,961.8 338,1100.2 421.5,989.6 380.3,1064.1 393.5,1030 295.8,1102.4 408.4,978.8 287.8,1158 414.7,987.6 344,1057.1 356.3,1035.8 421.2,959.5 272.3,1171.9 394.9,1004.6 372.4,1036.3 301.8,1082.9 394.1,997.3 346.5,1061.2 471.9,931.6 329.5,1106.9 461.2,961.4 448.1,970.7 390.3,1051.1 308.5,1108.7 340.3,1053.6 278.8,1162.4 326.7,1130.5 305.7,1097.3 386.9,1049.5 266.1,1165.1 378.4,1029.6 298.9,1070.8 407.3,990.1 381.4,1012.9 321.6,1113.8 357.4,1035.7 372.1,1054 328.5,1110.3 329.1,1075.6 335,1065.3 270.1,1115.7 268.5,1144.8 359.4,1044.4 227.6,1177.4 376.3,1025.3 402.3,1004.9 341.1,1110.1 376.7,1031.2 287.2,1102.1 383.8,1009.2 559,858.6 377.1,1023.6 346.2,1066 346.2,1063.3 243.8,1142.8 272.7,1083 326.8,1078.5 277.8,1073.7 361.2,1063.6 418.2,966.4 244.1,1145.8 300.2,1101.8 345.4,1043.2 282.5,1156.2 272,1112.2 378.2,1031.2 386.4,1027.8 379.5,1055.2 290.7,1143.8 394,1041.4 406.6,1016.4 289.2,1069.3 352.4,1064.9 321.2,1078.1 329.8,1082.3 310.4,1100 382.4,1047.6 265.6,1092.1 461.8,953.9 385.3,1018.8 312,1064.2 489.3,913.3 357.8,1055.6 192.5,1211.2 417.9,989.4 385.7,1010.5 345.6,1067.3 348.7,1056.3 291.1,1086.6 294.7,1168.1 251.2,1112.1 522.2,907.8 294.1,1093.5 346.3,1043.7 470.2,947.7 286.6,1096.1 325,1052.5 306.2,1082.3 264.6,1177.5 364,1013.7 402,1037.3 341.7,1088.2 342.9,1086.8 391.8,1024.9 383.6,1007.3 471.8,928.2 397.8,1019 407.9,1015.8 314.9,1113.3 257.4,1150.5 428.2,971.9 328.8,1151.5 381.6,1004.6 354.3,1054.8 277.2,1097.5 375.9,1054.9 457.4,941.6 445.1,975.3 337.1,1109.6 300.4,1046.7 192,1172.3 233.7,1104.9 291.5,1076.9 332,1043.8 368,1021.3 334.7,1103.8 427.8,976.9 294.5,1123.5 409.5,1026.6 285,1126.6 323.6,1078.8 373,1057 403.5,1009.5 288.8,1089.6 296,1056.9 325.3,1063.5 367.3,1039.5 437.3,954.3 401.5,1016.7 349.8,1098.1 341,1086.8 408.2,950.5 435.8,963 409,978.8 360.4,1065.6 299.8,1123.5 301.1,1105.7 357.4,1047.3 275.4,1119.4 326.1,1054.5 492.1,915.2 365.7,1023.7 403.2,997.6 303.9,1137.8 442.1,961.3 337.5,1089.3 360.2,1053 358.3,1034.3 364,1057.8 313.8,1085.2 398.4,1018.7 488.3,919.4 344.7,1090.4 414.5,1004.9 282,1125.1 368.3,1026.7 341.1,1122.7 446.4,959.7 329.3,1084.5 397.5,1012.7 358.1,1044.8 257.2,1112.1 354.3,1045.8 345.3,1044.1 417.1,1011 367.9,1089.7 227.5,1159.1 290.9,1121.5 331.3,1097.6 390.6,1000.5 323.1,1070.4 407.6,987.7 352.9,1089 385.1,1034.7 411.2,980.9 365.1,1044.3 244.7,1165.5 428.8,980.2 318.3,1047.3 405.7,1001.3 354.2,1058.4 355.3,1064.5 324.6,1087.5 338.3,1057.7 280.7,1116.6 303.5,1129 409.7,1052.8 327.9,1062.4 409.8,1018.8 387.9,1042.2 303.1,1101.2 320.4,1023.5 336.2,1084.2 380.9,1017.8 454.5,941.6 359.5,1058 307.6,1077.5 482.7,906.3 344.9,1085.2 318.1,1117.1 340.6,1094.1 221.5,1207.7 452.5,958.5 430.3,990.7 434.3,997.3 403.8,1036.4 347.7,1076.6 330.1,1103.6 297.6,1103.8 411.7,1020.3 431.3,1015.3 421,1024.4 287.6,1128.7 461.7,915.4 291,1097.1 356.5,1060.4 338.1,1049.3 312.4,1080.9 243.6,1246 249,1116.7 295.8,1077.5 417,993.2 323.5,1086.4 393.9,1057.7 278.8,1145.7 333.7,1090.6 433.7,983.6 457,925.4 357.1,1017.6 373.7,1007.1 357.9,1047.6 323.1,1049.1 364.3,1061 415.5,993.4 312.8,1111.5 286.8,1142.7 388.9,1021.3 287.8,1076.3 366.7,1025.3 282,1131.1 350.6,1028.5 316.4,1083.9 295.5,1078.6 398.3,1019.8 312.3,1106.1 267.6,1142 337,1081.4 464.4,962.2 322.9,1084.7 274,1141.7 322.2,1109.1 418.7,993.8 372.6,1036.3 378.5,1025.7 380.3,1018.8 441.2,952.8 273.6,1151.3 438.3,973.8 385.6,1014.4 303.5,1135.2 408.8,1021.6 442.4,968 326.2,1062.5 421.8,993.3 213.1,1196.3 264.3,1164.7 384.7,1024.4 367.4,1060.9 385.5,1001.5 385.3,1022.2 406.5,996 264,1156.3 247,1138.2 422.1,972.3 363.6,1018.5 357.9,1050.1 362.9,1082.9 477.7,962.1 303.6,1093 381.8,1025.5 455.2,960 298,1068.4 326.7,1097.7 351,1087.6 223.4,1179.2 412.7,960.7 407.1,972.7 482.9,935.4 353.2,1047.3 386.3,1018.9 410.7,1009 469.6,939 379.8,1021.3 389.9,1011.3 294.5,1066.8 396,1034.9 374.1,1058.3 426.2,972.9 414.1,1000.7 275,1107.9 301,1125.6 384.5,1023.1 328.8,1067.9 374.9,1021.4 445.5,983.1 278.8,1129.3 391.4,1026.4 285.8,1099.8 383.7,1077.1 355.1,1060.9 269.6,1101.6 234.2,1229.1 318.5,1063.5 296,1148.9 376.7,1050.8 380.4,1064 414,989.7 376,1003.8 239.6,1188.9 256.8,1182.5 300.4,1117 346.9,1064 386.4,1054.7 324.3,1113.5 367.8,1024.9 299.1,1121.1 414,972.1 322.5,1080 299.2,1065.8 312.7,1074.3 345.6,1040.4 434.9,939 368.5,1038.1 421.6,991.1 301.2,1091.5 385.7,993.6 421.9,1015 422,983.1 290,1104.8 292.5,1100 370.3,1056 386.4,1000.3 304,1104 357.8,1024.6 470.6,956.3 213.4,1160.1 259.4,1116 349.9,1068.5 392.4,1022.7 364.3,1059.6 397.7,1021.3 468.5,974.7 317.4,1069.1 309.9,1109.1 457,964.2 255.9,1163.7 429.2,1004.7 455.2,970.9 383.4,1032.1 339.7,1099.2 366.3,1031 327.2,1085.8 485.1,912.1 413,1018.4 357.8,1035.3 380.9,1011.1 398.3,1016.9 429.5,979.4 371.2,1014.8 310.2,1097.9 355.7,1077.9 290.9,1117.4 249,1116.7 374.4,1028.2 310.4,1068.9 339.5,1048 409.9,1012.9 425.1,991 380,1051.9 315.5,1071.5 401.9,1000.9 293.2,1083.9 468.3,955.8 320.4,1064.5 426.1,962.2 276.9,1096.2 419.5,998.1 392.8,1019.9 352.8,1056.5 442,989 396.4,1012.7 360.6,1032.7 376.3,1073.1 387.1,1008.5 365.7,1031 326.8,1114.2 316.2,1093 353.7,1060.1 260.9,1100.9 220.2,1161 406.7,984.7 328.2,1089.2 506.3,896.9 378.5,1038 405.9,988 407.9,995 366.7,1047.8 323.2,1057.5 240.2,1135.6 304.5,1135.2 263,1127.9 301.6,1178.9 272.1,1161.6 378.4,1042.4 227.2,1175.8 466.5,948.9 305.9,1104.7 371.5,1010 372.6,1025.7 382.3,1018.7 360,1064.3 342.6,1059.9 342.4,1018.6 416.8,994.4 401.2,1001.5 375,1042.5 265.7,1149.5 282.1,1089.2 348.3,1030 427.9,966.7 443.3,945.9 317.7,1086.7 373.5,1022.3 317.5,1084.3 302.6,1118.8 359.2,1042.1 389.4,1008.3 377.3,1039.9 222.3,1222.6 437.2,980.9 188.5,1157.9 426.7,983.2 446.7,956.2 571.7,854.6 219.3,1105 321.3,1083.8 364.4,1043.3 389.7,1025.8 321,1077.2 425.9,974 329.6,1079.5 343.4,1034.4 355.3,1053.8 390.4,986.5 380.6,1010.3 267.1,1168.1 413.8,1001 296.1,1122.7 311.7,1127.5 314.6,1103.7 345.5,1069.1 389.7,1003.3 390.3,1004.7 283.2,1170.7 344.1,1048.1 436.5,989.6 422.3,993.4 385.5,1052.7 300.4,1088.4 407.7,1021 335.3,1060 261.8,1135 407.1,1033.9 451.8,987.5 489.2,923.2 458.8,976.9 393.3,1025.2 349.5,1057.1 380.2,1047 389.9,994.8 261.9,1108.8 340.1,1015.9 335.6,1078.3 394.7,997.8 393.4,1006.7 216.8,1193.2 251,1156.1 359.9,1060.4 389.6,1017.9 316.5,1126 344.9,1029.7 362.4,1065 331.6,1102.4 308.2,1090.8 390.2,1046.1 428,976.2 343.1,1122.3 402.6,1031.7 372.3,1044.4 318.3,1091.8 323.5,1099.3 295.5,1121.7 363.3,1045.7 394.6,1020.7 348.7,1090.2 232.2,1170.8 348.6,1043.3 365.5,1088 327.8,1086.3 430.2,990.8 295.8,1110.3 323.1,1071.7 369.6,1058.1 459.4,972.8 273.8,1121.9 357.8,1037.9 233.6,1182.4 310.7,1108 326.1,1072.3 280.2,1160.7 387.9,1025.4 357.2,1034.1 297,1108 357.7,1052.7 304.4,1108.3 324.7,1071.9 341.7,1082.2 429.8,961 297.4,1124.9 384.8,1021.8 415.8,974.5 348.6,1045.1 375.6,1002.9 468.5,909.8 255.7,1104 280.8,1133.7 388.5,1016.3 341.4,1041.3 444.5,950.1 300.5,1077.3 365.7,1057.7 385.8,1004.7 213.8,1194.7 449.4,965.2 362.6,1055.8 309.7,1127.6 309.8,1090.1 299.5,1066.3 445.9,971.2 304,1119.3 423.4,950.4 313.5,1090 385.4,1027.3 324.3,1073 350.7,1055.1 403.6,977 337.5,1049.4 299,1077.2 432.1,1004.3 486.2,921.3 336.3,1062.1 326.3,1060.1 318.7,1090.1 266.5,1143.8 301.1,1099 366.2,1019.2 299.3,1082.9 359,1020 347.5,1026.3 396.1,1017.4 444.4,951.8 352.1,1064.7 259.1,1142.7 363.4,1038.7 384.8,1016 467.3,939.9 372.8,1071.6 314.4,1108.2 280.2,1105.6 400.1,1029.6 330.2,1067.1 403.2,979 419,951.3 332.6,1037.8 393.8,1024.5 360.5,1061 380.3,1007.7 257.6,1142.3 274.2,1093.9 454.6,950 267.6,1170.1 286.7,1130.7 382,1017.5 273,1107 322.4,1088 295.6,1122.3 441.9,957.2 339.6,1063.7 462.7,960.8 365.2,1043.7 220.2,1140.9 369.7,1060.1 226.8,1175.3 393.8,977.9 227.8,1224.7 432,1003 388.4,1025.8 441.2,955 368,1018.4 363,1035.2 300,1057.8 315,1105.5 308.3,1113 314.8,1067.2 353.6,1092.3 511.1,912.8 391.3,1044.8 298.3,1125 449.3,982.2 359.1,1055.9 288.6,1090.5 357.3,1051.9 287.1,1084.9 374.9,1014.5 326.5,1078.2 407.2,978.6 245.1,1116.8 368.8,1049.8 258.7,1141.6 467.5,936.8 274.1,1138.1 465.1,916 333.3,1076.3 407.8,982.3 299.9,1117.6 331.4,1082.6 441,967 285.6,1170.9 388.5,1021.1 251.3,1173.1 488.5,922 422,991.5 250.5,1202.6 349.4,1107.2 421.3,990.7 496.4,907 341,1060.6 223,1179.2 443.6,987.8 287.8,1103.5 333,1046.4 281,1057.6 247.9,1149.5 195.3,1209.8 445.7,954.9 352.1,1050.6 346,1060.3 293.5,1091.5 368.2,1038 254.5,1119.1 260.4,1135.6 289.5,1197.2 252.7,1169.7 361.6,1048 236.8,1164.2 466.1,941.6 347,1089.5 298,1087.3 322.8,1083.7 441.8,960.1 352.9,1077.8 463.3,953.9 406,988 343.9,1026.7 322.6,1101.5 508.6,922.2 303.3,1087.7 482.4,951.2 253.8,1106.7 210,1144.9 321.4,1045.1 318.2,1102.2 332.9,1063.4 511.6,907.7 296.9,1042.9 375,1042.4 339.1,1068 356.3,1084.5 361.6,1054.5 335.8,1040.6 358.6,1082.7 366,1042 381,1048.7 341.7,1045.4 245.8,1173 296.4,1137.6 278.6,1161.4 332.3,1093.1 431.6,952.4 355.5,1044.6 297.7,1081.5 478.8,933.9 378.6,994.5 318.3,1133.8 365.3,1025.2 417.5,1003.1 396.9,990.4 332.5,1134.8 375.8,1065.8 273.8,1083.8 223.2,1124.5 381.1,1032.1 177.1,1163.1 329.8,1071.8 420.8,1004.2 375.1,1012.6 334.8,1059.6 365.5,1032 355.7,1052.2 442.2,981.7 387.2,1030.8 382.9,998.3 284.2,1088.9 339.7,1071.5 329.1,1109.9 411.6,984.6 396.9,993.6 353.7,1046.7 404.2,997.4 357.6,1052.1 336.7,1064.7 391.3,1019.2 363.5,1029.7 515.2,909.5 279.4,1150.7 421.7,992.4 292.7,1115.6 400.4,994.7 270.5,1101.1 244.2,1171.4 456.2,946.9 339,1061 476.9,958.1 302.4,1096.5 319,1126.1 455.2,989.6 328.9,1109.2 354.9,1047 301.3,1118.9 335.3,1066.5 212.5,1203.7 331.4,1083.3 329.6,1049.5 414.1,992 420.8,992.1 353.4,1067.6 362.3,1051.6 351.3,1058.8 494,909.1 322.6,1116.2 404.8,993.5 356.9,1039.9 271.2,1138 390.2,1013.3 420.9,962.9 383.1,1037.9 295.9,1145.5 397,1014.7 398.6,1010.1 330.2,1083.2 424.9,1000.7 232.3,1142.8 276.8,1135.1 346,1089.1 347.3,1044.5 422.1,999.5 400.7,971.3 318.6,1115.3 440.4,1000.4 468.4,956.2 417.1,1001.1 338.6,1050 329.2,1058.8 288.3,1093.4 237.3,1191.9 301.4,1102.3 278.9,1166.5 365.3,1038.3 369.7,1052.4 383.7,1032.5 376,1031.4 382.5,1016.5 329.5,1097.6 303.8,1049.4 405.4,1047.8 446,953.1 246,1181.2 311,1158.1 320.3,1058.3 270.6,1110.3 328.3,1106.9 339,1042.7 296.7,1108.3 402.5,1001.6 400,1013.6 398.8,1005.4 388.5,1032.6 395.4,998.4 404.9,1002 270.4,1098.1 500.1,918.5 282.4,1077.3 378.8,1036.9 244,1142.5 298.4,1155.6 370.1,1043.6 383.1,1032.2 450.3,946.6 413.5,1001.2 446.8,978.4 490.3,928.3 283.9,1184.8 453.2,955.6 329.2,1133.6 363,1018.7 343.4,1054.4 413.8,992.1 409.6,994.8 398.5,1019.6 322.2,1077.4 210.1,1152.5 356.5,1043.8 341.2,1041.3 358.5,1048 395.6,1015.8 450.4,889 438.1,985.7 377.7,1013.6 319.3,1084.3 277.3,1135.8 455.5,950.2 411.5,1014.1 371.7,1059.8 206,1105.4 361.2,1101.1 395.8,1005.3 386.7,1023.3 325,1076.9 360.8,1028.4 338.2,1064 330.5,1076.5 450.1,959.5 414.6,1010.7 383.3,1034.4 317.5,1071.8 460.1,972.7 277.1,1150.5 367.1,1028.1 291.9,1131.5 232.8,1209.1 321.7,1081.9 215.5,1189.7 304.2,1046.3 226.6,1116.3 346.2,1051.5 314.4,1086.3 261.4,1174.4 302.6,1068.7 284.7,1097.5 446.3,957.9 432.6,952.7 390,994.5 418.7,1007.8 510.7,896.6 382.1,1050.7 353.2,1032.9 465.6,957.1 402.3,1020.8 320.5,1141.7 459.7,950.1 378.7,1052.6 459.2,967.7 458.6,948.6 313.3,1061.8 349.3,1041.6 386.1,1007.2 264.2,1131.2 298.2,1125.9 372.5,1052 341.6,1042.3 297.7,1120 352.4,1064.3 385,1034.5 290.3,1084.5 280.1,1088.6 347.6,1072.4 275.2,1123.3 289.5,1110.4 341.2,1099.7 203.3,1171.8 289.7,1076.1 356.4,1035.4 300.8,1147.8 422.1,979.4 375.3,1041 442.3,973.5 366.6,1082.9 384.7,1007.3 348.7,1065.4 281.7,1132.1 386.6,1015 304.2,1107.3 370.5,1003.6 289.2,1129 337.2,1041.7 342.2,1086.5 432.3,972 310.4,1056.4 420.6,976.3 392.4,1026.6 444.2,945.8 298.4,1054.8 413.3,987.7 412.6,992.5 396.5,1007.1 371.8,1037.5 458.7,970.2 277.4,1159.8 414.5,1012.9 312.8,1087 405.1,1034.6 395.9,980.5 363.5,1015.4 321.9,1057.4 286,1111.4 257.3,1152.7 290.5,1086.5 382.1,1023 265.9,1167.7 526.9,886.9 350.4,1061.8 313.1,1119.3 433.2,998.1 416.9,973 377,1024.2 278.7,1081.1 347.8,1040 420.2,968 398.2,997.8 183.7,1150.6 402,997.8 466.4,938.5 286.8,1083.7 211.6,1167.8 308.3,1114.5 363.7,1053.1 327.1,1056.2 331,1060.8 299.2,1097.7 307,1111 352.5,1070.4 419.3,976.1 287.5,1103 423.2,985.3 432.5,961.1 416.7,993.8 292.4,1073.8 428.3,961.4 338.4,1105.9 331.4,1073.7 224.1,1140.1 294.3,1137.6 285.2,1119.2 437.4,966.7 370.6,1036.1 385,1057.7 316.1,1076.7 305.3,1074.4 287.9,1132.7 329.5,1091.2 428.2,959.1 326.3,1068.4 497.6,938.1 390.8,1027.7 339.8,1099.9 430.3,969.4 345,1060.8 403.6,980.3 283.4,1063.1 452.9,969.8 363.9,1018.9 361.3,1041.8 402.8,985.2 310.7,1090.1 192.8,1182 315.9,1137.3 408.5,996.3 444.6,948.2 254.4,1145.5 357.1,998.4 391,1023.1 240.9,1132.9 248.8,1191.1 452.6,928.8 386.2,1043.1 293.1,1049.5 374.2,1015 252.2,1185.7 376,1038.8 330.7,1060.3 332.2,1091.7 409.3,977.4 354.3,1069.6 361,1074.3 332.4,1112.6 272.9,1099.3 350.5,1086.1 454.4,976.4 212.2,1198.9 271.5,1139.9 304.9,1110.5 377.8,1018.1 288.6,1106.2 384.1,1030.9 212.7,1227 266,1137 368.3,1002.7 361.6,1054.2 407.7,958.6 396.4,1032 396,1022.5 264.4,1109.3 310.3,1118.1 414.5,1006.6 355.4,1040.2 442.4,933.9 377.7,1047.9 351.6,1056.7 335.4,1058.5 447.3,974.2 401.1,990.4 321.8,1111 396.2,1040.2 272,1111 398,996 334,1088.6 439.8,966.7 425.6,944.2 408.5,1017.8 227.4,1158 321.6,1114.2 350.7,1028.2 365.5,1046.2 373.5,1040.4 418.9,996.8 284.7,1094.1 234.2,1118.2 261.3,1165.9 428.8,996.8 405.1,1003.3 317.5,1100.6 331.2,1058.2 420.3,965.3 334.8,1101.2 404.9,1030.6 415.4,1027.3 363.9,1049.9 390,998.7 393.6,960.9 320.4,1093.6 249.2,1198.9 340.3,1081.4 252.2,1178.3 203.6,1158.6 401,1028.7 295.8,1156.5 344.6,1132 366.1,1068.8 304.2,1153.5 365.2,1006.5 457.9,921.9 262.8,1103 349.1,1078.1 280.2,1127.6 447.9,940.1 324.9,1061.1 317.3,1105.4 357.4,1017.7 325.8,1092.5 445.7,970.7 357.3,1099.8 297.8,1111.4 298.2,1063.3 385.4,1049.4 380.9,1030.8 213,1191.6 290.7,1098.3 357.5,1055.2 438.1,956.2 273.4,1120.6 277.5,1114.9 350.2,1084.8 435.3,986.9 256,1111.6 313.5,1095.1 280.8,1111.6 405.5,1006.7 448.5,969.7 481.3,922.2 465.8,966.5 415.9,1015.7 290,1090.6 376.4,1031.4 419.1,968.1 383.8,993.7 262.9,1101.5 310.4,1067.8 300.5,1078.4 415.5,1000.7 365.7,1047.4 306.5,1081.6 382.2,1005.8 374.5,1036.3 307.3,1113.3 431.5,1001.5 353,1058.1 340.6,1076.5 253.3,1104.5 348.9,1050.3 383.5,1032.2 283.8,1101.4 310.8,1075 399,1051.1 271.2,1168.7 477.8,928.8 335.1,1095.4 284.1,1130.4 322.2,1068 397.6,1006 336.2,1064.7 304.3,1129.6 354.1,1047.5 360.4,1044.2 336.2,1043.8 255,1112.9 360.4,1041.4 325,1076.8 361,1056 207.9,1218.5 343.6,1066.7 352.5,1033.3 315.9,1102.5 310.4,1059 272.8,1137.9 400.4,1016.2 356.8,1080.6 248.9,1140.5 316.6,1092.5 358.5,1047.2 337.4,1037 519.8,903.8 326.3,1068.2 353.5,1066.9 260.5,1106.3 383.2,1032.2 290.8,1135.6 372.6,1033.9 324.2,1143.1 285.4,1128.1 295.8,1135.1 458.6,910 274.3,1157.8 395,980.2 332.2,1049.5 239.1,1135.5 314.3,1078.9 315.3,1142.2 363.2,1038.2 421.2,986.3 472.7,921.4 303.2,1098.1 279.1,1077.3 300.4,1112.3 346.1,1065.2 266,1093.1 444.3,921 328,1058.6 328.6,1077.9 345.3,1039 245,1101.8 510.9,901.9 370.8,1001.5 327.2,1094.6 391.9,1035.5 457.9,909.5 376,1040.2 404.6,1012.2 227.9,1198.3 311.4,1135.6 286.4,1175.2 376.7,1036.4 248,1170.4 223.8,1182.1 309.9,1091.1 345.4,1091.4 390.8,1034.4 454.5,957.7 447.1,994.1 369.3,1072.1 370.9,1064.3 221.4,1198.8 429.3,987.4 316.2,1153.6 334.1,1113.9 348.7,1079.3 267.2,1128.6 322.7,1082.5 409.9,1003.7 438,972.5 486.3,945.9 413,1014.1 284.3,1078.5 378.3,1037 283.3,1148.9 367.1,1023.2 289.4,1082.3 308,1101.1 265.3,1141.3 486.3,952.3 347.9,1063.5 440.1,989.6 365.4,1075.8 372.2,1062.6 350.4,1049.3 446.5,966.2 202.4,1190.7 310.5,1077.1 310.8,1129.2 357.5,1026.5 284.4,1091.8 328.6,1055.1 297.7,1111.5 274.9,1129.9 372,1045.2 414.1,1004.9 327.3,1017.2 222.4,1145.6 280.1,1122.9 395.4,1023.8 319.3,1105.9 379.9,1003.1 334.8,1059.6 422.9,951.8 279.2,1149.3 350.7,1053.2 401.4,1014 371.4,1032.9 229.7,1141.7 253.8,1100.4 329.1,1122.4 227.1,1119 283.1,1084.3 316.2,1123.5 294.5,1081.5 315.3,1103.6 301.9,1144.7 403.5,1028 414.7,1005.8 331.3,1083.2 439.5,990.7 426.7,987.5 322.4,1101.2 460,944 440.8,959.9 390.3,991 336.8,1108.3 369.2,1042.1 332.7,1126.5 380.4,996.1 304.7,1063.7 257.1,1136.4 247.5,1127.8 299,1101 265.6,1119.9 370.3,1026.9 395,1012.4 367.7,1070 324.1,1099.1 312.7,1072.4 302.8,1100.9 278.9,1120.5 389.4,1049.3 270.1,1077.1 370.4,1021.2 275.7,1142.4 243,1139.9 371.4,1056 523.1,870 343,1063.3 297,1136.4 459,983.3 357.8,1077.5 312.2,1085.2 277.8,1168 382.6,1008 304.2,1094.8 298.2,1144.6 300.5,1072.1 427.5,1004.3 384.5,1001.6 273.9,1158.5 204.1,1208.3 452.9,965.5 348.7,1066.6 468.1,913.4 366.1,1041.2 382.1,1039.3 335.1,1067.2 350.9,1073.6 342.9,1037 335.2,1056.7 463.4,970.1 329.4,1082.7 317,1093 424.3,989.1 295.7,1150.9 311.2,1078.8 352,1073.3 234.4,1173.2 367.5,1038.8 318.8,1065.4 410.1,1025.2 359.4,1055.5 243.4,1147.6 234.2,1165.2 270.2,1115.8 328.8,1102.5 305.4,1066.3 310.8,1082.5 372.6,1031 252.9,1158.2 282.2,1100.2 430.5,959.8 342.9,1083.2 355.4,1088.4 380.7,1009.5 243.9,1149.4 358.9,1039 323.1,1065.4 299.1,1128.7 330.5,1027.3 427.1,952 356.9,1040.9 332.5,1078.1 454.2,958.9 387.1,1030.6 484.4,933.8 430.5,970.9 352.6,1049.8 307.3,1110.8 336.7,1096.7 431.4,995.7 252.1,1144.3 505.7,892.9 387.1,1045.3 425.2,995.6 304.1,1148.8 302.2,1106.2 304.4,1095.4 404,1014.7 316.7,1055 361.1,1062.6 320.9,1074.8 434.7,962.4 304.9,1102.5 310.5,1067.4 350.2,1045.6 548.5,886.5 275.8,1096.5 272.6,1138.4 318,1065.4 400.4,1028.8 400.8,1041.3 295.6,1061.7 294,1124 328.2,1086 298.9,1132.7 488.3,939.6 430.7,985.8 341.3,1083.7 384.7,1011.2 333.3,1124.7 348.7,1074.6 343.8,1043.6 258.8,1142.3 345.4,1060.8 283.6,1091.6 372.5,1023.2 256.8,1122.9 315,1118.8 399.4,1041.9 453.6,960.5 397.1,1038.2 358.9,1028.7 247.2,1164.8 300.7,1097.6 364.4,1059 333.5,1058.5 350.7,1054.5 424.5,981 437.5,962 295.5,1083.1 299.7,1128.8 214.7,1155.3 354.8,1056 377.1,1003.4 422,956.9 281.7,1094.4 303,1079.8 302.2,1131.3 495.4,895.8 460,936.6 309.3,1080.8 369.7,1043.8 308.3,1124.4 313.4,1077.4 499.9,901.8 343.8,1090.7 349.9,1087.5 350.3,1059.3 252.3,1151.8 193.1,1128.1 191.3,1189.7 431.8,998.6 287.4,1106.9 279.5,1075.6 409.7,992.3 260.9,1127.2 323.8,1099.4 290.7,1114.2 377.1,1033.9 348.2,1096.1 219.4,1173.6 410.7,981.4 439.7,969.6 373.5,1039.9 313.6,1066.3 346.2,1074.5 238.2,1116 310.5,1073 425.6,991.3 379.7,1053.5 245.7,1151.9 265.2,1173.2 323.7,1079.3 425.7,964.3 373.2,1026.9 351.8,1069.1 412.4,1005.8 316.8,1135.1 375.8,1039.2 340.1,1099.9 290.3,1164.5 375.5,1012.9 237.7,1133 341,1062 429.2,999.6 280,1171.8 430.3,965.6 441.1,959.5 394.5,994.9 323.7,1069.9 358.4,1105.2 330.9,1076.3 338.4,1046 270.6,1110.3 354.1,1021.3 459.8,964.7 251.6,1155.2 485.2,965.5 300.7,1162.8 274.5,1105.6 300.9,1073.6 330.1,1049.4 371,1056 491.1,971.3 384.8,1017.2 430.6,968.4 313.6,1088.8 375.6,1016.7 192.8,1148.7 257.3,1130 503.1,879.9 340.1,1065.1 389.5,1011.7 404.2,995.1 400.9,1015.1 227.3,1132.7 370,1057.8 513.6,908.2 428.9,995.1 309.8,1079.8 349.5,1058.1 327.9,1109.3 363.5,1050.9 338.9,1037.5 351.3,1064.9 288.8,1106.5 218.1,1178.6 378.4,1026.4 347.2,1031 376.7,1015.5 416,969.9 321.5,1064.9 435.9,979.4 347.3,1079 422.5,993 403.6,1017.9 293.2,1110.1 416.8,984.7 377.3,1013.9 366.9,1055 344.1,1062.1 359.2,1056 302.5,1110.5 292.6,1169.3 339.4,1050.2 405.9,995.5 328.6,1053.8 397,998.1 256.3,1173 464.8,938.6 347.2,1016.8 321.6,1063.7 356.5,1054 375.9,1031.4 351.4,1045.7 382.2,1035 259,1141.5 392.1,1014.8 346.4,1075.3 282.9,1142.1 393,982.8 348.5,1051.8 472,958.6 312,1099.4 456.1,972.4 387.5,1011.4 308.6,1118.1 414.7,991.5 388.7,1014.6 421.3,989.1 325.9,1106.7 313.6,1077.5 359.1,1045.7 410.3,986 431.5,969.8 439.6,966.1 391.8,1011 364.4,1042.8 336.9,1098.4 379.4,1010.8 295.8,1058.9 385.7,1050.9 350.3,1100.2 391.3,992.2 321.8,1073.9 319.9,1109 313.6,1089.2 387.6,1009.4 305.2,1078.2 422.9,951.8 300.8,1141.8 371.1,1033.4 308.9,1056.9 277.4,1144.3 356.7,1070 383.2,1026.2 398.6,1015.3 315.3,1058.7 284.3,1137.4 297.4,1101.7 306.4,1087.6 470.9,921.2 268.5,1143.9 372.4,1093.7 502.1,901 274.3,1133.5 463.2,942.2 449.4,956.7 424.9,1013.8 395.6,1028.7 269.7,1213.4 362.4,1082.4 317,1054.5 447.1,982.6 431.6,976.3 245.5,1115.4 277.7,1093.8 483.7,921.5 371.3,1062.1 361.7,1063.8 402.3,1010.3 323.8,1066.7 373.5,1032.9 299.2,1119.5 305.4,1118.7 384.5,1016.6 348.9,1024.9 392.9,998.4 362.1,1056.3 418.7,988.4 387.7,1033.3 382.1,1038 420.6,973.5 363.8,1052 288.8,1152.3 281.7,1102.3 326.8,1064.5 434.2,993.2 307.7,1089.9 333.5,1076.8 438.1,967 454.9,952.5 254,1149.3 291.2,1153.1 343.8,1069.8 360.3,1048.9 318.9,1100.6 245.7,1153.4 494.3,898.4 366.6,1019.5 471.5,971.9 404.2,993.6 387,1004.2 249.6,1187.4 386.3,1037.5 373.9,1048.4 372.7,1050.1 290,1092 304.2,1172.2 371.3,1062 398.7,1007.1 423.3,981 346.6,1018.7 219.9,1158.5 340.7,1090.4 332.8,1102.5 300.4,1099.7 257.1,1125.7 395.3,1013.8 301.4,1100.7 358.1,1049.1 397.7,1025 262.2,1076 331.3,1077.7 285.5,1080.3 436.8,983.3 288.6,1095.7 216.8,1133.7 421.8,995.8 458,964.2 379.1,1015.9 396.1,1040.5 379.8,1019.6 356.4,1042.1 385.9,1023.3 326.7,1077.2 259,1128.4 248.8,1222.4 258.6,1140.3 330.2,1092.4 357.9,1040.1 280.3,1107.7 271.6,1118.3 433.9,951.6 399.7,1027.8 265.1,1102.4 286.4,1121.6 356.4,1058.3 383.7,988 313.1,1108 323.6,1061.7 400.6,996.5 216.3,1149.5 357.7,1063.7 306.9,1063.5 252.8,1118.3 357,1054.3 415.6,1031.6 331.2,1101.7 319.4,1120.1 421.4,966.6 365.7,1066.3 278.2,1121.9 358.4,1043.7 416.6,1043.1 348.8,1096.2 223.7,1197.2 289.9,1091.3 271.8,1146.1 458.9,968.9 296.1,1122.5 477.6,958.5 342,1058.4 356.4,1066.6 372.5,1057.7 454.5,954.5 265.8,1130.8 335.8,1112.4 327.2,1088.6 374,1045.4 295.6,1095.3 358,1059.7 408.3,1010.3 324.1,1098.4 435,978.4 347.3,1070.1 333.2,1073.8 392.1,1023.7 320.7,1082.5 373.1,1029.2 327.8,1127.5 222.7,1103.5 351.4,1026.8 394.4,1015 336,1063.7 427.2,1029.5 328.7,1104.9 502.9,934.6 319.4,1074.1 376.5,1025.4 326.3,1051.5 328.9,1067.6 298,1135.1 431.8,962.7 344.6,1085.1 308.4,1109.4 409.9,974.2 407.4,982.8 295.9,1103.6 398.8,1022.9 417.4,976.5 355,1037.9 260.8,1141.6 344.9,1064 301.8,1110.6 278.4,1153.7 347.6,1028 390,1012.6 208.4,1223.7 342.2,1106.6 301,1127.9 373.7,1033.4 312.3,1103.1 242,1139.5 448.8,972.7 323.4,1060 429,961.5 355.5,1039.8 289.2,1123.4 270.7,1174.5 247.8,1158.9 346.2,1099.2 368.2,1063.2 450.6,984.6 279.3,1155.1 357.4,1060 399.5,1010.7 450.1,977.9 416,997.2 384.8,1015.4 402.1,1022.1 279.2,1165.4 354.4,1052 254.9,1131.9 493,915.4 399.6,975.9 352,1081.3 325.9,1077.2 342.8,1090.9 396.8,1025.5 327.1,1076.9 342.2,1069 261.5,1089.4 387.4,1019.9 384.8,1002 295.6,1139.7 392.4,1012.3 346.5,1073.6 406.6,993.7 409.7,981.2 306.7,1079.9 404.6,1028.7 430.1,987.6 269.7,1137.7 355.8,1057.6 268.9,1116.4 393.9,1017.6 231.3,1162.3 431.2,1018.9 316.2,1068.9 396.6,1014 478.5,907.4 336,1044.9 262.7,1098.6 298.5,1157.4 406.6,1014.8 283.7,1166.4 267,1172.2 372.1,1031.6 428.3,959.8 364.1,1028.2 464.7,917.1 432.1,970.2 399.6,998.8 377.3,1020.8 392.5,1045.1 368.4,1013.4 421.9,987.8 353.2,1038.4 244.7,1150.3 228.7,1167.3 297.5,1147.2 344.4,1050.1 248.1,1164.8 354.9,1096.2 384.2,1059.1 432,987.8 296.2,1131.5 314.6,1152.3 276.4,1160.6 263.9,1139.4 313.7,1081.1 441.4,955.3 349.2,1066.2 362.8,1045.1 452.8,985.6 427.7,973.2 378,1053.4 239.1,1187.7 292.9,1124.7 333.5,1102.6 293.4,1120.6 393.7,1015.8 287.5,1078.9 263.9,1138.9 326.3,1055.9 399.8,1011.4 304.5,1102.8 270.3,1132.5 274,1105.7 341.8,1054.2 375.7,1056.5 311.3,1121.5 288.1,1111.1 407.1,1025.4 492.4,911.8 506.2,871.4 502.9,899.7 563.5,844.1 538.2,866.5 466.8,928.5 471.4,936.8 509.1,906.6 520.6,901.9 587.8,813.7 517.3,880.2 572.6,815.6 597.4,831.1 493.6,929.2 549.8,839.9 491.3,888.7 473.5,933.1 505.2,889.4 474.8,940.2 578.3,858.8 488.7,917.3 485.3,905.3 571.3,849.6 574.4,847.5 518.3,897.8 472.5,937.6 507.6,897.6 588.3,825.2 483.6,900.4 595.6,815.6 549.2,858.7 576.3,838.7 466.3,908.8 575,836.3 554,858.7 489.9,906.8 591,820.8 575.5,820.1 552.5,857.6 493.2,888.6 507.4,891.5 505.2,903.2 536.5,865.3 504.8,911.9 498.2,914 484.2,900.8 472.7,926 591.3,828.2 466.6,945.2 589.3,833.2 486.9,915.1 560.4,849.8 524.7,891.6 558.7,829.2 509.5,898.7 546,838.6 594.2,813.5 577.4,845.4 476.1,936.1 550.3,858.9 562,844 582,836.7 547.2,848.3 493,944.1 593.1,823.9 467,949.6 538.3,880.6 477.4,922.9 497.5,925.3 580.1,837.1 493.8,908.5 529.4,876.2 502.8,901.3 478.5,916.6 572.8,806.6 468.5,936.3 589.3,823.6 477.3,949 484.7,929.4 537.4,895.2 581.4,826.2 568.5,840.3 480.5,929.6 519.6,884.5 494.3,929.7 573.3,823.3 468.2,942.5 478.6,933 520.3,886.3 601.3,843.8 506.2,910 491,913.3 555.9,871 575.4,835.3 578.4,838.6 520.4,880 558,826.2 521.2,916.4 512,903.4 468.5,935.2 550.8,843.4 491.9,908.3 517.5,885.3 479.4,926.3 453.6,924.9 488.6,910.8 599.5,828.9 497.3,921.2 546.4,885.9 587.7,828 465.7,934.8 510.7,916.7 499.8,902.7 533,879 579.5,833.7 464.3,946.9 575,811.1 527.9,898.2 485.2,912.5 522.5,892.5 500.8,898.1 546,863.4 554.7,865.2 508.5,875.8 482,904.6 532.4,888.7 548.4,848.1 492.4,904.8 552.5,873.5 504.6,913.4 540.5,870.2 578.4,844.7 551.5,851.8 476.3,943.5 560,859.9 592,827.4 534.3,873 518.2,906.9 601.7,828.2 507.1,928.3 535.5,868.8 559,845.2 503.7,920.8 511.4,898.9 592.4,847 586.7,828.6 508.4,902.4 479.5,914.3 558.1,860.6 465.5,938.1 497,931.7 561.4,857.9 484.6,935 372.3,882.8 298.2,953.1 210,963.6 483.8,1123.8 416.8,1204.7 370.9,1220.8 146.4,1175.1 159.1,1163.9 167.6,1218.7 231.1,1253.8 236.8,1259.5 593.3,799.2 594.7,811.1 548.8,811.1 492.3,853.3 442.9,1099.2 464.1,1033.9 587.6,832.2" fill="none" stroke="none" marker-start="url(#m)" marker-mid="url(#m)" marker-end="url(#m)"/>
<line x1="117.03999999999999" y1="1292.4" x2="684.2" y2="1292.4" stroke="#a9adb0" stroke-width="1.8"/>
<line x1="117.03999999999999" y1="1294.1000000000001" x2="684.2" y2="1294.1000000000001" stroke="#636a70" stroke-width="2.3"/>
<line x1="118.24" y1="1293.4" x2="683.0" y2="731.15" stroke="#000" stroke-width="2.6"/>
<line x1="118.20" y1="1295.0" x2="118.20" y2="1302.0" stroke="#000" stroke-width="2.5"/>
<line x1="108.64" y1="1292.50" x2="117.14" y2="1292.50" stroke="#000" stroke-width="2.6"/>
<text x="116.2" y="1325.6" font-size="22.6" text-anchor="middle">2</text>
<text transform="translate(103.2 1292.7) rotate(-90)" font-size="23" text-anchor="middle">2</text>
<line x1="259.38" y1="1295.0" x2="259.38" y2="1302.0" stroke="#000" stroke-width="2.5"/>
<line x1="108.64" y1="1151.95" x2="117.14" y2="1151.95" stroke="#000" stroke-width="2.6"/>
<text x="259.6" y="1325.6" font-size="22.6" text-anchor="middle">4</text>
<text transform="translate(103.2 1152.2) rotate(-90)" font-size="23" text-anchor="middle">4</text>
<line x1="400.55" y1="1295.0" x2="400.55" y2="1302.0" stroke="#000" stroke-width="2.5"/>
<line x1="108.64" y1="1011.40" x2="117.14" y2="1011.40" stroke="#000" stroke-width="2.6"/>
<text x="400.7" y="1325.6" font-size="22.6" text-anchor="middle">6</text>
<text transform="translate(103.2 1011.6) rotate(-90)" font-size="23" text-anchor="middle">6</text>
<line x1="541.73" y1="1295.0" x2="541.73" y2="1302.0" stroke="#000" stroke-width="2.5"/>
<line x1="108.64" y1="870.85" x2="117.14" y2="870.85" stroke="#000" stroke-width="2.6"/>
<text x="541.9" y="1325.6" font-size="22.6" text-anchor="middle">8</text>
<text transform="translate(103.2 871.0) rotate(-90)" font-size="23" text-anchor="middle">8</text>
<line x1="682.90" y1="1295.0" x2="682.90" y2="1302.0" stroke="#000" stroke-width="2.5"/>
<line x1="108.64" y1="730.30" x2="117.14" y2="730.30" stroke="#000" stroke-width="2.6"/>
<text x="683.2" y="1325.6" font-size="22.6" text-anchor="middle">10</text>
<text transform="translate(103.2 730.5) rotate(-90)" font-size="23" text-anchor="middle">10</text>
<text x="262.6" y="1349.7" font-size="24">log<tspan font-size="14.2" dy="8.3">10</tspan><tspan dy="-8.3" dx="-2.2"> iBAQ asynchronous</tspan></text>
<text transform="translate(72.7 1187.6) rotate(-90)" font-size="24">log<tspan font-size="14.2" dy="8.3">10</tspan><tspan dy="-8.3" dx="-2.6"> iBAQ S-phase synchronised</tspan></text>
<circle cx="410" cy="1025.4" r="7" fill="#f0921f" stroke="#23135a" stroke-width="1.7"/>
<text class="b" x="416" y="1012.2" font-size="18.7" fill="#111">RTEL1</text>
<circle cx="308.4" cy="1054.8" r="7" fill="#f0921f" stroke="#23135a" stroke-width="1.7"/>
<text class="b" x="238" y="1049.6" font-size="18.7" fill="#111">TERF2</text>
<circle cx="334.8" cy="1059.9" r="7" fill="#f0921f" stroke="#23135a" stroke-width="1.7"/>
<text class="b" x="345.3" y="1080.6" font-size="18.7" fill="#111">PPP6R3</text>
<circle cx="243.1" cy="1113" r="7" fill="#f0921f" stroke="#23135a" stroke-width="1.7"/>
<text class="b" x="166" y="1103.4" font-size="18.7" fill="#111">PPP4R2</text>
<circle cx="278" cy="1115.4" r="7" fill="#f0921f" stroke="#23135a" stroke-width="1.7"/>
<text class="b" x="291.0" y="1136.8" font-size="18.7" fill="#111">PPP1R10</text>
<circle cx="217.7" cy="1127.5" r="7" fill="#f0921f" stroke="#23135a" stroke-width="1.7"/>
<text class="b" x="136" y="1145.8" font-size="18.7" fill="#111">PPP6R2</text>

<line x1="258.70" y1="1394.5" x2="258.70" y2="1960.15" stroke="#a9adb0" stroke-width="2.4"/>
<line x1="117.2" y1="1817.93" x2="683.0" y2="1817.93" stroke="#a9adb0" stroke-width="2.4"/>
<line x1="400.10" y1="1394.5" x2="400.10" y2="1960.15" stroke="#a9adb0" stroke-width="2.4"/>
<line x1="117.2" y1="1676.45" x2="683.0" y2="1676.45" stroke="#a9adb0" stroke-width="2.4"/>
<line x1="541.50" y1="1394.5" x2="541.50" y2="1960.15" stroke="#a9adb0" stroke-width="2.4"/>
<line x1="117.2" y1="1534.97" x2="683.0" y2="1534.97" stroke="#a9adb0" stroke-width="2.4"/>
<path d="M117.2 1960.15V1394.5H683.0V1960.15" fill="none" stroke="#6c7278" stroke-width="2.4"/>
<polyline points="276.5,1738.4 206.8,1888.5 269.6,1869.7 231.1,1767.2 274.6,1750.4 241.9,1833.9 335.5,1829.3 332,1811.9 258.4,1861.5 280.3,1827.3 255.2,1740.4 290.2,1728.3 263.7,1807.4 322.6,1732 265.9,1909.9 227.8,1802.4 210.9,1815.1 304.7,1833.1 219.9,1825.6 280,1817.8 208,1807.1 267.3,1848.7 309.7,1774.4 231.5,1737.4 267.9,1820.9 233,1827.1 232.5,1901.5 208.6,1819.5 343.4,1761.3 255,1834.9 267.5,1802 292.6,1866.6 287.6,1815.5 170.1,1797.6 306.7,1813.3 198.9,1942.2 174,1858.7 239.4,1838.9 279.6,1847 249.8,1796.1 213.7,1834.8 212.2,1940 273.3,1850 238.6,1879.5 184.4,1769 167.1,1789.1 232.9,1804.6 233,1743.2 244,1832 290.2,1881.2 326.2,1764.6 303.2,1833.1 220.3,1780.9 281,1719.9 194,1793.5 200.1,1778 153.1,1896.2 251.7,1816.2 163.7,1844.1 281,1863.7 191.4,1859.3 269.7,1791 289,1833.4 281.7,1898.3 330.5,1799.4 354.5,1797.3 177.2,1799.9 205.6,1862.2 324.9,1870.9 265.5,1827.8 282.4,1742.1 263,1880.2 300.8,1885.5 235.7,1847.6 283.5,1723.6 192.5,1780.9 194,1867.2 177.2,1791.4 220.1,1756.3 207.1,1767.1 197.9,1790.7 263.7,1807.5 221.2,1728.7 188.2,1794 266.9,1866.7 312.6,1709.5 326.5,1808.8 236.8,1857.8 280.7,1782 238.2,1895.1 302.7,1821.7 218.6,1803.1 179.2,1899.9 269.2,1826.4 203,1823.1 213.8,1834.6 277.7,1778.7 248.9,1772.2 165.7,1807.8 346.8,1812.4 266.1,1906.4 285.5,1818.1 317,1737.2 260.1,1871.1 319,1741.4 296.9,1877.1 275.8,1825.1 251.1,1859.6 270.7,1816.6 208.1,1837.1 277.6,1825.3 259.5,1783.9 297.5,1847.8 208.4,1773.6 234.7,1869.4 306.6,1829.6 168.5,1792.5 290.7,1815.5 291.2,1747.5 263.7,1825.7 315.2,1848.8 290.4,1759.9 253.2,1796.3 266,1776.2 189.7,1762.8 315.4,1813.6 272.3,1813.2 304.1,1874.6 328,1809.9 217.7,1867.9 193.8,1825.7 180.2,1798.6 299.3,1745.9 254.3,1774.7 191.6,1788.4 239.2,1723.7 242.5,1857 226.4,1799.9 256.8,1825.9 231.3,1784.5 276.5,1886.5 329.4,1755 223.6,1841.2 193.6,1768.8 398.2,1744.5 195.4,1800.7 331,1868 198.2,1855.1 282.3,1862.9 239.9,1836.4 203.8,1772.4 290.6,1738.8 186.5,1808.8 300.7,1846.4 276.4,1917.7 254.6,1812.5 204.8,1912.9 218.1,1885.3 254.9,1701.4 327.7,1768.1 200.8,1840.9 211,1852.8 176.5,1790.2 240.6,1726.5 257.7,1749.7 272.1,1912.1 217.1,1749.7 204.6,1863.6 259.8,1732.2 214.9,1862.6 241.2,1821.2 308.4,1791 273.3,1754.6 290.7,1806.2 164.7,1827 307.1,1747 301.2,1890.5 360.1,1792.4 224,1799.8 248.8,1826.5 174.9,1811.1 158.4,1851.2 282.7,1908.4 255,1941.2 202.1,1783.9 286.2,1768.7 329.8,1824.8 216.7,1837.3 286.5,1906.3 261.6,1721.9 269.3,1845.4 320.3,1776.1 232.6,1779.2 285.4,1871.4 275.6,1779.5 358.3,1812.1 307.2,1788.3 290.8,1797.4 253.2,1833.7 229.7,1826.7 266.5,1916.1 269.5,1864.4 321.4,1842.5 250.3,1862.6 236.5,1868 336.4,1843 254.9,1842.8 303.6,1714.3 290.5,1833.6 251.5,1932 326.2,1794.8 331.5,1783.2 200.9,1854.4 264.9,1868.4 268,1794.4 179.5,1795.4 216.5,1807.8 292.3,1804.6 258.3,1803.2 200.5,1771.3 295.3,1870.1 245.2,1836.9 257.6,1784.2 269.8,1811.9 283.4,1798.7 244.7,1857.6 276.5,1909.9 181.9,1837.4 359.3,1825.5 309.8,1819.7 319.7,1733.6 324,1878.7 303.2,1833.7 242.6,1927.8 252.1,1918 270.8,1906.2 219.6,1854.8 301.3,1818.6 388.5,1807.2 273.9,1911.5 197.6,1857.6 196.6,1838.7 289.6,1767.9 238.1,1892.5 184.6,1827.8 251.7,1794.4 244.3,1730.2 296.5,1713.6 286.2,1885 255.6,1750.2 184.6,1837.5 182.1,1831.2 242.1,1840.9 217.7,1815 323.8,1799.2 168,1858.6 336.2,1815.3 255.6,1834.1 296.7,1850.3 184.6,1840.4 256.8,1824.5 237,1770.9 307.6,1824 232.8,1795.9 209.2,1863.6 299.7,1885.9 279.3,1859.3 305.4,1863.4 241.4,1788.5 182,1791 324,1779.3 280.1,1802.8 257.9,1885.8 233.5,1760.1 281.7,1919.2 191.8,1861.5 255.7,1746.9 229,1881.1 284,1796.4 220.5,1811.7 387.8,1764 220.5,1807.7 262.9,1865.9 256.1,1921.1 263,1849.5 212.2,1924.7 378.2,1812.8 236.5,1844.2 242.8,1728.9 178.7,1779.9 195.7,1826.5 257.5,1811.3 259.7,1826.5 329.7,1760.7 196.7,1789.8 281.6,1809 276.7,1787.2 234.3,1842.8 194.1,1767.5 242.1,1789.9 220.2,1838.1 272.3,1815.8 322.5,1850 275.2,1743.9 294.4,1745.3 193.7,1840.9 253.3,1851.3 295.9,1810.2 222.5,1850 225.4,1861 246.8,1746.9 293.5,1847.2 223.7,1788.4 263.2,1820.8 226.2,1851 307.2,1801.3 209.7,1775.3 355.7,1785.7 353.7,1781.2 225.7,1828.5 237.3,1749 292.1,1830.6 261,1824.2 344.3,1824.7 349.2,1797.9 166.1,1911.5 310.2,1799.7 350.5,1782.1 219,1803 267.5,1888.8 218.4,1873.5 206.7,1785.8 303,1792.9 214,1834 242.9,1939.5 160.1,1877.5 302.1,1860.8 282.1,1865 256.2,1809.5 250.1,1705.4 245.2,1869.7 245.8,1933.7 220.2,1933.9 268.5,1810.3 267.5,1687 211.2,1932.9 287.3,1835 272.5,1782 267.9,1723.8 220.8,1754.2 198.8,1819.9 156.3,1841.5 283.5,1862.3 288.4,1789.1 295.6,1890.3 239.5,1838.1 312.8,1885.4 305.6,1796.1 164.1,1792.5 266,1778.5 291.3,1875.4 191.7,1856.8 218.3,1835.2 225,1918.7 306.8,1852.9 213.8,1834.3 280.5,1811.5 156.1,1858.4 314,1725 307.8,1775.9 344.1,1852 254.1,1860.6 227.7,1835.2 303.5,1772.2 332.6,1772.4 255.4,1786.8 248.3,1792.5 199.1,1878.9 340.3,1843 224.2,1811.2 294.8,1789.3 262.7,1768.7 263.4,1748.9 207.9,1889.6 204.4,1874.4 285.4,1802.1 315.1,1752.3 197.3,1836.7 234.1,1774.6 233.4,1795 280.9,1844.1 275.7,1853.3 226.3,1782.3 363.8,1819.6 336.4,1826.6 266.8,1832 244.1,1784.4 198.8,1762.6 281.3,1783.4 169.9,1812.3 220.9,1924.2 239.8,1792.8 251.8,1822.2 226,1942.5 344.3,1850.3 238.9,1880.8 296,1821.3 275.8,1819.1 232.8,1781.5 276.3,1708.4 236.3,1912 196.7,1758.9 188.6,1891.4 269.9,1762.9 203.4,1812.2 263.9,1822 275.7,1803.3 267.9,1783 228.5,1815.3 285.5,1779.9 253.1,1725 276.5,1809.4 250.9,1797.3 221.5,1821.8 219.4,1888.1 216.7,1739.2 241.1,1761.1 197.8,1851.1 266.7,1845.6 250.8,1776.1 242,1810.2 215.5,1873.4 321.3,1860.8 328.3,1733 308.7,1849.6 237.6,1833.6 259.5,1788.8 309.6,1777.1 308.2,1768.8 295.2,1840.5 301.9,1833.5 332.9,1813.8 260.1,1869 278.5,1828.9 267.9,1751.2 251.9,1856.6 258.7,1854.3 278.9,1854.8 202.8,1906.2 204.7,1855.6 179.6,1786.7 301,1756.1 317.2,1750.2 263.1,1801.7 273.9,1752.1 276.7,1742.4 316.2,1836.1 332.3,1758.3 311.9,1721.8 273.4,1840.4 151.9,1879.3 241,1927.7 329.4,1830.7 314.2,1816.4 219.2,1775.2 301.9,1732.3 248.3,1840.5 203.1,1857 243.8,1823 191.7,1777.7 309.4,1836.6 259.9,1852.2 204.8,1747.6 214,1736.8 244.3,1734.2 204,1850.1 322.1,1756.8 352.3,1777.5 288.7,1772 187.9,1851.1 228.2,1881.8 215.4,1897.1 255,1869 198.5,1911.7 275.4,1795 218.5,1815.6 272.9,1772.1 226.4,1803.1 240.3,1814.4 291.5,1852.7 268.2,1832.5 267.3,1766.2 287,1762.1 319.1,1827.1 268.5,1704 253.3,1767.8 298.5,1845.7 283.8,1851.1 354.7,1772.9 308.2,1876.7 313.2,1807.6 326.1,1780.6 253.2,1810.2 249.7,1812.3 155,1869.5 249.8,1877 229.8,1837.8 218.1,1802.9 226.7,1825.3 227.4,1735.8 265.4,1933.8 323.1,1824.1 287.7,1866.4 214.2,1832.2 211,1795.9 249.9,1877 291.5,1740.7 196,1849.9 285.2,1770.8 370.7,1822.1 257.6,1811.6 193.2,1769.5 339.8,1817.4 297.3,1787.1 250.1,1817.8 246.2,1789.3 281.2,1889.2 293.7,1888.3 213.3,1801 280.9,1823 161.9,1829.6 240.5,1847.7 206.6,1916.9 267.2,1790.9 295.7,1781.8 348.1,1842.6 183.6,1909.1 264.3,1782.6 339.2,1841.8 190.5,1818.2 251.3,1854.3 343.7,1776.9 257.9,1813.8 195.3,1889.9 223.7,1864.1 282.8,1888.5 207.5,1892 255.1,1758.1 223.5,1762.6 178.8,1794.1 236,1818.6 313,1869.7 199.6,1852 274,1878.4 282.8,1756.4 203.9,1829.7 238.5,1867.2 279.9,1874.1 253.8,1856 173.4,1897.2 305.7,1871.1 392,1804.7 241.9,1910.9 252.6,1858 181.4,1799.6 188.6,1852.7 256.4,1811.5 308.4,1839.6 289.5,1838 221.5,1757 250,1808.2 336,1781.3 277.5,1844.8 235.1,1840.1 329.9,1780.3 226.5,1793.1 192.2,1848.8 231.4,1767.7 164.1,1792.8 192.2,1838.7 228.9,1847.5 226.8,1816.2 221.4,1897.8 223.6,1837.9 159.4,1908.7 283.2,1746.4 235.4,1798.7 228.8,1780.7 280.1,1875.6 226.3,1770 273.9,1785.6 186.3,1825.5 219,1807.5 275.4,1796.1 263.8,1834.1 264.5,1823.9 263.4,1813.8 211.6,1837.9 248.9,1780.4 258.4,1856.3 259,1893.9 179.9,1807.5 277.4,1837.2 185.1,1804.3 298.4,1715.4 245.2,1751.4 211.7,1810.9 274.3,1807.4 204.7,1828 372.8,1811.1 221.4,1781.7 319.7,1770.5 259.8,1808.5 255.8,1858.5 349.4,1763.2 281.3,1921 195,1851.6 254.1,1803.6 281.1,1769.6 242.2,1719.3 180.4,1893.2 233.7,1829.9 285.3,1860.9 290.1,1815.6 256.2,1837.1 217.1,1775.1 224.5,1773.7 214.6,1825.2 197,1807 348.5,1803.4 228.2,1840.9 256.7,1826.1 332,1862.4 303.9,1802.9 276.7,1811.6 202.6,1857.5 230,1829.4 328.3,1742.1 294.1,1801.6 298.4,1875.2 290.8,1755.1 272.7,1869.7 151.1,1912.5 244.5,1928.9 294.2,1857.4 273.9,1781.3 299.8,1836.3 256.6,1840.1 286.7,1854.7 171.4,1785.3 305.2,1753.3 200.5,1827.4 236.6,1734 231,1829.2 264.4,1788.2 183.1,1815.6 177.2,1837.8 343.5,1825.5 329.3,1809.2 258.1,1706.6 236.2,1727.7 253.1,1767.7 336.3,1788.1 248.1,1888.5 257,1780.2 311.9,1890.7 194.6,1789 269.4,1752.9 275.3,1914.9 220.3,1840.2 342.6,1763.1 227.9,1799.5 252.9,1818.9 300.1,1736.6 255.4,1727.8 271.2,1844 194.8,1917.7 338.2,1843.8 393.7,1806.1 277.3,1747.9 343.9,1848.6 312.9,1745.2 237.5,1849 252.2,1859.8 301.6,1859.5 270.8,1817.8 219.4,1775.7 260.7,1787.7 327.1,1867.6 255.8,1814.7 277.6,1863.2 286.8,1835.8 364.2,1705.2 253.8,1774.1 150.5,1880 274.6,1784 251.6,1789.1 158.4,1855.2 202.6,1829.1 294.3,1895.1 318.7,1733.6 262.5,1825.6 254.5,1895.9 234.8,1915 251,1841.7 250.8,1871.1 244.6,1856.5 263,1810.9 297.6,1784.6 220.1,1853.3 255.4,1849.4 247.8,1788 253.6,1805.8 332.8,1763.6 253.7,1906.1 359.9,1757.8 265.5,1748.7 177.2,1892.5 255.3,1821.6 221,1794.5 321.2,1807.1 245.7,1737.3 248.8,1881.5 312.8,1759.6 287.2,1864.4 253,1873.6 294,1780.4 196.7,1851.5 239.4,1851.5 211.6,1879.1 271.4,1752 160.8,1841.4 336.3,1751.2 231.7,1891.2 199.2,1860.3 365.6,1803.9 386.3,1768.5 311.4,1697.4 270.8,1835.4 216.6,1886.3 175.8,1805.6 250.9,1795.5 216.3,1800.2 300.4,1797.5 191.7,1819.1 293.9,1801.2 277.4,1797.7 323.6,1801.9 232.6,1788.5 237.3,1899.2 272.4,1889.8 252.9,1860.1 215.3,1808.6 236.6,1774.1 278.5,1762.4 232.3,1785.8 256.5,1815.6 159.8,1882.5 247.4,1796.9 319.8,1788.5 320,1869.4 235.8,1783.1 217.6,1792.5 263.6,1859.5 233.5,1793.7 175.7,1795.2 289.5,1849.4 263.1,1821.1 284.9,1809.6 227.2,1918.8 319,1802.3 354.1,1771.5 368.9,1795.6 278.9,1753.3 208.8,1806.4 230,1841.3 235.2,1819.3 181.2,1768.9 294.8,1789.7 203.6,1815.9 275.5,1896.2 225.6,1805.1 278.5,1875.8 213.9,1917.2 310.8,1838.6 277.4,1848 219.4,1908.9 377.9,1762.7 241.4,1790.8 171.1,1787 268.3,1740.7 257.6,1741.9 227.8,1838.6 256.9,1743 211.9,1830.9 277.1,1835.1 367.2,1825.9 310.7,1793.3 290,1808.6 290.4,1726.3 339.3,1858.9 353.6,1787.4 201.2,1793.7 174,1882.8 232,1835.2 338.7,1845.3 351.5,1819.1 270.6,1825.1 306.4,1894.4 228.7,1865.3 274.6,1892.9 208.3,1822.7 289.7,1753.7 171.2,1806.2 241.3,1925.4 263.9,1807 244.2,1883.4 303.5,1864.1 232.8,1814.8 239,1818 290.8,1901 168.3,1933.4 214.1,1804.5 234.8,1826.5 204.5,1916.6 214.3,1795.2 224.9,1889 255.6,1780.7 275.1,1713.1 238.2,1806.9 276.8,1897.4 261.4,1920.5 204.6,1832.7 244.6,1869.6 177.3,1815.3 262,1771.3 319,1757.7 211,1894 194.8,1760.5 269.8,1801.6 201.4,1758.8 248.6,1853.1 287.2,1846.2 215.2,1925.2 321.4,1797.2 151.4,1871.9 213.5,1792.1 229.4,1870.5 256.3,1890.6 330.4,1843.6 252.3,1860.9 245.3,1808.4 281.7,1901.6 236.2,1816.9 288.9,1870.1 251,1848.4 229,1889.2 198.5,1860.5 358.7,1811.6 241.7,1824.6 205.6,1771.5 362.5,1740 268,1849 203.8,1825.5 290.1,1785 210.9,1813.7 351.3,1773.2 266,1761.3 327.7,1780.1 353.8,1814.3 253,1899.9 345.8,1832 197.6,1800.3 278.8,1864.2 265.1,1789 271.6,1815.6 245.4,1818.4 342.3,1846.7 232.9,1820 281,1807.5 219.2,1841.9 348.9,1801.3 303.8,1897.3 272.5,1824.8 249.7,1798.5 262.8,1920 232.7,1840.5 172.8,1825.4 165.7,1865 335.7,1788.1 340.2,1747.9 210.5,1809.1 269.6,1779.5 306.9,1714.9 154.8,1809.1 260.9,1788.1 398.7,1764.7 261.4,1789.4 226.5,1934.6 253,1794.8 248.4,1849.4 221,1830 329,1830.5 311.7,1784 226.2,1841 210.2,1830.2 311.2,1797.1 270.4,1806 163.9,1868.3 315.5,1803.2 231.9,1802.8 281.7,1820.2 243.3,1752.7 238.8,1776.2 188.3,1851.6 176.1,1787.3 377.9,1767.9 251.9,1897.4 343.8,1848.6 228.9,1823.7 266.2,1752.9 252.8,1749.5 313,1880.8 353.4,1795.5 263.5,1722.9 255.4,1793.4 153.6,1811.8 320.7,1861.8 217.9,1855.1 300.9,1840.2 161.3,1894.5 281.8,1884.3 389.1,1718.5 337.3,1824 249.1,1860.3 210.9,1905.7 197.4,1882.7 267.2,1840.9 251,1904.4 339.5,1764.7 254.9,1856.4 324.4,1795.5 284.7,1869.6 361.5,1832.7 271,1879.8 203.8,1865.8 227.5,1790.9 266.5,1758.8 181,1883.2 316.5,1832 362.7,1812.9 336.9,1844.8 157.6,1879.4 245,1883.1 314,1819.6 177,1880.9 316.3,1730.6 320.6,1794.3 189.9,1851.6 282.6,1909.1 265.2,1775.1 265.4,1715.1 319.7,1882.8 250.2,1927.9 295.8,1788.6 246.7,1723.2 224.1,1797 186.4,1890.4 300.4,1859.9 221.2,1789.8 253.2,1812.6 200,1795.6 213.7,1767.1 281.6,1887.8 299.3,1822.8 232.1,1789.8 194.1,1836.9 260.1,1785.5 254.5,1845.3 311,1885.7 183.6,1910.1 284.8,1867.9 295.7,1901 344,1824.1 311.2,1913.8 254.5,1881.3 322.6,1857.1 381.9,1895.2 267,1836 313,1885.2 218,1890.7 339.3,1804.5 359.8,1872.8 308.9,1830.2 317.9,1888.2 295.8,1869.8 274.7,1866 384.4,1843.1 353.1,1851.3 279,1894.3 287.9,1888 309.9,1873.7 321.4,1850.2 380,1781.4 231,1867.6 271.9,1806.6 217,1796.4 275,1881.5 305.4,1897.7 380,1829.9 347.9,1916.5 344.9,1818.7 288.2,1869.9 394.7,1840.9 361.2,1853.8 293.5,1925.6 283.3,1832.5 339.3,1854.2 272.1,1929.4 334.1,1860.7 310.6,1864 288.6,1870.2 306.8,1864.6 300.8,1902.1 298.2,1885.3 319.7,1824.5 297.6,1823.6 300.1,1849.8 309.9,1811.3 332.7,1840 275.8,1856.6 271.6,1914 299.9,1900.3 287.1,1835.1 235.8,1860 290.8,1839.5 284.7,1812.9 374.3,1868.4 346.5,1794.2 223.5,1884.3 214.4,1867.7 386.3,1842.2 295.9,1838.4 223.7,1875.6 283,1835.4 367.5,1922.5 326.9,1853.2 399.2,1832.4 380.1,1860.9 296,1865.8 353.5,1859.8 249.4,1896.4 335.1,1798.3 330.1,1857.5 322.7,1871.5 332.4,1864.4 272.5,1883.3 284.8,1908.5 315.8,1830.3 299.8,1885.7 349.3,1879.8 316.8,1929 251.8,1849.1 329.6,1835.3 293.3,1843.6 253.7,1850.6 350.2,1928.1 275.8,1806.4 293.1,1843.7 342.1,1879.6 280.1,1837.5 274.8,1855.4 287.8,1851.4 320.1,1883.2 307.8,1861.3 360,1876.3 274.7,1845.8 364.8,1872.5 337.2,1852.3 342.9,1865.2 310.9,1842.8 250.8,1834.9 298.6,1856.8 340.9,1826 360.7,1861.4 309.2,1821.6 330.6,1820 348.8,1911.4 322.1,1877 260.2,1860.4 266.3,1844.6 318.6,1848.9 289.2,1845 258.8,1792.8 318.2,1851.3 281.6,1840.5 332.6,1859.2 394,1859.3 222.1,1862.8 299.9,1804.8 290.4,1876.5 333.3,1844.4 285,1819.5 318.6,1908.5 266.4,1893.5 357.9,1900.4 356.9,1847.6 289.1,1920.8 212.7,1876.3 296,1866.5 305.7,1878.3 264.5,1926.2 373.5,1806.8 239.8,1893.3 399.5,1889.5 322.6,1828.9 344.4,1885.2 266.8,1885.6 255.6,1899.2 329.9,1881.3 398.6,1860.1 301.7,1826.5 374.3,1871 329.6,1861.1 276.9,1934.4 334.7,1860.5 352.2,1839.4 308.6,1832.2 343.6,1927.9 331.5,1901.2 376.3,1927.1 297.9,1873.9 298,1825.4 347.7,1923.7 241.6,1855 311,1892.1 293,1832.6 293.7,1891 356.1,1933.5 324.6,1890.5 311.4,1879.6 354,1889 257.2,1900.2 346.5,1852.8 285.2,1856.1 332.2,1883.1 386.2,1850.2 317.5,1861.4 276.1,1824 247.5,1807.6 283.5,1803.8 279.9,1883.9 265.6,1846.5 262.6,1874.9 282.2,1852.1 278.3,1847.3 301.6,1870.8 294.2,1872.8 373,1838.9 294.7,1882.8 296.1,1890.6 320.4,1905.7 320.3,1911.9 280,1842.3 271.1,1831.1 289.6,1875.9 281.8,1892 357.3,1818.8 264.5,1878.2 289.7,1891.1 312.4,1882.6 330.7,1844 374.3,1865.5 295,1815.9 299.7,1837.6 372.6,1860.6 367.8,1928.9 305,1900.1 262.8,1815.5 332.1,1824.2 249.8,1843.5 370.5,1841.8 344.5,1862 256.2,1867 351,1901.2 269.6,1842.2 292,1850.6 363.9,1906.3 256,1910.8 223.1,1855.3 256.8,1891.5 323.7,1812.7 316.1,1864.3 273.5,1905.7 220.9,1885.1 290.3,1893.7 262.7,1893.9 339.7,1844.9 223.9,1894.7 339.7,1906.3 317.3,1848.7 327.2,1859.6 259,1828.3 341.2,1882.8 253,1806.6 341.1,1863.1 309.7,1889.6 286.7,1845.5 308.5,1830.3 320.3,1910.8 315.6,1858.8 349.4,1847.8 320.2,1878.7 301.7,1905.4 278.7,1833.1 263.4,1835 334.8,1857.6 362.9,1803.6 361.2,1843.2 362.5,1831.6 373.1,1840.1 283.2,1856.2 353.7,1867.4 265,1841.6 328.4,1880.3 275.3,1866.5 335.5,1907.8 335.1,1914.4 302.8,1803.6 286.4,1936.8 363.2,1860 378.1,1834.8 299.6,1880 231.4,1874.8 315.4,1860.2 356.9,1937.2 302.7,1871.9 296,1823.5 349.8,1840.3 370.9,1867.5 275.5,1868.8 266.6,1832.4 297.7,1897 251.9,1857.9 334.3,1828.3 253.6,1909 372.9,1874.4 295.1,1840.3 299.6,1795.4 350.9,1904.4 340.9,1833.8 328.9,1803.8 340.7,1844.2 285.1,1865.3 253,1910.2 289.5,1819.1 269.9,1917.3 269.5,1871.7 362,1883.4 372.2,1854.4 370.5,1883.9 329.7,1822.8 238.5,1931.4 265.4,1871.1 275.7,1918.4 328.4,1846.2 329.5,1846.6 306.8,1841.7 240.7,1907.1 340.3,1895.5 311.5,1886.5 234.4,1863.7 328.2,1869.3 275,1844 397.4,1887.6 250.9,1800.9 339.4,1858.9 295,1852.8 246.4,1901.1 247.7,1835.7 295.1,1888.6 361.9,1889.4 328.5,1909.5 379.2,1876.6 343,1842.7 367.2,1867.9 317.2,1827.9 337.7,1900.8 340.8,1848 295.2,1863 318.4,1862.7 279.2,1918.9 299.8,1869.2 270.5,1860.2 297,1923 292.8,1807.3 354.2,1869.7 279.5,1914.1 273.9,1828.1 320.7,1907.6 288,1856.7 287.1,1926.1 315.3,1829.4 324,1856.2 313.8,1871.8 358,1898 386.4,1909 358.7,1818.9 298.3,1877.8 254.4,1827.7 259,1904.3 313,1868.5 244,1908.1 322.6,1854.1 285.2,1937.8 304.7,1841.9 332.2,1914.3 315.9,1855 218.5,1865.2 234.4,1872.5 370,1871.3 298.9,1810.1 368.8,1906.9 299.1,1895 320.1,1830.9 279.9,1846.9 328.7,1822.6 344.2,1857.2 316.9,1885.1 346.8,1871.6 317.8,1852.9 217.3,1842.7 334.5,1860.3 345.8,1896.6 272.4,1876.4 349.3,1812.1 255,1896.1 298.5,1820.3 325.9,1918.3 199.6,1901.3 330.8,1922.4 307.8,1835.1 345.5,1884.3 285.2,1875.1 303.7,1822.9 306.1,1853.5 379.9,1751.9 433.7,1696.8 413.6,1721.8 462.5,1686.9 470.4,1678.5 476.4,1623.4 420.3,1690.1 423.7,1677.6 384,1740.2 414,1748.1 449.9,1683.3 476.2,1671.4 484.8,1660.1 392,1746.7 454.5,1713.9 413.1,1753.1 382.6,1738 484.7,1615.6 406.7,1696 372.2,1751.4 367.2,1744.4 484.1,1649.6 427.2,1727.2 374,1777.6 376.3,1759.4 390.3,1774.1 363.6,1773.8 369.7,1790 364,1761.4 470.9,1672.5 453,1670 457.4,1708.5 395.4,1733.8 357.9,1763.6 429.4,1702.5 401.3,1730.9 481.2,1641.6 383.1,1755.8 425.4,1713.2 484.6,1665.4 424.5,1721.5 410.2,1710.2 438,1680.9 386.6,1742.3 357.6,1750.4 389.6,1733.7 412.1,1732.4 413.5,1688.7 412.9,1698.9 423.2,1745 439.9,1674.6 373.4,1763.4 457.9,1694.4 387.3,1770.8 364.9,1758.5 369.5,1766.7 412.1,1711.1 409.2,1754.4 365.9,1791.8 459.5,1656.9 259,1701.6 272.8,1707.2 272.6,1711.9 327.8,1590.7 286.5,1658.3 324.6,1582.4 255.2,1666.3 201.4,1715.3 251,1689.8 218.3,1754.2 191.3,1750.8 285.9,1688.6 235.7,1728.3 310.1,1664.7 413.3,1676.6 338.4,1730.9 341.9,1751 341.1,1741.2 296.1,1783.7 319.4,1766.7 437,1656.9 328.4,1746.1 400.5,1683.6 309.6,1800.5 320.1,1784.6 289.2,1798.3 326.6,1745.9 390,1696.2 305.1,1774.8 305.6,1765.6 261.3,1844.9 383.6,1712.8 374.1,1712.2 334.9,1741.2 388.4,1685.2 370.4,1722.3 322.8,1768 241.2,1852.5 315.3,1759.5 268.3,1800.2 333.8,1721.9 380.5,1706 298.8,1768.2 205.8,1824.4 383.9,1686 361.2,1699.5 367.6,1694.3 267.6,1837.5 301.4,1773.1 367.8,1701.1 379.7,1692.2 366.4,1696.8 413.1,1655.8 292,1794.2 283.5,1784.3 367.5,1706.9 278.5,1756.6 284.8,1769.8 340.6,1755.7 315.3,1756.2 329.1,1758.7 294.7,1769.2 280.7,1823.2 305.4,1789.5 317.6,1780 309.4,1775 348.4,1718.8 423.8,1651.7 254.7,1820.3 331.5,1744.2 340,1728.5 255.3,1801.5 295.6,1775.9 298.9,1770.5 323.9,1771.9 308,1773.8 325.2,1798.6 373.1,1713.8 234.6,1818.1 353.6,1721.7 373.8,1714.5 369.2,1737.5 239.1,1821 240.6,1833.4 305.4,1777.9 286.4,1796.2 259.9,1786.3 394.8,1689.1 276,1809.1 379.4,1718.3 397.6,1679 411.9,1680.7 438.9,1644.9 388.6,1696.1 337.8,1740.9 232.5,1814.2 294.2,1742.4 298.3,1769.7 412.8,1648.5 369.9,1709.6 317.8,1738.3 230.7,1800.8 280.9,1835.9 321.7,1784.8 354.1,1750.8 377.8,1695.1 346.5,1722.2 332.2,1746.7 376.5,1705 281,1827.3 290.7,1785.8 284.3,1782.8 333.7,1742.3 344.5,1712.9 311.6,1778 225.2,1840.7 347.2,1765 253.9,1809.8 354,1727.5 427.7,1645 281.1,1821.4 427.9,1666.6 378.4,1733 399.8,1674.9 391.6,1702.2 297,1804.5 306.9,1801.8 284.4,1800.3 273,1816.7 390.4,1690.9 259,1796.7 301,1781.3 352.5,1754.7 219.2,1822.1 457.3,1629.2 307.3,1753.9 312.3,1769.1 356.8,1747.7 263.5,1787.3 312.2,1799 304.7,1740.5 346.8,1761.3 352,1718.7 353.7,1793.5 297.2,1775.4 261.1,1790.2 290,1765.9 329.9,1748 307.9,1756.6 435.5,1644.2 291.9,1769.5 287.1,1822 339.4,1778.8 320.3,1744.6 403,1683.4 282.7,1797.5 359.4,1731 350.8,1744.8 332.2,1749.3 325.8,1748.2 312.1,1726.3 284.7,1861.7 271.3,1774.7 343.9,1756.2 403.7,1672.3 374.8,1710.6 326.4,1731.4 342.9,1747.9 333.4,1734.6 346.1,1722.3 368.4,1703.7 238.6,1842.5 293.8,1764.4 444.3,1633.3 361.5,1702.6 321.7,1779.1 279.7,1776.7 332.5,1758.5 240.5,1820.6 272.2,1783 363.4,1706.5 372.2,1707.9 344.1,1742.2 342.4,1754.9 308.6,1770 266.4,1833.5 262.3,1794.4 268.1,1760.3 328.8,1772.2 266.3,1813.1 275.4,1815.1 388,1674.7 311.7,1769.4 375.4,1704.9 333.6,1767.3 267.5,1787.2 309.8,1777.1 249.8,1825.1 373.5,1707.7 376.9,1717.2 367.7,1712.8 343.3,1746.2 305.2,1780.7 282,1798.3 365.8,1711.9 312.9,1761.1 300.9,1779.3 302.8,1777 326.6,1753.2 282.6,1777.6 311.3,1740.1 364.3,1706.2 367.1,1692 307.8,1806.1 334.6,1724.8 306.5,1758.8 273.7,1819.6 230.2,1830.1 355,1722.5 433.9,1652.7 352.5,1713.5 409.5,1682.4 431.3,1639.1 414,1669.9 267.4,1787.1 337,1729.2 285.5,1754.5 245.2,1863.1 379.8,1702.6 275.3,1764.3 403.3,1688.2 297.5,1759.7 320.3,1749.2 289.8,1768.4 303.6,1737.8 388.9,1716.8 330.1,1730.6 331.8,1729 326.2,1773.2 356.1,1717.1 252.9,1792.1 344.8,1748.7 371.5,1744.3 300,1788.9 392.2,1677.1 324.1,1737 236.2,1815.8 296.4,1753.7 350.1,1713.4 325.1,1743.1 224.2,1842.7 352.3,1725.7 308.9,1810.7 311.1,1736 418.4,1661 417.5,1660.9 308.4,1739.6 261.6,1868.8 351,1741.7 429.7,1631.4 399.7,1695.5 449.4,1617.4 251.1,1839.4 405.3,1685.8 299.9,1769.2 312.3,1783.9 356.3,1703.3 324.8,1736.7 250.9,1802.5 300.6,1771.9 301.4,1817.3 465.3,1626.2 259.1,1784.7 396.4,1667.6 292.7,1784.2 400.3,1668.2 361.9,1698 408.5,1666.6 353,1729.6 374.3,1698.1 308.1,1759.4 258.6,1801.7 420,1662.6 438.6,1647.8 360.7,1719.3 445.7,1625.4 273.7,1806.3 320,1748.5 276.1,1767.6 360.4,1715.4 264.1,1815.6 347.5,1741.2 371.6,1714.5 411.6,1662.8 332.5,1731.2 453.1,1627.4 287.9,1821.2 358.7,1720.6 431.3,1649 235.1,1808.7 303.5,1743.8 336.8,1737.9 397.6,1673.3 359.7,1687.2 269.1,1810.6 306.4,1790 329.3,1784.6 379.5,1689.5 412,1658.1 324.4,1744.6 258.8,1793.7 269.4,1839.4 366.1,1716.6 391,1676.2 307.5,1781.8 259.4,1813.2 268.5,1810.6 320.4,1728.1 181.6,1810.7 289.3,1795.7 314.1,1749.4 341.3,1733.9 272.8,1805.6 372.6,1700.6 390.3,1704.3 245.9,1845.5 306.9,1726.2 362,1712.4 306.6,1779.7 338.5,1742.8 324.1,1754.6 304.2,1755.5 392.7,1683.3 259.2,1813.5 371.7,1714.8 420,1657.7 368.4,1706.3 276.9,1803.6 343.2,1725.4 370.3,1719.5 367.5,1704.8 415.5,1676.9 359.7,1710.9 344.6,1738.4 311.3,1762 378.4,1711.5 411.4,1672.5 363.7,1702.5 309,1812.7 353.2,1748.2 442.3,1641.4 323.4,1751.8 261.3,1782.5 392.4,1694.5 294.9,1773.1 337,1747.4 418.4,1642.3 393.1,1680.9 290.6,1818.5 386.7,1704.4 396.3,1684.8 416.6,1669.7 325.7,1738.9 355.4,1754.3 433.8,1641.6 223.8,1826.8 270.4,1794.3 287.3,1804.1 381.4,1706.9 368.6,1695.3 343.3,1744.5 394.1,1694.1 312.2,1792.8 288.4,1791.1 321.3,1766.3 201.9,1830.4 235.6,1803.1 358.8,1752 320.3,1762.6 286.1,1787.9 397.2,1695.7 360.1,1717.5 330.9,1743 338.6,1753.7 397,1692.2 452.5,1608.7 257.7,1771.8 329.1,1765.5 310.4,1788.7 340.7,1716.2 264.5,1815.5 332.5,1769.8 422.6,1663.1 318.7,1765.5 292.3,1829.6 352.6,1716.3 371.8,1708.7 298.1,1785.3 400.7,1672.7 331.5,1737.7 405.4,1679.3 374.9,1709.9 333.1,1752.1 291.5,1750.9 382.1,1714.1 285.5,1802.4 255.7,1829.6 426.1,1653 275.4,1834.7 297.4,1769.8 303.2,1772.9 320.4,1747.5 273.8,1841.6 292,1822.9 362.9,1711.1 362.6,1752.5 370.8,1699 363.1,1713.3 320.9,1762.6 242.9,1811.2 414.9,1662.4 467.3,1602.5 290,1772.8 453.5,1626.5 349.5,1747.1 352.4,1712.8 341.2,1708.8 268.8,1781.5 293.7,1752.2 298.9,1773 348.7,1738.6 313.9,1782 400.3,1666 339.6,1775.8 397,1670.9 257.1,1817.9 333.9,1745.7 332,1729.6 290.8,1803.7 347,1717.3 318.7,1755.2 417.3,1652.3 396.7,1674.4 337.3,1739.2 295.5,1770.3 327.4,1743.3 405.9,1674.9 338.8,1719.9 314.8,1756 284.1,1755.3 388.8,1695.9 289.6,1781.8 341.2,1749.6 345.3,1725.5 284.4,1789.1 306.7,1764.3 340.8,1727.4 407.5,1663.3 332.9,1768.5 318.9,1763.2 323.3,1750.6 307,1774.9 376.9,1699.3 289.7,1840.3 333.1,1769.4 326.4,1749.9 368.8,1698.2 368.3,1733.4 270.1,1769.5 304.1,1772 266.6,1826.4 326.5,1766.5 304.2,1746 241.2,1832 330.7,1733.3 456.4,1620.9 335.1,1725.6 300.3,1779.8 285,1776.7 398.7,1680.2 313.2,1743.4 280,1779.8 221.8,1820.7 385.3,1703.8 340.4,1732.1 284.5,1800.7 382.2,1684.6 321.7,1761.8 288.3,1776.1 394.9,1686.8 240.6,1819.7 357.6,1692.1 371.3,1714.7 239.6,1781.6 275.8,1812.7 297.3,1780.8 345.2,1763.8 303,1757.4 371.8,1731.6 309.9,1795.5 244.5,1846.6 280.5,1841.7 272.9,1788.7 265.4,1794.4 345.3,1717.6 318.6,1762.3 211.8,1835 301.5,1829.9 308.5,1796.3 464.8,1624.5 355.8,1714.5 292.2,1761.7 335.2,1718.9 374.6,1690.6 272.4,1830.3 420.9,1654 276.9,1807.8 367,1706.3 414.2,1650.9 342.5,1757.4 359,1709.7 268.4,1808.8 402.5,1675.2 376,1695.9 444.1,1637.5 376.8,1688.7 304.5,1797.9 281.3,1802.8 273.1,1798.8 280.5,1792 395.7,1677.5 239,1850.9 268,1851.9 284.7,1821.6 230.3,1842.3 257.9,1810.8 383.4,1711.2 302.3,1791 337,1757.1 316.2,1786.7 348.7,1732.4 385.8,1699.4 344.6,1721.5 325.3,1741.2 280.7,1801 232,1812.3 327.9,1734.7 352.1,1730.7 367.4,1702.6 328.1,1741.2 298.7,1823 261.4,1786.4 357.6,1728.4 300.6,1793 276.3,1825.7 258.8,1862.6 283.3,1822.9 365.7,1723 340.1,1717.9 403.5,1667.9 354.3,1733 319.4,1720 390,1697.5 395.7,1691.1 327,1783.2 305.3,1764.2 287.8,1816.6 384.5,1678.2 324,1737.9 275.9,1798.5 262.1,1861.6 342.2,1728.3 382.7,1699.4 242.2,1859 325.6,1732.9 269.1,1794.1 313.7,1730 448,1650.5 256,1856 344.4,1730.1 416.2,1656.9 313.4,1768.4 273.9,1859.1 247.3,1797.5 327.2,1737.1 233,1796.5 398.3,1686.9 246.8,1855.9 336.2,1731.4 304.7,1752.7 354.5,1731.6 347.3,1755.2 280.1,1821.8 289.1,1796.5 394.2,1684.6 339,1764.5 374,1694.6 335.7,1746.3 387.3,1697.2 349.2,1738.4 291,1782.1 238.9,1824.4 378.5,1706.1 293.5,1796.6 388.6,1685.7 330.1,1743.7 326.8,1753.7 251.2,1841.8 357.2,1722.6 312,1773.1 226.3,1823 279.2,1800.1 239,1820 407.7,1677.8 310.4,1811.3 336,1736.5 397.3,1704.4 428.8,1645.4 284.9,1794.4 250.1,1818.6 370,1706.4 365.3,1718.1 464.1,1621.5 303.7,1784.3 413.6,1664.8 390.4,1701.9 334.5,1751.8 330.6,1754.9 308.1,1779.1 376.8,1723.2 278.5,1803.4 257.7,1815.9 304.8,1773.2 389.2,1696.8 437.7,1653.1 388.7,1707.2 334.9,1714.8 342.9,1748.3 228.4,1851.1 266.7,1824.8 320.3,1773.8 301.2,1744.1 284,1801.2 413.3,1659.2 406.2,1691.5 274.9,1797.5 379.9,1694.2 325.7,1740 465.8,1611.9 396.7,1695.8 376.6,1705.4 364.9,1727.2 384.4,1694.6 340,1760.1 428.5,1641.4 330,1765.7 232.5,1844.1 343.8,1777.8 365.7,1707.3 254.1,1852.8 209.5,1828 309.2,1768.6 396.5,1680.2 360.1,1706.3 353.2,1709.2 294.8,1772.9 265.8,1790.9 314.9,1741.4 465.2,1623.6 234.7,1818.6 293.1,1752.6 349.6,1719.2 351.2,1743 326.9,1726.1 352.8,1734.5 214.2,1791.2 314.1,1759.9 303.1,1764.3 270.6,1811.5 372,1717 360.2,1722.9 236.9,1786.7 329,1753.4 342.7,1725.8 333.3,1740.5 349.3,1717.3 317.9,1749.2 316,1782.8 255.2,1845.3 269.3,1802.2 312.2,1739.3 317.5,1745 246.1,1829.4 304.3,1763 357.9,1735.6 394.4,1679.5 346.8,1717.3 322.6,1764.8 366.8,1709.6 198.5,1818.1 331.8,1739.4 276.9,1807.8 428.3,1659.1 224.2,1793.1 359.1,1719 431.2,1643.1 289.8,1780.7 267.7,1781.4 322,1763.8 303,1776.7 244.9,1797.4 272,1789.3 378.1,1728.9 344.9,1713.1 241.5,1790.8 251.2,1812.9 336.5,1758.6 344.2,1737.4 318.3,1747.7 332.5,1754 432.4,1643.3 388.9,1692.5 371.2,1725.4 274.2,1776.2 420.3,1658.3 300.3,1750.4 322,1726.4 367.3,1697.5 239.7,1862.8 313.1,1816.8 394.5,1703.4 304,1764.7 289.7,1812.1 368.7,1713.2 392.6,1703.2 339.9,1743.2 363.9,1713 270.3,1821.8 343.1,1757.3 289.1,1774.1 343.7,1743.7 283.6,1772.9 320.2,1796.9 317.6,1744.9 307.9,1768 373.6,1716.1 301.7,1798.4 353.4,1720 290.3,1788.6 341.1,1719.7 289.8,1726.4 353.7,1697.5 459.2,1618.4 329.7,1756.4 346.8,1699.8 258.9,1799.1 290.2,1775.4 324.8,1719.1 390.4,1685 260.9,1820.5 317.8,1771.2 397,1681.5 347.2,1722.4 322.3,1781.2 428.3,1645.4 298.2,1755.5 263.7,1806.6 404.1,1668.9 412.8,1669 351,1723.5 440.6,1652.8 314.5,1783.8 330,1741.7 280.9,1789.1 265.7,1795 346.7,1738.9 307,1771 429.1,1654.4 279.3,1788.6 336.5,1744.5 335.2,1745.6 281.5,1772 315,1810.2 331.9,1742 307.9,1768.9 261.4,1820.9 352.3,1708.7 339.5,1760.9 282.4,1785 412.3,1672.6 330.9,1770.1 371,1706.1 379.1,1711.7 309.5,1782.9 335.4,1730.5 321.8,1774 267.3,1798.3 309.4,1786 418.8,1652.9 329.4,1750.4 413.7,1657 371.7,1714.9 248.1,1846 313.4,1762.1 358.2,1704.3 307.8,1729.4 356.5,1741.1 338.8,1734.1 264.5,1778.5 376.5,1700.7 432.4,1644.6 302.4,1782.8 284.9,1747.4 333.6,1739.2 377.4,1708 320.7,1780.5 385.9,1696.3 307.7,1768.5 296.6,1797.4 351,1727.9 366.7,1689.9 282.1,1799.2 319.6,1735.9 306.3,1819.7 281.9,1803.5 421.2,1666.9 391,1701.9 369.1,1701.1 336.9,1731.2 431.9,1654.3 346.6,1736.2 331.4,1733.6 266.9,1790.5 320.6,1773.4 324.2,1791.3 240.6,1844.2 365.5,1708.7 291.2,1782.7 317.1,1730.9 361.4,1721.7 305.2,1790.8 256.7,1787 285.7,1799.2 253.2,1839.4 328.7,1762.6 238.5,1842.3 275.1,1792.1 292.2,1809.6 270.2,1786.4 312.1,1788.9 309.4,1766.3 332.7,1752.4 432.8,1650.6 271.9,1798.4 314.6,1789 261.5,1789.1 416.5,1665.7 235.6,1811.8 371.2,1724.2 330.5,1740.5 245.9,1860 369.8,1691.6 276.3,1842.1 236,1795.9 382.5,1677 383.2,1677 372.1,1711.9 330.1,1749.1 358.5,1712.8 259.1,1792.4 429.5,1649.3 360.8,1733.2 395.5,1681.9 243,1795.3 316.4,1793 344.1,1742.5 422.9,1660.6 373.4,1695.5 382.2,1685.8 320.3,1762.6 342.8,1719.1 363.1,1731 406.7,1668.8 270,1859.4 338.8,1754.8 315.5,1757.9 308.8,1790.6 434.4,1655 258.1,1776.7 362,1730.1 337.3,1749.7 342.4,1703.3 271.5,1791.4 251.1,1823.3 447.7,1640.9 384.7,1693.2 308.9,1757.4 258.2,1776.2 323.5,1743.1 320.3,1758.1 289.2,1768.5 362,1706.7 343.2,1743.8 316.8,1767.2 341.3,1743.5 287,1790.3 363.2,1728.4 330.4,1725.8 349,1705.2 324.8,1809.4 321.4,1773.3 351.8,1708.7 302.3,1736.5 362.2,1747.6 239.1,1824.5 390.7,1690 341.9,1802 386.6,1684.6 316,1726.5 345.4,1747 387.2,1683.6 387,1726.6 321.5,1743.3 352.6,1719.8 441.2,1633.8 330.4,1746.4 304.4,1764.9 361.2,1706.9 256.2,1825 338.2,1719.2 300.4,1747.7 344.8,1729 380,1692.5 349.2,1746.2 299,1810 390.7,1707.5 325.9,1807 233.2,1815.6 251.2,1815.5 320.1,1775.9 308.8,1790.6 336.7,1777.9 289.9,1780.6 343.3,1722.6 373,1720.8 280.5,1819.4 387.5,1681.8 273.7,1805.4 361.2,1706.5 379.1,1708.6 324.3,1759.4 294.6,1780.6 250.1,1799.1 433.1,1636.3 243.3,1847.3 300.7,1744.7 308.2,1745.2 392.7,1693.1 374.3,1716.6 317.8,1768.7 276,1783.1 439.5,1627.8 315.1,1767 275.5,1794.3 415.3,1657.2 315.8,1775.6 268.2,1825.8 338.5,1704.8 335.7,1809.9 306.9,1777.7 341.3,1733.7 232.2,1842 327.6,1777.8 394.2,1690.5 299.3,1776.2 254.1,1815.1 282.6,1813 381.6,1725 300.7,1795.5 357.5,1739.5 319.7,1768 287,1816.8 379.4,1707.8 430.2,1660.8 279.7,1836.7 333.4,1729.4 336.3,1724.7 342.5,1740.3 320.6,1733 420.9,1661.4 470.8,1603.9 335.5,1727.7 309.1,1738.6 373.9,1691.8 275.8,1773.6 316.7,1813.9 368.1,1720.1 396.2,1696.4 346.7,1734.6 363.2,1719.1 272.4,1802.3 329.7,1765.8 370.9,1710.4 262.6,1808.9 348.8,1717.7 310,1738.6 345,1712.4 321.5,1775.1 384.6,1686.6 304.2,1802.5 405.5,1656.8 306.9,1778.7 367.4,1729.4 238.3,1790.5 269.5,1772.7 349.7,1731.3 335.2,1749.5 334.2,1752 512,1561.2 333.2,1755.9 433.2,1651.8 303.6,1728.3 284.6,1767.2 400.2,1675 354.9,1712.4 424.2,1649.1 266.8,1817.7 222.3,1804.6 394.6,1681.8 413.2,1679.5 402.2,1680.9 327.7,1748.5 399,1677.8 346.3,1752.2 310.7,1784.4 338.3,1755.1 219.1,1828.6 382.2,1691.8 380.3,1693.8 282.5,1784 248.9,1833.2 359.6,1723.6 406.8,1679.5 313.3,1754.2 287.2,1763.8 421.5,1661.2 424,1650.8 248.6,1812.7 284.2,1771.2 201.9,1827 330.1,1742.2 339.5,1718.8 399.1,1674.7 230.1,1850.7 358.5,1743.5 342.1,1732.3 281.7,1783.5 331.5,1754.1 366.1,1731.7 313,1754.5 427,1653.6 435.7,1649.9 349.6,1713.3 304.9,1746.3 264.2,1825.3 295,1757 280.8,1752 311.1,1750.1 349.6,1736.9 327,1757.9 215.2,1825.4 254.6,1854.7 349.5,1720.8 377.5,1705.9 258.4,1789.2 248.4,1851.3 312.3,1817.1 321.5,1743.7 432.7,1635 372.3,1702 351.5,1730.5 304.8,1796.2 322.4,1753.3 269,1815.2 377.4,1699.7 325.2,1732.9 289.2,1821.3 332.4,1744 434.3,1659.6 277.7,1779.4 256.8,1804.8 316.3,1773.4 333.1,1760.8 358.8,1740.3 337.7,1767.5 381.1,1709.3 316.8,1734.4 370.6,1746.5 432,1650.2 247.5,1808.9 273.6,1812.5 328.8,1731.2 289.7,1824.2 297,1791.2 472.7,1610.4 268.9,1803.3 291.7,1812.5 363.6,1723.5 326.7,1739.6 228.4,1848.9 350.7,1735.3 405.1,1663 331.7,1772 353,1718.3 326.4,1759.9 278.2,1811.7 259.5,1784.7 367.5,1714.4 342,1714 235.3,1853.4 377.8,1693 350.4,1734.8 355.6,1711.2 378,1686.3 236.1,1856.4 280.9,1751.6 277.7,1783.3 276.4,1794.9 326.2,1766.1 358.7,1730.2 313.8,1764.6 442.3,1629.6 249.2,1800.4 484.5,1582.1 341,1739.3 426.7,1631.7 348.7,1716.9 290.4,1806.9 324.7,1766.8 312.7,1797.6 376.1,1713.9 338.9,1728.9 262.3,1823.3 451.3,1602.2 385.8,1688.5 237.1,1850.8 266.2,1788.6 304.1,1774.5 342.7,1752.2 331.8,1736.3 312.5,1784.8 422.8,1648.5 257.6,1855.7 359.9,1724.7 323.2,1729.5 400,1674.9 308,1778.7 306.4,1742.6 440.2,1635.1 363.2,1756.1 325.8,1753.9 334.4,1780.9 287.7,1757.9 223.1,1805.2 247,1829 289.9,1774.7 336,1762 359.5,1688.8 298.8,1770.7 303.7,1780 332.4,1758.1 295.4,1791.3 315.6,1747.9 391.5,1688 271.5,1796.2 243.4,1818.8 295.8,1788.6 321.2,1749.4 251.4,1800.2 361.8,1709.3 445.5,1635 391.2,1699.3 409.7,1672.4 412.4,1653.6 372.1,1696.2 354.9,1758.1 339.6,1737.4 249.7,1848.8 255,1826.9 271.9,1771.2 258.9,1809.4 272.8,1783.1 357,1728.1 323.5,1759.1 292.5,1750.9 441.5,1636.4 298.6,1779.3 319.5,1758.5 389.3,1697.9 318.9,1771.5 400.7,1692.6 260.3,1772.7 414.4,1670.7 363.9,1742.1 219.9,1841.3 322.9,1764.8 357.4,1717.2 285.5,1755.6 360.8,1735.4 292.4,1767 360.3,1718.4 312.2,1759.9 390.8,1684.3 353.5,1711.9 380.4,1680.5 385.8,1698 305.1,1771.9 329.4,1775.1 348.8,1721.6 404.5,1683.6 359.4,1713.3 222.7,1783.7 401.9,1675.5 357.9,1727.4 406.8,1672.3 297.4,1817.6 306.7,1778.8 287.1,1775.9 237.3,1790.7 407.9,1658.8 322.6,1763.3 267,1776.2 248.1,1820.1 299.9,1794.3 380.9,1710.8 408.3,1680 364,1706.2 314.9,1772.5 348.4,1747 220.7,1843.9 238.8,1820 313.1,1752.4 343.7,1730.2 312.8,1750.2 361.7,1758.5 292.8,1779.3 315.4,1773.8 330.2,1740.3 313.2,1780.3 331.4,1811.9 317,1770.9 431.4,1665.7 275.8,1811.5 454.3,1628.9 287.6,1809.9 388.4,1707.5 395.8,1677.7 406.7,1666 313.3,1773.1 288,1815.2 341.1,1731.3 465.3,1615 316.4,1772.2 360.6,1730.5 360,1722.9 424.9,1635.8 374.9,1708.8 432.9,1653.9 284.7,1772.2 258.2,1853 326.1,1749.3 280.8,1799.5 367.3,1696.3 348.4,1769.5 402.1,1705.5 274.9,1809.7 280.2,1763.1 292.5,1760.5 393.9,1680.4 314.5,1761 321.4,1750 421.6,1664.5 289.3,1776.3 304.9,1775.7 424.5,1657.7 400.9,1683.2 302.1,1757.6 330.4,1768.7 320.2,1732.8 346.6,1738.4 314.7,1741.5 411.9,1663.4 343.4,1743.6 240.3,1830.5 326.9,1786 289.2,1765.3 299,1746 344.6,1713.8 285,1824 410.5,1659.7 312.8,1803.5 284.8,1783.4 469.8,1594.8 334.1,1726.3 271.7,1811.9 350,1718.5 348.4,1710.3 261.4,1826.7 374.6,1714.9 298.3,1762.8 365,1706.3 373.2,1717.6 356.2,1726.6 348.2,1725.3 289.4,1791.8 315.9,1798.1 281.2,1824.7 384.4,1699.1 342.6,1708.7 428.4,1649 342.4,1722.2 291.4,1776.7 303.2,1810.2 270.5,1812.5 259,1796.1 496.6,1589.6 228.4,1790 258.4,1876 379.4,1699 342.5,1747.9 314.7,1766.9 386.2,1709.2 292.8,1770.6 345.9,1725.1 416.9,1646.1 302.2,1739.3 321.1,1765.9 348.9,1714.6 377.9,1711.9 366.2,1695.6 306,1763.5 329.5,1710.8 335.1,1749.5 380.1,1686.7 308.1,1767.3 322.9,1778 276.3,1819.5 314.7,1793.6 295.9,1799.6 348.7,1733.4 393.8,1674.2 295.6,1772.8 445.6,1638.8 308.8,1756.9 400.1,1678.7 358.8,1709.7 312.1,1801.2 324.6,1756.3 225.7,1830 367.4,1733.7 434.9,1640.2 351.1,1737.8 444.1,1655.4 342.2,1762.1 309.5,1755.2 325.3,1732.4 306.8,1772.5 349.8,1729.5 436,1639.5 342.1,1748.4 304.1,1781 331.8,1748.8 375.8,1686.6 307.5,1744.5 241.5,1867.3 263.6,1789.4 432.4,1669.3 317.9,1748.5 402.9,1677.5 336.1,1758.8 308.4,1810.9 348.8,1743.4 391.9,1694.1 295.5,1746.5 237.3,1811.4 311.5,1771.6 279.9,1780.6 399.7,1688.6 268.4,1798.8 264.8,1809.9 252.1,1842.8 337.1,1762.4 290.5,1770.1 301.6,1766.2 333.9,1710.5 308.4,1752.6 471.1,1610.7 429,1652.5 303.8,1801.4 434.7,1638.4 337.1,1746.7 336.2,1707 263.1,1796.8 370.5,1727.1 382.2,1674.8 360.2,1702.5 350.6,1722.2 385.3,1682.1 360.9,1697.5 248.6,1838.2 318.8,1750.4 366.7,1729.4 295.8,1785.7 454.7,1624.1 360.9,1710.9 337.1,1752.2 341.3,1727.1 359.8,1714.9 317.2,1773.1 289.6,1779.7 261.9,1871.8 381.9,1681.4 344.5,1730.4 283.6,1845.1 398.7,1694.4 341.3,1745 319.5,1788 270.5,1785.8 443.2,1633.1 385.3,1673.8 362.4,1711.3 366.4,1714.9 338.5,1754.4 320.9,1735.4 433.4,1655.9 310.4,1777.5 299.7,1782.4 387.5,1680 229.8,1849.8 295,1763.6 296.6,1789 341.5,1759.2 252,1823.1 297,1755.8 307.5,1771.1 340.7,1734.4 381.9,1706.7 413.5,1667.8 360.9,1741.8 282.9,1746.4 293.5,1778.4 305.3,1761.2 456.8,1620.3 413.9,1647.1 406.5,1679 374.9,1700.1 261.8,1785.5 404.4,1674.8 336.5,1757.5 281.3,1799.7 281.9,1801.7 349,1721.7 322.1,1802.9 427.7,1641.7 415.1,1665.6 379.6,1691 364.8,1707.7 392.3,1697.3 257.4,1818 348.6,1741.5 309.6,1757.3 355.5,1723.6 319.6,1782.8 265.3,1786.8 374.9,1682.5 403.5,1675.9 291.2,1782.3 341.9,1757.6 353.4,1726.7 300.3,1743.1 344.2,1729.7 238.6,1788.1 281.3,1788.4 350.7,1714.6 333.2,1743.9 441.3,1627.6 313.4,1782.7 323.1,1763.5 346.1,1723.2 367.5,1710.7 358.2,1731.5 406.4,1662.1 344.3,1712.8 399.3,1696.3 292.5,1758.5 389.7,1678.1 351.4,1708.7 237.7,1814.1 404,1683.1 394.5,1699.8 298.9,1806.2 357.8,1732.6 411.5,1663.6 332.7,1763.1 414.9,1661.8 326,1760.9 405.7,1667.6 347.4,1723.3 343.1,1753.5 315,1762.8 355.9,1729.4 299.1,1778.6 392.7,1679 361.9,1740 335.1,1746.4 321.6,1748.9 335,1760.8 304.5,1808.4 353.6,1733.5 260,1781.2 300.3,1786.6 262.8,1811.9 395.4,1677.3 404.3,1670.6 291.5,1792.2 310.6,1774.8 235.9,1825.6 243.6,1839.6 346.2,1707 451.4,1614.9 301.7,1795 382.8,1711.3 237.9,1821.2 429.5,1645.5 464.7,1614.1 335.5,1739.5 355.9,1717.5 442.9,1630.4 359.6,1717.2 273.6,1822.5 351.9,1718.3 250.1,1825.6 386.9,1693.7 361.9,1717.9 402,1670.6 366.8,1724.9 364.6,1699.3 315.1,1751.8 372.6,1710.9 329.7,1751 310.6,1765.5 487.8,1585.9 234.1,1860.9 353,1739.2 329.5,1810.8 294.3,1757.6 335.8,1733 353.7,1744.3 399.5,1682.7 238.8,1849.3 370.5,1721.8 337.6,1763.9 398,1681 274.9,1804.2 315.8,1737.7 316.4,1776.9 299.1,1801.1 309.4,1783.8 382.6,1686.3 292.4,1751.1 403.8,1680.9 364.4,1704.8 272.4,1788.7 380,1719.8 260.8,1817.9 253.3,1813.2 370.7,1721.8 397.8,1680.1 404.9,1683.3 329.5,1792.3 316.5,1759.4 249,1797.2 330.5,1752.3 357.2,1747.1 444,1651 336.1,1772.1 284.1,1818.4 390.4,1698.9 272.8,1787.2 230.7,1789 334.5,1748.6 330.5,1738.8 323.7,1749.9 248.1,1804.4 323.7,1773.3 232.6,1801.6 220.5,1834 364.4,1732 398.9,1676.4 345.5,1728.5 406.6,1676 359.9,1715.4 458.4,1626.9 305.2,1800.1 322.7,1764.4 325.5,1766.5 363,1716.1 378.5,1697 280.7,1773.1 280.5,1841.7 238.1,1866.5 360.4,1698 270.5,1823.4 387.5,1693.4 324.1,1780.5 376.9,1710.3 378.8,1703.6 372.4,1704.6 386.8,1686 321.5,1782.1 370.4,1715.3 318,1776.8 283.2,1806 326.5,1763.5 349.8,1722.7 285.3,1779.3 401.6,1675.9 270.4,1814 257.2,1828.9 275.6,1795.6 384,1694.6 329.4,1782.7 332.1,1712.6 345.3,1715.1 260.2,1847 302.4,1746.8 385.7,1710.4 380.9,1715.9 317.3,1747.3 354.1,1720.7 340.9,1742.3 364.9,1705.4 247.8,1862.4 268.1,1823.5 387.7,1674.4 310.4,1741.8 274.4,1835.1 336.9,1725.5 337.1,1743.3 265.6,1808.4 330.8,1749.7 306.1,1761 370.5,1714.1 337.4,1772.5 337.2,1742.4 372.7,1709.5 342.7,1737.7 294.2,1789.6 261.9,1820 289.5,1812 274.1,1788.9 300.8,1748.1 325.2,1787.7 303.6,1775.9 288.1,1803.7 400.9,1683.5 328.6,1772.5 226.6,1809 322.4,1742.6 379.9,1700.8 327.1,1757.5 345,1726.6 283.6,1816 364.5,1698.3 354,1705.7 386.7,1683.3 351.8,1731.3 460,1640.7 388.8,1687.1 395.5,1680.8 397.8,1670.3 290.8,1829.6 366.5,1705 385,1696.9 391,1704.1 297.4,1758 259.7,1791.4 299.2,1792.3 257.4,1829.1 342.1,1729.6 294.5,1804 325.7,1743.1 321.8,1744 301.6,1752.2 266.5,1781.3 274.7,1784.5 400,1686.5 241.9,1840.5 336.4,1735.8 266,1799.4 269,1775.8 312.2,1766.8 442.8,1637.7 357.5,1737.6 357.6,1705.1 379.2,1717.8 385.5,1694.3 350.4,1730.1 411.2,1667.5 329.9,1721 306.8,1786 330.3,1756 318.2,1743.3 412.5,1655.6 243.8,1843.9 281.3,1788.3 308.9,1739.7 324.9,1744.9 311.8,1763.1 253.4,1786.4 323.1,1759.1 347.7,1748.4 243.9,1819.8 312.9,1765.4 317.2,1746.6 314.6,1745.6 422.4,1665.1 238.3,1810.4 362.3,1741.6 342.9,1727 240.3,1823.6 365.2,1693.1 254.1,1804.6 341.9,1746.7 280.3,1797.5 305.9,1779.8 368.1,1725.2 384,1689.6 335.2,1747.4 359.3,1760.1 310.6,1753.5 388.4,1702.3 346,1711.7 427.1,1652.4 293.9,1810.5 206.9,1825.8 267.8,1799.5 293.5,1748.4 302.3,1779 230.1,1820 357.3,1726.6 305.7,1799.5 324.2,1745.8 418.7,1652.2 343.7,1744.4 228.6,1790.1 286.7,1781.8 337.1,1725.8 373.2,1684 292,1805.4 299,1769.9 330.5,1734.5 355.1,1719 375.6,1692.5 375.6,1688.1 264.1,1807.5 357.7,1718.6 272.2,1808.3 327,1751.1 359,1709.6 370.3,1730.1 325.3,1761.1 288.8,1809.1 362.5,1695.5 350.9,1718.9 393.1,1679.9 384.6,1703.7 399.2,1674.6 359.9,1706.5 348.8,1721.8 245.6,1794.3 272,1786 336.6,1741.4 374.8,1715.1 337.8,1714.6 429.3,1670.9 301.1,1775.4 252.9,1842 260.2,1793.1 364.3,1713.2 368.5,1711.2 391.6,1691.5 360.7,1710.8 375.7,1692.8 340.6,1731.7 368.6,1715.2 398.8,1704.8 364.4,1701.1 286,1770.9 251.8,1792.5 312.5,1744 473.4,1613.9 341.8,1731.5 277.6,1803 304,1816.2 296.7,1800.6 382,1705.4 390.1,1689.4 259.3,1830 289.5,1793.1 301.3,1798.4 330.5,1776 314.8,1765.6 340.3,1740.1 282,1809.9 305.2,1785 352.9,1747.8 325.1,1782.9 387.5,1692.1 386.6,1691.7 318.3,1747.6 334.1,1737.9 329.1,1768 458.2,1627.8 261.4,1758.9 253.9,1827.7 231.5,1832.2 334.1,1749.7 324.2,1776.1 301.2,1761 397.3,1670.1 354.8,1726.2 338.2,1739.3 282.8,1825.7 460.8,1613.8 331.3,1732 276,1791.8 227.2,1817 392.6,1683.5 285.9,1806.8 281.6,1785.3 308.2,1734.5 301.2,1757.8 256.2,1848.3 374.9,1719.9 315,1790.4 396.9,1681.3 313.9,1745.6 364.5,1715.2 413.1,1672.7 361.6,1722.3 300.3,1761.5 256,1839.8 322.4,1771.7 209.5,1800.4 283.6,1770 307.4,1791.8 327.3,1762.3 381.7,1700.3 371.3,1717.4 363.6,1713.1 320.9,1751.8 335.9,1756.8 245.1,1795.7 398.3,1673.7 329,1796.8 351,1725.2 352.8,1745.5 259.7,1851.6 373.2,1718 308,1780.7 350.1,1695.6 420.1,1668.1 310.9,1778.5 356,1738.1 308.7,1796.2 364.5,1759.8 325.9,1736.4 309.5,1778.3 355.5,1773.2 357.8,1713.4 357.3,1739.3 372.6,1716.5 348.2,1734.8 288.2,1755.3 253.2,1825.3 345.9,1722.9 328.3,1736.8 380.4,1690.4 311.4,1756.3 352,1732.5 305,1744.3 280.1,1794.6 290.6,1782.6 322.5,1734.6 264,1801.5 352.7,1723.2 372.4,1698.2 265.8,1769.8 294.7,1785.9 329.4,1742.9 336.4,1743.2 363.8,1693.1 281.9,1824.3 305,1749.4 426,1655.2 325.4,1745.5 416.4,1649.8 344,1725.6 306,1812.3 371.9,1720 378.5,1714.4 282.2,1802.7 450.1,1632.1 389.9,1674.3 398,1693.7 257.7,1858 270.7,1801.6 271.3,1808 304.3,1763.4 366.7,1720 392.6,1694.6 390.3,1709.1 295.8,1792.9 431.9,1648.9 303.3,1792.7 286.1,1788.4 315.6,1762.5 414.6,1666.7 403,1689.9 315.2,1796.8 289.1,1800 325,1779.2 294.2,1794.9 302.5,1767.9 249.9,1799.8 318.5,1772 257.7,1826.5 328.6,1752 384.3,1690.5 447.9,1633.9 285.2,1771.3 414.4,1669.3 359.6,1716.7 411.3,1667.3 255.9,1827.1 197.8,1808.2 294.5,1787.5 367.8,1747.9 358.9,1703.2 350.3,1745.9 415.1,1657.7 317.4,1784.9 379.6,1692.4 267.3,1797.4 338.6,1722 293,1813.3 308.5,1779 193.4,1808.7 383.8,1692.8 441.8,1633 283.9,1777.9 344.1,1746.7 290.7,1779.8 312.9,1768.9 338.6,1743.4 337.5,1748.4 325.2,1752.7 355.8,1756.4 355.6,1698.8 446.9,1618.1 360,1702.7 358.3,1717.1 305.6,1808 293.6,1796.8 334.3,1752 334.1,1762 346.3,1749.4 282.9,1780.3 323.5,1756.3 306.6,1768.4 336.1,1747.1 325.7,1758.6 360.1,1719.1 367.6,1720.4 283.1,1751.5 398.7,1709.2 360.9,1734.7 409.2,1661.1 278.8,1765.7 312.4,1801.5 421.1,1663.6 354.7,1724.8 362.5,1712.8 338.7,1739.2 297.3,1757.7 298.5,1750.2 319.7,1731.3 290.9,1768 267.4,1778.8 329.5,1762.4 298.6,1769.6 268.2,1828.6 276.5,1783.1 215.3,1801.7 285.1,1779.6 380.4,1700.5 273.4,1772.7 406.9,1660.4 244.5,1841.2 381,1702.9 288.3,1772.6 378.9,1699.4 274.3,1805.4 364.6,1724.4 412.7,1654.2 292.9,1800.5 374.9,1711 394.8,1693.2 267,1844.9 330.3,1734.6 323.6,1765.5 263.4,1812.2 370.3,1729.2 354.2,1719.3 336,1725.5 282.4,1787.6 312,1744.9 322.2,1763.7 333,1728.9 375.1,1700.4 306.5,1786.1 282.5,1782.2 403.2,1670.5 355.1,1713.4 258.7,1825.7 380.3,1681.4 413,1677 406.1,1668.6 368,1699.4 310.3,1809.2 299.9,1772.5 360.2,1732 367.4,1723 296.2,1779 346.7,1718.5 347.5,1727.9 243.8,1815.9 312.3,1782 446.3,1625.5 267.2,1796.8 333.9,1740.7 258.9,1792.4 330.6,1786.2 319.8,1739.8 270.9,1790.5 369.6,1718 410.6,1682.1 354.9,1706.9 326.2,1762.1 301.7,1767.2 331.7,1755.7 393.5,1695.5 262.4,1818.1 370,1717 283.3,1771.7 354.5,1718.6 342.2,1755.3 340.6,1752.6 384.4,1710.3 409.3,1676.2 255.5,1830.7 338.4,1749.3 285.2,1763.9 397.4,1680.3 256.9,1808 315.9,1801.3 266.5,1776.6 291.1,1772.5 351,1718 348.7,1715.2 270.4,1784.4 251.3,1805.4 318.5,1759 370.8,1716 348,1732.4 387.9,1685.1 355.4,1713.4 309.6,1756.3 360.4,1735.7 290.7,1830 393.2,1674.8 292.6,1767 282,1772 300.7,1769.5 354.1,1715.5 324.6,1795.4 269.3,1891.1 427.5,1657.1 292.7,1766 262,1885.8 300.1,1748.5 245.1,1863.3 281.1,1787.3 239.1,1848.6 296.1,1775.3 335.5,1751.7 255.8,1874.1 405.4,1664.2 258.6,1793.7 328.2,1738 412.8,1659.6 378.2,1734.5 371.5,1716.9 241.5,1843 249,1862.3 308.8,1738.8 341.2,1746.2 355.6,1693.6 349.8,1730.8 318.7,1748 304.1,1765.9 288.8,1758.4 334.2,1774 246.3,1825.2 318.1,1811.6 319.3,1737.9 344.8,1721.2 331.6,1786.9 364,1711.5 370.2,1713.3 359.1,1705.8 333.8,1733.9 302,1778.6 376.9,1692.7 362.8,1719 316.4,1786.9 362.8,1709.5 379,1698.6 334.8,1757.9 334.6,1756.2 246.3,1820.1 308.5,1793.5 350.5,1743 335.1,1719.1 262.3,1804.6 415.4,1668.2 311.8,1743.6 310.2,1754 263.2,1809.4 344.3,1725.7 263.1,1816.3 371.8,1737 292.9,1788.4 350.1,1724.6 218.7,1830 342.1,1760.8 377.4,1713.8 314.1,1745.9 361.7,1718.1 293.5,1755.1 427.2,1673.7 314.6,1758.7 270.6,1821.6 405.6,1666 281.8,1798.6 375.7,1699.9 280.2,1836.3 289,1818.4 404.6,1676.8 276.2,1817.7 361.8,1736.1 238.3,1800.2 259.7,1836.1 313,1767.5 283.2,1786.5 265.6,1810.3 337.7,1730.9 238.8,1833.9 367.9,1720.2 328.3,1746 214.3,1823.1 347.5,1729.6 338.8,1749 440.2,1637.7 350.1,1699.8 347.9,1708.9 412.8,1674.4 248.6,1829.4 261.5,1811.2 236.1,1814.2 359,1726.5 350.1,1747.5 455.5,1621.9 265.2,1815.9 281.1,1814.4 360.5,1724.5 339.3,1743.7 350.1,1749 268,1769.7 355.7,1712.4 332.8,1731.9 281.5,1759.8 368.3,1709.1 245.4,1868.9 358.2,1705 419.8,1660.5 296.2,1798.6 436.6,1629.2 370.1,1703.7 289,1769.5 394,1696.3 252.2,1820.5 265.1,1823.6 307.5,1793.2 362,1744.5 274.1,1799.2 271.7,1802 264.3,1801.5 415.9,1656.9 356.9,1713.8 212.9,1808.7 229,1804.7 330.5,1735.8 400.8,1686.1 301.5,1762 401.2,1663.5 364.2,1712.6 277,1815.3 276.1,1796.5 346.9,1707.9 354.9,1710.4 299,1784.3 325.9,1767.4 248.5,1809 355.1,1711 380.7,1698.6 324.4,1754.2 365.4,1709.2 393.7,1690.5 292.1,1790.6 358.9,1704.3 455.3,1600.5 406.7,1692.4 434.6,1638.2 293.6,1766.2 429.2,1649.8 438.5,1648.7 461.9,1644.3 469.4,1643.6 336.9,1724.1 387.9,1709.6 318.5,1802.4 348.4,1813.4 377.9,1715.7 382.6,1706.8 441.2,1666.1 335.1,1768.9 328.8,1755.5 484,1587.7 332.2,1738.8 444.1,1719.1 320.7,1724.7 386.3,1689.7 350.7,1727.8 469.2,1609.4 442,1635.2 317.8,1785.4 422.4,1668 305.4,1704.1 356,1732.1 453.3,1665.7 395.3,1716.2 312,1713.4 362,1759.9 330.6,1768.2 397.7,1655 457.9,1648.9 315.2,1764.6 436.1,1645.6 453.7,1639.9 419.4,1617.1 465.7,1616.3 476.4,1573.6 345.5,1773.9 363.8,1630.6 404.6,1667.8 406.9,1657.6 409.9,1677.9 390.4,1707.7 468,1645.6 345.6,1726.7 312.6,1778.9 425.4,1634.2 443.4,1659.8 483.4,1642.1 319.6,1733.7 411.9,1640.5 396,1683.9 363.4,1747.1 408.7,1683.2 392.5,1647.3 440,1606 470.2,1620.1 358.2,1779.9 440,1618.1 393.6,1673.8 349.3,1704.7 315.6,1758.9 365.4,1753.7 404.5,1667.1 348.4,1670.2 484.9,1577.6 305.5,1741.1 410.8,1684.1 360.4,1742.5 445,1618.7 441.6,1631.1 413.2,1711.2 355.1,1756 416.3,1668.1 414.6,1622 465.9,1622.7 485.1,1604.7 357.5,1733.9 299.6,1739.2 399.2,1614.1 329.3,1784.7 528.2,1632.8 304,1732.9 429.2,1658.6 354.3,1741.7 453.2,1637.1 451.5,1654.2 432.1,1654.9 320.2,1799.2 356.3,1685.6 467,1606.3 421.9,1702.7 317.5,1727.3 401.6,1691.3 405.5,1644.2 364.8,1740.8 463.6,1612.5 443.3,1602.3 397.8,1715.7 317.5,1712.9 371.4,1715.3 421.4,1670.5 432,1645.4 336.6,1737.3 305.1,1765.9 404.6,1674 295.6,1757.7 428.4,1631 458,1643.9 408,1662 361.5,1763 492.5,1597.7 458.6,1608.6 464.2,1622.3 333.8,1710.5 491.8,1590.6 411.3,1638.4 333.7,1774.8 494.9,1640 381.4,1704 291.6,1779.8 472.4,1608.9 436.5,1639 433.4,1659.8 376,1724.3 422.4,1688.2 371.9,1727.5 504.9,1599.3 476.4,1609.7 340.7,1696.6 375.9,1698.7 436.2,1644.7 311.8,1759.2 302.4,1723.6 314.3,1735.4 407.3,1702.5 390.3,1673.9 394,1712.4 403.1,1687.6 416.5,1679.1 340.3,1759.8 474.1,1637.5 476.2,1590.4 332.3,1748.7 457.4,1628.3 435.8,1676.8 322.3,1726.1 375.4,1740.4 459.4,1649.4 398.6,1714.3 293.5,1769.6 404.9,1722.6 393.1,1733.1 453.9,1602.7 353.6,1764.1 365.5,1728.1 334.6,1731.7 421.5,1677.8 475.6,1606.9 485.3,1600.6 355.3,1686.2 395.9,1639.5 390.4,1654.3 339.2,1730.7 509.8,1580 470.5,1608.9 445.2,1629 523.6,1559.1 586.8,1507.5 582.2,1502.9 459.5,1628.5 463.3,1615.3 479.6,1616.7 505.9,1569.9 573.1,1510.7 443.7,1636.6 544,1530.4 452.4,1634 541.5,1545.3 586.3,1493.2 542.3,1544 429.8,1650.5 548.4,1542.9 533.9,1549 453.8,1616.9 573.3,1516.6 430.7,1644.8 423.5,1652.2 426,1651.1 445.4,1631.7 451.8,1632.2 575.8,1495.5 453.6,1632.8 562.1,1509.5 485.3,1605 471.8,1591.1 456.2,1619.8 429,1651.7 448.9,1630 554,1516.3 574.2,1501 583.2,1495 578,1504.9 542.1,1541 492.2,1592.8 510.1,1576.6 457.8,1627.3 580.3,1500.5 539.9,1553.2 451.6,1638.7 470.4,1606.5 573.5,1499.3 546,1538 486.1,1601.9 504.3,1558.2 546.6,1539.1 563.2,1517.1 485.8,1595.9 429.4,1658.9 437,1638.4 501.1,1579.3 571.8,1501.8 552.5,1528.4 533.3,1537.5 534.3,1545.3 522.6,1557.3 422.9,1665.3 511,1571.1 536.4,1553 587.3,1489.3 458.9,1639.2 489.7,1593.6 569.2,1503.9 439.3,1635 487.6,1604.5 549.3,1543.8 544,1538.4 558.2,1517.2 553.4,1521.7 592,1489.5 510.8,1583.3 474.6,1600.2 521.2,1569.3 471.1,1615.9 530.5,1543 476.3,1606.4 458.9,1629.9 581.7,1501.4 584.3,1497.8 484.5,1590 547.9,1559.5 459.7,1633.7 560.8,1534.5 451.5,1629.4 447,1642.2 465.8,1617.2 581.1,1493.3 543.4,1536.4 528.9,1545.9 546.3,1525.9 472.4,1606.7 484.8,1601.2 563.9,1523 562,1520.7 539.9,1541 471.2,1600.9 465.8,1624.9 482.6,1598.4 526.6,1556.6 500,1579.5 529.1,1553 472.9,1601.9 558.4,1527.6 514,1559.6 554,1517.9 491.3,1580.2 463.6,1617.3 558,1524.2 425.3,1654.2 565.9,1513.1 498.8,1580.1 552.4,1529.3 552.7,1524.4 480.4,1603 236.1,1601.5 234,1626.2 330.8,1626.9 345,1626.9 342.1,1636.1 253.8,1641.1 523.8,1883 403.6,1909.9 521.7,1762.7 477.9,1754.3 463.7,1820 619.3,1457.2 617.9,1464.2 447.5,1557.6 451.7,1558.3 140.6,1736.6 161.8,1708.3 195.1,1952.3 223.4,1945.3 304.7,1938.2" fill="none" stroke="none" marker-start="url(#m)" marker-mid="url(#m)" marker-end="url(#m)"/>
<line x1="116.0" y1="1959.15" x2="684.2" y2="1959.15" stroke="#a9adb0" stroke-width="1.8"/>
<line x1="116.0" y1="1960.8500000000001" x2="684.2" y2="1960.8500000000001" stroke="#636a70" stroke-width="2.3"/>
<line x1="117.2" y1="1960.15" x2="683.0" y2="1394.5" stroke="#000" stroke-width="2.6"/>
<line x1="117.30" y1="1961.75" x2="117.30" y2="1968.75" stroke="#000" stroke-width="2.5"/>
<line x1="107.60" y1="1959.40" x2="116.10" y2="1959.40" stroke="#000" stroke-width="2.6"/>
<text x="118.5" y="1992.3" font-size="22.6" text-anchor="middle">2</text>
<text transform="translate(103.2 1959.6) rotate(-90)" font-size="23" text-anchor="middle">2</text>
<line x1="258.70" y1="1961.75" x2="258.70" y2="1968.75" stroke="#000" stroke-width="2.5"/>
<line x1="107.60" y1="1817.93" x2="116.10" y2="1817.93" stroke="#000" stroke-width="2.6"/>
<text x="258.9" y="1992.3" font-size="22.6" text-anchor="middle">4</text>
<text transform="translate(103.2 1818.1) rotate(-90)" font-size="23" text-anchor="middle">4</text>
<line x1="400.10" y1="1961.75" x2="400.10" y2="1968.75" stroke="#000" stroke-width="2.5"/>
<line x1="107.60" y1="1676.45" x2="116.10" y2="1676.45" stroke="#000" stroke-width="2.6"/>
<text x="400.3" y="1992.3" font-size="22.6" text-anchor="middle">6</text>
<text transform="translate(103.2 1676.7) rotate(-90)" font-size="23" text-anchor="middle">6</text>
<line x1="541.50" y1="1961.75" x2="541.50" y2="1968.75" stroke="#000" stroke-width="2.5"/>
<line x1="107.60" y1="1534.97" x2="116.10" y2="1534.97" stroke="#000" stroke-width="2.6"/>
<text x="541.7" y="1992.3" font-size="22.6" text-anchor="middle">8</text>
<text transform="translate(103.2 1535.2) rotate(-90)" font-size="23" text-anchor="middle">8</text>
<line x1="682.90" y1="1961.75" x2="682.90" y2="1968.75" stroke="#000" stroke-width="2.5"/>
<line x1="107.60" y1="1393.50" x2="116.10" y2="1393.50" stroke="#000" stroke-width="2.6"/>
<text x="686.3" y="1992.3" font-size="22.6" text-anchor="middle">10</text>
<text transform="translate(103.2 1393.7) rotate(-90)" font-size="23" text-anchor="middle">10</text>
<text x="271.3" y="2018.1" font-size="24">log<tspan font-size="14.2" dy="8.3">10</tspan><tspan dy="-8.3" dx="-2.2"> iBAQ asynchronous</tspan></text>
<text transform="translate(72.7 1854.5) rotate(-90)" font-size="24">log<tspan font-size="14.2" dy="8.3">10</tspan><tspan dy="-8.3" dx="-2.6"> iBAQ S-phase synchronised</tspan></text>
<circle cx="569" cy="1495" r="7" fill="#f0921f" stroke="#23135a" stroke-width="1.7"/>
<text class="b" x="502" y="1484.6" font-size="18.7" fill="#111">TERF2</text>
<circle cx="446" cy="1648.5" r="7" fill="#f0921f" stroke="#23135a" stroke-width="1.7"/>
<text class="b" x="454.4" y="1670" font-size="18.7" fill="#111">RTEL1</text>
<rect x="187.8" y="1741.5" width="13" height="13" fill="#f0921f" stroke="#23135a" stroke-width="1.7"/>
<text class="b" x="124.6" y="1732.7" font-size="18.7" fill="#111">PPP6R3</text>

<text class="b" transform="translate(-2.5 47.6) scale(0.95 1)" font-size="68">a</text>
<defs><filter id="b1" x="-5%" y="-5%" width="110%" height="110%"><feGaussianBlur stdDeviation="1.3 1.0"/></filter><filter id="b2" x="-5%" y="-5%" width="110%" height="110%"><feGaussianBlur stdDeviation="2.2 1.7"/></filter><filter id="b3" x="-5%" y="-5%" width="110%" height="110%"><feGaussianBlur stdDeviation="3.5"/></filter><filter id="nz" x="0" y="0" width="100%" height="100%"><feTurbulence type="fractalNoise" baseFrequency="0.8" numOctaves="2" seed="3" result="t"/><feColorMatrix type="matrix" values="0 0 0 0 0.5  0 0 0 0 0.5  0 0 0 0 0.5  0.6 0 0 0 -0.22"/></filter></defs>
<text class="b" transform="translate(778.5 46.5) scale(0.96 1)" font-size="68">b</text>
<text x="1101.5" y="54" font-size="25" text-anchor="middle">siRNA</text>
<line x1="922" y1="66.8" x2="1279.5" y2="66.8" stroke="#111" stroke-width="2"/>
<text transform="translate(941.3 183) rotate(-90) scale(1 1.08)" font-size="24.5">NTC</text>
<text transform="translate(994.8 183) rotate(-90) scale(1 1.08)" font-size="24.5">UBLCP1</text>
<text transform="translate(1039.1 183) rotate(-90) scale(1 1.08)" font-size="24.5">PP1R10</text>
<text transform="translate(1084.3 183) rotate(-90) scale(1 1.08)" font-size="24.5">PP2R5C</text>
<text transform="translate(1129.6 183) rotate(-90) scale(1 1.08)" font-size="24.5">PP4R1</text>
<text transform="translate(1177.8 183) rotate(-90) scale(1 1.08)" font-size="24.5">PP4R2</text>
<text transform="translate(1226.8 183) rotate(-90) scale(1 1.08)" font-size="24.5">PP6R2</text>
<text transform="translate(1278.3 183) rotate(-90) scale(1 1.08)" font-size="24.5">PP6R3</text>
<text x="888.5" y="242.1" font-size="24.1" text-anchor="end">UBLCP1</text>
<text x="888.5" y="325.4" font-size="24.1" text-anchor="end">PP1R10</text>
<text x="888.5" y="408.8" font-size="24.7" text-anchor="end">PP2R5C</text>
<text x="888.5" y="492.2" font-size="24.7" text-anchor="end">PP4R1</text>
<text x="888.5" y="575.5" font-size="24.7" text-anchor="end">PP4R2</text>
<text x="888.5" y="658.8" font-size="24.7" text-anchor="end">PP6R2</text>
<text x="888.5" y="742.2" font-size="24.7" text-anchor="end">PP6R3</text>
<text x="888.5" y="908.9" font-size="24.7" text-anchor="end">RTEL1</text>
<text x="845.5" y="810.5" font-size="25" text-anchor="middle">Myc</text>
<text x="848.5" y="839.0" font-size="25" text-anchor="middle" textLength="78" lengthAdjust="spacingAndGlyphs">(TRF2)</text>
<clipPath id="c1"><rect x="897" y="195.3" width="408.5" height="77.19999999999999"/></clipPath>
<g clip-path="url(#c1)">
<rect x="897" y="195.3" width="408.5" height="77.19999999999999" fill="#a4a4a4"/>
<rect x="897" y="195.3" width="408.5" height="77.19999999999999" filter="url(#nz)" opacity="0.5"/>
<g filter="url(#b1)"><rect x="910.0" y="231.8" width="40.0" height="6.0" rx="3.0" fill="#141414" opacity="0.55"/><rect x="1008.7" y="232.3" width="37.3" height="6.0" rx="3.0" fill="#141414" opacity="0.72"/><rect x="1056.0" y="232.3" width="36.0" height="5.0" rx="2.5" fill="#141414" opacity="0.62" transform="rotate(-1.59 1074.0 234.8)"/><rect x="1102.0" y="232.1" width="35.0" height="5.5" rx="2.8" fill="#141414" opacity="0.78" transform="rotate(-1.64 1119.5 234.8)"/><rect x="1148.0" y="231.3" width="39.0" height="5.0" rx="2.5" fill="#141414" opacity="0.6" transform="rotate(-0.73 1167.5 233.8)"/><rect x="1197.0" y="232.3" width="38.0" height="5.0" rx="2.5" fill="#141414" opacity="0.66"/><rect x="1245.0" y="231.6" width="43.0" height="4.5" rx="2.2" fill="#141414" opacity="0.6" transform="rotate(-3.99 1266.5 233.8)"/></g>
</g>
<rect x="898" y="196.3" width="406.5" height="75.19999999999999" fill="none" stroke="#0a0a0a" stroke-width="2.2"/>

<clipPath id="c2"><rect x="897" y="278.65" width="408.5" height="77.19999999999999"/></clipPath>
<g clip-path="url(#c2)">
<rect x="897" y="278.65" width="408.5" height="77.19999999999999" fill="#989898"/>
<rect x="897" y="278.65" width="408.5" height="77.19999999999999" filter="url(#nz)" opacity="0.5"/>
<g filter="url(#b1)"><rect x="908.0" y="316.9" width="42.0" height="6.5" rx="3.0" fill="#141414" opacity="0.5"/><rect x="961.0" y="316.6" width="36.5" height="8.0" rx="3.0" fill="#141414" opacity="0.55"/><rect x="1056.5" y="317.4" width="38.1" height="7.5" rx="3.0" fill="#141414" opacity="0.6"/><rect x="1104.0" y="317.4" width="36.6" height="7.5" rx="3.0" fill="#141414" opacity="0.6"/><rect x="1153.7" y="316.6" width="37.3" height="8.0" rx="3.0" fill="#141414" opacity="0.68"/><rect x="1201.5" y="316.6" width="38.5" height="8.0" rx="3.0" fill="#141414" opacity="0.72"/><rect x="1250.0" y="317.1" width="40.0" height="6.0" rx="3.0" fill="#141414" opacity="0.42" transform="rotate(-2.15 1270.0 320.1)"/></g>
<g filter="url(#b2)"><rect x="930.0" y="350.1" width="25.0" height="5.0" rx="2.5" fill="#141414" opacity="0.25"/><rect x="1008.0" y="350.6" width="42.0" height="5.0" rx="2.5" fill="#141414" opacity="0.3"/><rect x="1180.0" y="351.6" width="35.0" height="4.0" rx="2.0" fill="#141414" opacity="0.2"/><rect x="1270.0" y="349.6" width="30.0" height="5.0" rx="2.5" fill="#141414" opacity="0.4"/></g>
</g>
<rect x="898" y="279.65" width="406.5" height="75.19999999999999" fill="none" stroke="#0a0a0a" stroke-width="2.2"/>

<clipPath id="c3"><rect x="897" y="362.0" width="408.5" height="77.19999999999999"/></clipPath>
<g clip-path="url(#c3)">
<rect x="897" y="362.0" width="408.5" height="77.19999999999999" fill="#a0a0a0"/>
<rect x="897" y="362.0" width="408.5" height="77.19999999999999" filter="url(#nz)" opacity="0.5"/>
<line x1="981.5" y1="362.0" x2="981.5" y2="439.2" stroke="#8c8c8c" stroke-width="1"/><line x1="1084.5" y1="362.0" x2="1084.5" y2="439.2" stroke="#8c8c8c" stroke-width="1"/><line x1="1156" y1="362.0" x2="1156" y2="439.2" stroke="#8c8c8c" stroke-width="1"/>
<g filter="url(#b1)"><rect x="909.0" y="397.8" width="46.6" height="7.0" rx="3.0" fill="#141414" opacity="0.88" transform="rotate(-0.61 932.3 401.3)"/><rect x="962.0" y="398.8" width="34.7" height="6.0" rx="3.0" fill="#141414" opacity="0.7" transform="rotate(-1.65 979.4 401.8)"/><rect x="1008.7" y="397.6" width="42.3" height="7.5" rx="3.0" fill="#141414" opacity="0.88"/><rect x="1058.0" y="400.3" width="36.0" height="4.0" rx="2.0" fill="#141414" opacity="0.13"/><rect x="1101.0" y="398.3" width="43.0" height="8.0" rx="3.0" fill="#141414" opacity="0.9"/><rect x="1149.0" y="399.3" width="38.0" height="8.0" rx="3.0" fill="#141414" opacity="0.88"/><rect x="1194.0" y="398.6" width="42.0" height="8.5" rx="3.0" fill="#141414" opacity="0.9"/><rect x="1243.0" y="398.3" width="45.0" height="7.0" rx="3.0" fill="#141414" opacity="0.88" transform="rotate(-2.54 1265.5 401.8)"/></g>
</g>
<rect x="898" y="363.0" width="406.5" height="75.19999999999999" fill="none" stroke="#0a0a0a" stroke-width="2.2"/>

<clipPath id="c4"><rect x="897" y="445.35" width="408.5" height="77.20000000000005"/></clipPath>
<g clip-path="url(#c4)">
<rect x="897" y="445.35" width="408.5" height="77.20000000000005" fill="#9c9c9c"/>
<rect x="897" y="445.35" width="408.5" height="77.20000000000005" filter="url(#nz)" opacity="0.5"/>
<line x1="943" y1="445.35" x2="942" y2="522.5500000000001" stroke="#8a8a8a" stroke-width="1"/>
<g filter="url(#b1)"><rect x="910.0" y="478.4" width="41.0" height="7.0" rx="3.0" fill="#141414" opacity="0.85"/><rect x="961.0" y="480.4" width="39.5" height="7.0" rx="3.0" fill="#141414" opacity="0.8"/><rect x="1009.8" y="480.9" width="38.2" height="7.0" rx="3.0" fill="#141414" opacity="0.8"/><rect x="1058.0" y="480.1" width="37.8" height="7.5" rx="3.0" fill="#141414" opacity="0.88" transform="rotate(-2.27 1076.9 483.9)"/><rect x="1108.0" y="482.9" width="24.0" height="3.0" rx="1.5" fill="#141414" opacity="0.1"/><rect x="1153.7" y="478.4" width="35.3" height="6.0" rx="3.0" fill="#141414" opacity="0.78" transform="rotate(-2.43 1171.3 481.4)"/><rect x="1200.0" y="477.4" width="36.6" height="7.0" rx="3.0" fill="#141414" opacity="0.85"/><rect x="1248.0" y="476.1" width="40.0" height="6.5" rx="3.0" fill="#141414" opacity="0.8" transform="rotate(-5.71 1268.0 479.4)"/></g>
</g>
<rect x="898" y="446.35" width="406.5" height="75.20000000000005" fill="none" stroke="#0a0a0a" stroke-width="2.2"/>

<clipPath id="c5"><rect x="897" y="528.7" width="408.5" height="77.20000000000005"/></clipPath>
<g clip-path="url(#c5)">
<rect x="897" y="528.7" width="408.5" height="77.20000000000005" fill="#a5a5a5"/>
<rect x="897" y="528.7" width="408.5" height="77.20000000000005" filter="url(#nz)" opacity="0.5"/>
<g filter="url(#b1)"><rect x="910.0" y="561.0" width="41.0" height="5.5" rx="2.8" fill="#141414" opacity="0.35"/><rect x="961.0" y="561.2" width="39.5" height="6.0" rx="3.0" fill="#141414" opacity="0.42"/><rect x="1008.7" y="560.7" width="40.3" height="6.0" rx="3.0" fill="#141414" opacity="0.45"/><rect x="1057.3" y="560.2" width="38.5" height="7.0" rx="3.0" fill="#141414" opacity="0.6"/><rect x="1105.0" y="560.7" width="39.0" height="6.0" rx="3.0" fill="#141414" opacity="0.45"/><rect x="1155.0" y="562.7" width="21.0" height="4.0" rx="2.0" fill="#141414" opacity="0.1"/><rect x="1201.5" y="559.7" width="38.5" height="6.0" rx="3.0" fill="#141414" opacity="0.48" transform="rotate(-1.49 1220.8 562.7)"/><rect x="1249.0" y="557.7" width="41.0" height="6.0" rx="3.0" fill="#141414" opacity="0.5" transform="rotate(-2.79 1269.5 560.7)"/></g>
</g>
<rect x="898" y="529.7" width="406.5" height="75.20000000000005" fill="none" stroke="#0a0a0a" stroke-width="2.2"/>

<clipPath id="c6"><rect x="897" y="612.05" width="408.5" height="77.20000000000005"/></clipPath>
<g clip-path="url(#c6)">
<rect x="897" y="612.05" width="408.5" height="77.20000000000005" fill="#a0a0a0"/>
<rect x="897" y="612.05" width="408.5" height="77.20000000000005" filter="url(#nz)" opacity="0.5"/>
<g filter="url(#b1)"><rect x="909.0" y="645.0" width="41.0" height="7.0" rx="3.0" fill="#141414" opacity="0.7"/><rect x="960.0" y="646.0" width="40.5" height="7.0" rx="3.0" fill="#141414" opacity="0.72"/><rect x="1008.7" y="646.3" width="39.6" height="7.5" rx="3.0" fill="#141414" opacity="0.75"/><rect x="1057.3" y="646.5" width="39.7" height="8.0" rx="3.0" fill="#141414" opacity="0.8"/><rect x="1107.0" y="645.8" width="37.3" height="7.5" rx="3.0" fill="#141414" opacity="0.78"/><rect x="1154.4" y="644.5" width="40.4" height="8.0" rx="3.0" fill="#141414" opacity="0.85"/><rect x="1206.0" y="646.5" width="34.0" height="4.0" rx="2.0" fill="#141414" opacity="0.1"/><rect x="1253.8" y="644.0" width="36.2" height="7.0" rx="3.0" fill="#141414" opacity="0.8" transform="rotate(-1.58 1271.9 647.5)"/></g>
</g>
<rect x="898" y="613.05" width="406.5" height="75.20000000000005" fill="none" stroke="#0a0a0a" stroke-width="2.2"/>

<clipPath id="c7"><rect x="897" y="695.4" width="408.5" height="77.20000000000005"/></clipPath>
<g clip-path="url(#c7)">
<rect x="897" y="695.4" width="408.5" height="77.20000000000005" fill="#a9a9a9"/>
<rect x="897" y="695.4" width="408.5" height="77.20000000000005" filter="url(#nz)" opacity="0.5"/>
<g filter="url(#b1)"><rect x="914.5" y="730.9" width="39.3" height="5.5" rx="2.8" fill="#141414" opacity="0.62"/><rect x="966.0" y="731.9" width="37.5" height="5.5" rx="2.8" fill="#141414" opacity="0.6"/><rect x="1013.5" y="732.2" width="38.5" height="5.0" rx="2.5" fill="#141414" opacity="0.55"/><rect x="1062.0" y="732.2" width="35.6" height="6.0" rx="3.0" fill="#141414" opacity="0.65"/><rect x="1108.8" y="731.9" width="37.2" height="5.5" rx="2.8" fill="#141414" opacity="0.62"/><rect x="1157.4" y="731.7" width="36.6" height="6.0" rx="3.0" fill="#141414" opacity="0.65"/><rect x="1206.0" y="731.7" width="37.4" height="6.0" rx="3.0" fill="#141414" opacity="0.7" transform="rotate(-1.53 1224.7 734.7)"/><rect x="1254.6" y="731.9" width="37.4" height="3.5" rx="1.8" fill="#141414" opacity="0.08"/></g>
</g>
<rect x="898" y="696.4" width="406.5" height="75.20000000000005" fill="none" stroke="#0a0a0a" stroke-width="2.2"/>

<clipPath id="c8"><rect x="897" y="778.75" width="408.5" height="77.20000000000005"/></clipPath>
<g clip-path="url(#c8)">
<rect x="897" y="778.75" width="408.5" height="77.20000000000005" fill="#8b8b8b"/>
<rect x="897" y="778.75" width="408.5" height="77.20000000000005" filter="url(#nz)" opacity="0.5"/>
<g filter="url(#b3)"><rect x="905.0" y="817.0" width="392.0" height="26.0" rx="3.0" fill="#141414" opacity="0.05"/></g>
<g filter="url(#b2)"><rect x="915.0" y="811.5" width="40.6" height="8.0" rx="3.0" fill="#141414" opacity="0.42"/><rect x="965.0" y="814.0" width="39.0" height="9.0" rx="3.0" fill="#141414" opacity="0.5"/><rect x="1012.4" y="814.0" width="40.4" height="8.0" rx="3.0" fill="#141414" opacity="0.42"/><rect x="1060.3" y="813.5" width="39.2" height="9.0" rx="3.0" fill="#141414" opacity="0.62"/><rect x="1107.0" y="814.5" width="39.2" height="10.0" rx="3.0" fill="#141414" opacity="0.78"/><rect x="1154.4" y="814.8" width="36.6" height="8.5" rx="3.0" fill="#141414" opacity="0.6"/><rect x="1200.4" y="814.8" width="37.4" height="8.5" rx="3.0" fill="#141414" opacity="0.6"/><rect x="1246.4" y="812.0" width="41.8" height="9.0" rx="3.0" fill="#141414" opacity="0.7" transform="rotate(-1.37 1267.3 816.5)"/></g>
</g>
<rect x="898" y="779.75" width="406.5" height="75.20000000000005" fill="none" stroke="#0a0a0a" stroke-width="2.2"/>

<clipPath id="c9"><rect x="897" y="862.0999999999999" width="408.5" height="77.20000000000005"/></clipPath>
<g clip-path="url(#c9)">
<rect x="897" y="862.0999999999999" width="408.5" height="77.20000000000005" fill="#adadad"/>
<rect x="897" y="862.0999999999999" width="408.5" height="77.20000000000005" filter="url(#nz)" opacity="0.5"/>
<g filter="url(#b3)"><rect x="911.8" y="868.1" width="39.2" height="72.0" rx="4.0" fill="#141414" opacity="0.2"/><rect x="959.8" y="868.1" width="42.2" height="72.0" rx="4.0" fill="#141414" opacity="0.35"/><rect x="1009.0" y="868.1" width="41.0" height="72.0" rx="4.0" fill="#141414" opacity="0.305"/><rect x="1057.0" y="868.1" width="41.0" height="72.0" rx="4.0" fill="#141414" opacity="0.326"/><rect x="1106.6" y="868.1" width="39.4" height="72.0" rx="4.0" fill="#141414" opacity="0.314"/><rect x="1153.0" y="868.1" width="40.8" height="72.0" rx="4.0" fill="#141414" opacity="0.314"/><rect x="1201.0" y="868.1" width="40.7" height="72.0" rx="4.0" fill="#141414" opacity="0.305"/><rect x="1250.5" y="868.1" width="45.0" height="72.0" rx="4.0" fill="#141414" opacity="0.29"/></g>
<g filter="url(#b2)"><rect x="911.8" y="914.6" width="39.2" height="7.0" rx="3.0" fill="#141414" opacity="0.5"/><rect x="911.8" y="923.1" width="39.2" height="6.0" rx="3.0" fill="#141414" opacity="0.4"/><rect x="911.8" y="892.6" width="39.2" height="13.0" rx="5.0" fill="#141414" opacity="0.5"/><rect x="958.3" y="912.5" width="45.2" height="16.0" rx="6.0" fill="#141414" opacity="0.86"/><rect x="959.8" y="892.1" width="42.2" height="13.0" rx="5.0" fill="#141414" opacity="0.74"/><rect x="961.8" y="880.6" width="38.2" height="7.0" rx="2.0" fill="#141414" opacity="0.14"/><rect x="1007.5" y="912.5" width="44.0" height="16.0" rx="6.0" fill="#141414" opacity="0.731"/><rect x="1009.0" y="892.1" width="41.0" height="13.0" rx="5.0" fill="#141414" opacity="0.629"/><rect x="1011.0" y="880.6" width="37.0" height="7.0" rx="2.0" fill="#141414" opacity="0.11900000000000001"/><rect x="1055.5" y="912.5" width="44.0" height="16.0" rx="6.0" fill="#141414" opacity="0.7912"/><rect x="1057.0" y="892.1" width="41.0" height="13.0" rx="5.0" fill="#141414" opacity="0.6808000000000001"/><rect x="1059.0" y="880.6" width="37.0" height="7.0" rx="2.0" fill="#141414" opacity="0.12880000000000003"/><rect x="1105.1" y="912.5" width="42.4" height="16.0" rx="6.0" fill="#141414" opacity="0.7568"/><rect x="1106.6" y="892.1" width="39.4" height="13.0" rx="5.0" fill="#141414" opacity="0.6512"/><rect x="1108.6" y="880.6" width="35.4" height="7.0" rx="2.0" fill="#141414" opacity="0.12320000000000002"/><rect x="1151.5" y="912.5" width="43.8" height="16.0" rx="6.0" fill="#141414" opacity="0.7568"/><rect x="1153.0" y="892.1" width="40.8" height="13.0" rx="5.0" fill="#141414" opacity="0.6512"/><rect x="1155.0" y="880.6" width="36.8" height="7.0" rx="2.0" fill="#141414" opacity="0.12320000000000002"/><rect x="1199.5" y="912.5" width="43.7" height="16.0" rx="6.0" fill="#141414" opacity="0.731"/><rect x="1201.0" y="892.1" width="40.7" height="13.0" rx="5.0" fill="#141414" opacity="0.629"/><rect x="1203.0" y="880.6" width="36.7" height="7.0" rx="2.0" fill="#141414" opacity="0.11900000000000001"/><rect x="1249.0" y="912.5" width="48.0" height="16.0" rx="6.0" fill="#141414" opacity="0.6880000000000001"/><rect x="1250.5" y="892.1" width="45.0" height="13.0" rx="5.0" fill="#141414" opacity="0.592"/><rect x="1252.5" y="880.6" width="41.0" height="7.0" rx="2.0" fill="#141414" opacity="0.11200000000000002"/><rect x="960.0" y="868.6" width="42.0" height="13.0" rx="4.0" fill="#141414" opacity="0.8"/></g>
<g filter="url(#b1)"><rect x="913.8" y="871.3" width="25.2" height="3.5" rx="1.8" fill="#141414" opacity="0.6" transform="rotate(4.54 926.4 873.1)"/><rect x="961.8" y="871.3" width="38.2" height="4.5" rx="2.0" fill="#141414" opacity="0.62"/><rect x="1011.0" y="871.3" width="37.0" height="4.5" rx="2.0" fill="#141414" opacity="0.527"/><rect x="1059.0" y="871.3" width="37.0" height="4.5" rx="2.0" fill="#141414" opacity="0.5704"/><rect x="1108.6" y="871.3" width="35.4" height="4.5" rx="2.0" fill="#141414" opacity="0.5456"/><rect x="1155.0" y="871.3" width="36.8" height="4.5" rx="2.0" fill="#141414" opacity="0.5456"/><rect x="1203.0" y="871.3" width="36.7" height="4.5" rx="2.0" fill="#141414" opacity="0.527"/><rect x="1252.5" y="871.3" width="41.0" height="4.5" rx="2.0" fill="#141414" opacity="0.496"/><rect x="1257.0" y="871.1" width="33.0" height="5.0" rx="2.0" fill="#141414" opacity="0.0"/></g>
</g>
<rect x="898" y="863.0999999999999" width="406.5" height="75.20000000000005" fill="none" stroke="#0a0a0a" stroke-width="2.2"/>

<line x1="909" y1="946.5" x2="1299.5" y2="946.5" stroke="#111" stroke-width="2"/>
<text x="1100.5" y="979" font-size="28" text-anchor="middle">HEK 293 pLPC-Myc-TRF2</text>

<text class="b" transform="translate(778.3 1119) scale(0.96 1)" font-size="68">c</text>
<text x="993.5" y="1142.6" font-size="25" text-anchor="middle">siRNA</text>
<line x1="906.5" y1="1154.2" x2="1083.5" y2="1154.2" stroke="#111" stroke-width="2"/>
<text transform="translate(941.0 1248.4) rotate(-90) scale(1 1.08)" font-size="24.5">NTC</text>
<text transform="translate(1007.9 1248.4) rotate(-90) scale(1 1.08)" font-size="24.5">PP4R2</text>
<text transform="translate(1076.0 1248.4) rotate(-90) scale(1 1.08)" font-size="24.5">PP6R3</text>
<text x="886" y="1291.3" font-size="24" text-anchor="end">Myc</text>
<text x="886.5" y="1319.7" font-size="24" text-anchor="end" textLength="78" lengthAdjust="spacingAndGlyphs">(TRF2)</text>
<text x="887" y="1376.5" font-size="24" text-anchor="end">Flag</text>
<text x="886.5" y="1403.9" font-size="24" text-anchor="end" textLength="92" lengthAdjust="spacingAndGlyphs">(RTEL1)</text>
<clipPath id="c10"><rect x="895.3" y="1256" width="206.0" height="78"/></clipPath>
<g clip-path="url(#c10)">
<rect x="895.3" y="1256" width="206.0" height="78" fill="#cacaca"/>
<rect x="895.3" y="1256" width="206.0" height="78" filter="url(#nz)" opacity="0.5"/>
<g filter="url(#b2)"><rect x="906.0" y="1292.2" width="54.6" height="9.0" rx="3.0" fill="#141414" opacity="0.78"/><rect x="903.0" y="1290.5" width="19.0" height="12.0" rx="6.0" fill="#141414" opacity="0.9"/><rect x="969.0" y="1294.0" width="50.0" height="6.0" rx="3.0" fill="#141414" opacity="0.08"/><rect x="1036.6" y="1293.0" width="53.4" height="7.0" rx="3.0" fill="#141414" opacity="0.17"/></g>
</g>
<rect x="896.3" y="1257" width="204.0" height="76" fill="none" stroke="#0a0a0a" stroke-width="2.2"/>

<clipPath id="c11"><rect x="895.3" y="1339.8" width="206.0" height="78.20000000000005"/></clipPath>
<g clip-path="url(#c11)">
<rect x="895.3" y="1339.8" width="206.0" height="78.20000000000005" fill="#c2c2c2"/>
<rect x="895.3" y="1339.8" width="206.0" height="78.20000000000005" filter="url(#nz)" opacity="0.5"/>
<g filter="url(#b1)"><rect x="904.0" y="1370.0" width="54.0" height="10.5" rx="5.0" fill="#141414" opacity="0.97"/><rect x="904.0" y="1387.8" width="54.0" height="11.5" rx="5.5" fill="#141414" opacity="0.97"/><rect x="906.0" y="1380.0" width="50.0" height="9.0" rx="3.0" fill="#141414" opacity="0.6"/><rect x="971.3" y="1370.0" width="50.7" height="10.5" rx="5.0" fill="#141414" opacity="0.97"/><rect x="971.3" y="1387.8" width="50.7" height="11.5" rx="5.5" fill="#141414" opacity="0.97"/><rect x="973.3" y="1380.0" width="46.7" height="9.0" rx="3.0" fill="#141414" opacity="0.6"/><rect x="1035.3" y="1370.0" width="53.6" height="10.5" rx="5.0" fill="#141414" opacity="0.97"/><rect x="1035.3" y="1387.8" width="53.6" height="11.5" rx="5.5" fill="#141414" opacity="0.97"/><rect x="1037.3" y="1380.0" width="49.6" height="9.0" rx="3.0" fill="#141414" opacity="0.6"/></g>
</g>
<rect x="896.3" y="1340.8" width="204.0" height="76.20000000000005" fill="none" stroke="#0a0a0a" stroke-width="2.2"/>

<line x1="898.3" y1="1425.8" x2="1095" y2="1425.8" stroke="#111" stroke-width="2"/>
<text x="999.3" y="1453.7" font-size="22.5" text-anchor="middle">IP: anti-Flag (RTEL1)</text>
<text x="1343.2" y="1142.6" font-size="25" text-anchor="middle">siRNA</text>
<line x1="1249.6" y1="1153.8" x2="1427" y2="1153.8" stroke="#111" stroke-width="2"/>
<text transform="translate(1280.6 1248.0) rotate(-90) scale(1 1.08)" font-size="24.5">NTC</text>
<text transform="translate(1349.8 1248.0) rotate(-90) scale(1 1.08)" font-size="24.5">PP4R2</text>
<text transform="translate(1418.5 1248.0) rotate(-90) scale(1 1.08)" font-size="24.5">PP6R3</text>
<text x="1232" y="1299.9" font-size="25" text-anchor="end">PP4R2</text>
<text x="1232" y="1386.9" font-size="25" text-anchor="end">PP6R3</text>
<text x="1232" y="1472.7" font-size="24.6" text-anchor="end">Tubulin</text>
<clipPath id="c12"><rect x="1238.3" y="1255" width="206.70000000000005" height="77.5"/></clipPath>
<g clip-path="url(#c12)">
<rect x="1238.3" y="1255" width="206.70000000000005" height="77.5" fill="#c4c4c4"/>
<rect x="1238.3" y="1255" width="206.70000000000005" height="77.5" filter="url(#nz)" opacity="0.5"/>
<g filter="url(#b2)"><rect x="1251.3" y="1291.5" width="49.0" height="11.0" rx="3.0" fill="#141414" opacity="0.6"/><rect x="1312.0" y="1295.5" width="43.0" height="5.0" rx="2.5" fill="#141414" opacity="0.05"/><rect x="1380.0" y="1291.5" width="51.5" height="11.0" rx="3.0" fill="#141414" opacity="0.6"/></g>
</g>
<rect x="1239.3" y="1256" width="204.70000000000005" height="75.5" fill="none" stroke="#0a0a0a" stroke-width="2.2"/>

<clipPath id="c13"><rect x="1238.3" y="1338.4" width="206.70000000000005" height="77.89999999999986"/></clipPath>
<g clip-path="url(#c13)">
<rect x="1238.3" y="1338.4" width="206.70000000000005" height="77.89999999999986" fill="#c4c4c4"/>
<rect x="1238.3" y="1338.4" width="206.70000000000005" height="77.89999999999986" filter="url(#nz)" opacity="0.5"/>
<g filter="url(#b1)"><rect x="1251.3" y="1376.5" width="49.0" height="7.0" rx="3.0" fill="#141414" opacity="0.9"/><rect x="1251.3" y="1385.0" width="49.0" height="5.0" rx="2.5" fill="#141414" opacity="0.5"/><rect x="1312.6" y="1376.5" width="46.6" height="7.0" rx="3.0" fill="#141414" opacity="0.9"/><rect x="1312.6" y="1385.0" width="46.6" height="5.0" rx="2.5" fill="#141414" opacity="0.5"/><rect x="1385.0" y="1381.0" width="45.0" height="4.0" rx="2.0" fill="#141414" opacity="0.03"/></g>
</g>
<rect x="1239.3" y="1339.4" width="204.70000000000005" height="75.89999999999986" fill="none" stroke="#0a0a0a" stroke-width="2.2"/>

<clipPath id="c14"><rect x="1238.3" y="1422" width="206.70000000000005" height="78.20000000000005"/></clipPath>
<g clip-path="url(#c14)">
<rect x="1238.3" y="1422" width="206.70000000000005" height="78.20000000000005" fill="#b0b0b0"/>
<rect x="1238.3" y="1422" width="206.70000000000005" height="78.20000000000005" filter="url(#nz)" opacity="0.5"/>
<g filter="url(#b2)"><rect x="1250.0" y="1459.8" width="59.0" height="9.5" rx="3.0" fill="#141414" opacity="0.48"/><rect x="1312.6" y="1461.8" width="60.1" height="9.5" rx="3.0" fill="#141414" opacity="0.45"/><rect x="1375.0" y="1461.2" width="59.0" height="9.5" rx="3.0" fill="#141414" opacity="0.45"/><rect x="1439.0" y="1461.5" width="11.0" height="7.0" rx="3.0" fill="#141414" opacity="0.35"/></g>
</g>
<rect x="1239.3" y="1423" width="204.70000000000005" height="76.20000000000005" fill="none" stroke="#0a0a0a" stroke-width="2.2"/>

<line x1="1240.3" y1="1508.3" x2="1443" y2="1508.3" stroke="#111" stroke-width="2"/>
<text x="1336.5" y="1535.3" font-size="22.5" text-anchor="middle">HEK 293N-Flap</text>
<text x="1336.3" y="1558" font-size="22.5" text-anchor="middle">pLPC-Myc-TRF2</text>

<text class="b" transform="translate(778.5 1674.5) scale(0.96 1)" font-size="68">d</text>
<text x="859" y="1722.9" font-size="24">IP:</text>
<text x="929" y="1722.9" font-size="24" text-anchor="middle">4R2</text>
<text x="996.7" y="1722.9" font-size="24" text-anchor="middle">6R3</text>
<text x="1060.5" y="1722.9" font-size="24" text-anchor="middle">IgG</text>
<text x="886" y="1765.7" font-size="24" text-anchor="end">Myc</text>
<text x="886.5" y="1794.4" font-size="24" text-anchor="end" textLength="78" lengthAdjust="spacingAndGlyphs">(TRF2)</text>
<text x="887" y="1861" font-size="25" text-anchor="end">PP4R2</text>
<text x="887" y="1943.6" font-size="25" text-anchor="end">PP6R3</text>
<clipPath id="c15"><rect x="895.3" y="1733.4" width="201.10000000000014" height="76.39999999999986"/></clipPath>
<g clip-path="url(#c15)">
<rect x="895.3" y="1733.4" width="201.10000000000014" height="76.39999999999986" fill="#a9a9a9"/>
<rect x="895.3" y="1733.4" width="201.10000000000014" height="76.39999999999986" filter="url(#nz)" opacity="0.5"/>
<g filter="url(#b2)"><rect x="904.5" y="1772.7" width="52.3" height="6.0" rx="3.0" fill="#141414" opacity="0.35"/><rect x="968.0" y="1773.8" width="51.0" height="6.5" rx="3.0" fill="#141414" opacity="0.6"/><rect x="1004.0" y="1773.2" width="16.0" height="7.5" rx="3.0" fill="#141414" opacity="0.5"/><rect x="1078.0" y="1770.0" width="6.0" height="16.0" rx="3.0" fill="#141414" opacity="0.1"/></g>
</g>
<rect x="896.3" y="1734.4" width="199.10000000000014" height="74.39999999999986" fill="none" stroke="#0a0a0a" stroke-width="2.2"/>

<clipPath id="c16"><rect x="895.3" y="1815.6" width="201.10000000000014" height="75.40000000000009"/></clipPath>
<g clip-path="url(#c16)">
<rect x="895.3" y="1815.6" width="201.10000000000014" height="75.40000000000009" fill="#b7b7b7"/>
<rect x="895.3" y="1815.6" width="201.10000000000014" height="75.40000000000009" filter="url(#nz)" opacity="0.5"/>
<g filter="url(#b1)"><rect x="904.5" y="1847.5" width="52.5" height="7.5" rx="3.0" fill="#141414" opacity="0.75"/></g>
<g filter="url(#b2)"><rect x="897.0" y="1875.1" width="60.0" height="13.0" rx="3.0" fill="#141414" opacity="0.28"/><rect x="968.0" y="1876.5" width="51.0" height="11.0" rx="3.0" fill="#141414" opacity="0.2"/><rect x="1027.8" y="1874.5" width="54.8" height="13.0" rx="3.0" fill="#141414" opacity="0.36"/></g>
</g>
<rect x="896.3" y="1816.6" width="199.10000000000014" height="73.40000000000009" fill="none" stroke="#0a0a0a" stroke-width="2.2"/>

<clipPath id="c17"><rect x="895.3" y="1897" width="201.10000000000014" height="76.79999999999995"/></clipPath>
<g clip-path="url(#c17)">
<rect x="895.3" y="1897" width="201.10000000000014" height="76.79999999999995" fill="#b5b5b5"/>
<rect x="895.3" y="1897" width="201.10000000000014" height="76.79999999999995" filter="url(#nz)" opacity="0.5"/>
<g filter="url(#b1)"><rect x="968.0" y="1932.2" width="51.0" height="13.5" rx="6.0" fill="#141414" opacity="0.97"/></g>
</g>
<rect x="896.3" y="1898" width="199.10000000000014" height="74.79999999999995" fill="none" stroke="#0a0a0a" stroke-width="2.2"/>

<line x1="897" y1="1980.5" x2="1095" y2="1980.5" stroke="#111" stroke-width="2"/>
<text x="996.5" y="2007.4" font-size="22.5" text-anchor="middle">HEK 293</text>
<text x="997.3" y="2031" font-size="22.5" text-anchor="middle">pLPC-Myc-TRF2</text>
<text x="1200" y="1723" font-size="24">IP:</text>
<text x="1273.4" y="1723" font-size="24" text-anchor="middle">4R2</text>
<text x="1338" y="1723" font-size="24" text-anchor="middle">6R3</text>
<text x="1401" y="1723" font-size="24" text-anchor="middle">IgG</text>
<text x="1227" y="1766.2" font-size="24" text-anchor="end">Flag</text>
<text x="1226.5" y="1793.9" font-size="24" text-anchor="end" textLength="91.5" lengthAdjust="spacingAndGlyphs">(RTEL1)</text>
<text x="1227" y="1858.3" font-size="25" text-anchor="end">PP4R2</text>
<text x="1227" y="1943.4" font-size="25" text-anchor="end">PP6R3</text>
<clipPath id="c18"><rect x="1236.4" y="1733.4" width="201.29999999999995" height="76.0"/></clipPath>
<g clip-path="url(#c18)">
<rect x="1236.4" y="1733.4" width="201.29999999999995" height="76.0" fill="#b4b4b4"/>
<rect x="1236.4" y="1733.4" width="201.29999999999995" height="76.0" filter="url(#nz)" opacity="0.5"/>
<rect x="1298" y="1733" width="8" height="78" fill="#cfcfcf" opacity="0.7" filter="url(#b2)"/>
<g filter="url(#b3)"><rect x="1250.0" y="1731.0" width="47.0" height="80.0" rx="2.0" fill="#141414" opacity="0.1"/><rect x="1306.0" y="1731.0" width="56.0" height="80.0" rx="2.0" fill="#141414" opacity="0.1"/><rect x="1374.0" y="1731.0" width="44.0" height="80.0" rx="2.0" fill="#141414" opacity="0.05"/><rect x="1297.0" y="1731.0" width="9.0" height="80.0" rx="2.0" fill="#141414" opacity="0.0"/></g>
<g filter="url(#b1)"><rect x="1251.0" y="1765.3" width="45.6" height="4.0" rx="2.0" fill="#141414" opacity="0.42"/><rect x="1251.0" y="1778.6" width="45.6" height="4.0" rx="2.0" fill="#141414" opacity="0.35"/><rect x="1311.0" y="1763.5" width="49.0" height="7.5" rx="3.0" fill="#141414" opacity="0.9"/></g>
</g>
<rect x="1237.4" y="1734.4" width="199.29999999999995" height="74.0" fill="none" stroke="#0a0a0a" stroke-width="2.2"/>

<clipPath id="c19"><rect x="1236.4" y="1815.6" width="201.29999999999995" height="76.20000000000005"/></clipPath>
<g clip-path="url(#c19)">
<rect x="1236.4" y="1815.6" width="201.29999999999995" height="76.20000000000005" fill="#b3b3b3"/>
<rect x="1236.4" y="1815.6" width="201.29999999999995" height="76.20000000000005" filter="url(#nz)" opacity="0.5"/>
<g filter="url(#b2)"><rect x="1248.0" y="1844.5" width="49.7" height="11.0" rx="5.0" fill="#141414" opacity="0.9"/></g>
<g filter="url(#b2)"><rect x="1248.0" y="1874.0" width="52.0" height="14.0" rx="3.0" fill="#141414" opacity="0.25"/><rect x="1308.0" y="1876.0" width="54.0" height="11.0" rx="3.0" fill="#141414" opacity="0.16"/><rect x="1372.0" y="1873.5" width="55.0" height="14.0" rx="3.0" fill="#141414" opacity="0.36"/></g>
</g>
<rect x="1237.4" y="1816.6" width="199.29999999999995" height="74.20000000000005" fill="none" stroke="#0a0a0a" stroke-width="2.2"/>

<clipPath id="c20"><rect x="1236.4" y="1897.5" width="201.29999999999995" height="75.79999999999995"/></clipPath>
<g clip-path="url(#c20)">
<rect x="1236.4" y="1897.5" width="201.29999999999995" height="75.79999999999995" fill="#b1b1b1"/>
<rect x="1236.4" y="1897.5" width="201.29999999999995" height="75.79999999999995" filter="url(#nz)" opacity="0.5"/>
<g filter="url(#b1)"><rect x="1310.0" y="1934.8" width="52.4" height="15.0" rx="6.0" fill="#141414" opacity="0.98"/></g>
</g>
<rect x="1237.4" y="1898.5" width="199.29999999999995" height="73.79999999999995" fill="none" stroke="#0a0a0a" stroke-width="2.2"/>

<line x1="1238" y1="1980.4" x2="1436" y2="1980.4" stroke="#111" stroke-width="2"/>
<text x="1338.4" y="2007.1" font-size="22.5" text-anchor="middle">HEK 293 pHAGE</text>
<text x="1338" y="2032" font-size="22.5" text-anchor="middle">Flag/HA-RTEL1</text>

</svg>
</body></html>
